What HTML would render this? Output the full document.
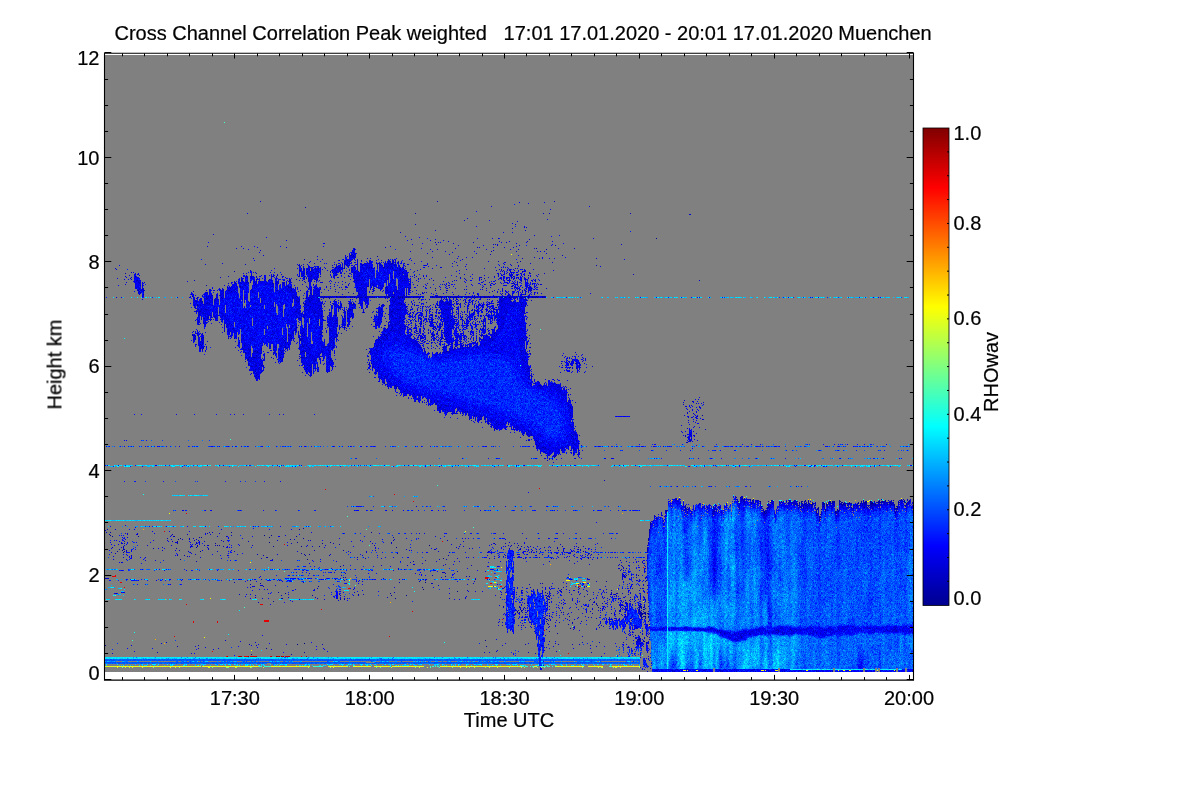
<!DOCTYPE html>
<html lang="en"><head><meta charset="utf-8"><title>Cross Channel Correlation Peak weighted</title>
<style>html,body{margin:0;padding:0;background:#fff;overflow:hidden}svg{display:block}text{font-family:"Liberation Sans", sans-serif;font-size:20px;fill:#000;stroke:#000;stroke-width:0.22px}</style></head><body>
<svg width="1200" height="800" viewBox="0 0 1200 800">
<rect width="1200" height="800" fill="#fff"/>
<defs><linearGradient id="jet" x1="0" y1="1" x2="0" y2="0"><stop offset="0" stop-color="#00008f"/><stop offset="0.125" stop-color="#0000ff"/><stop offset="0.375" stop-color="#00ffff"/><stop offset="0.5" stop-color="#80ff80"/><stop offset="0.625" stop-color="#ffff00"/><stop offset="0.875" stop-color="#ff0000"/><stop offset="1" stop-color="#800000"/></linearGradient></defs>
<rect x="105" y="55" width="808" height="617" fill="#808080"/>
<defs><g fill="none" stroke-width="1" shape-rendering="crispEdges"><path id="s0" d="M.5 0m0 0v1m0 8v1m0 1v1m0 13v1m0 4v1m0 6v1m0 3v2m0 2v1m1-44v1m0 2v1m0 2v1m0 1v1m0 4v2m0 7v2m0 5v1m0 2v1m1-32v1m0 8v1m0 1v1m0 6v1m0 2v2m0 6v1m0 8v1m0 5v1m1-47v2m0 8v1m0 3v1m0 3v1m0 2v1m0 3v1m0 3v1m0 2v1m0 2v1m0 9v1m1-47v1m0 5v1m0 5v1m0 9v1m0 1v1m0 3v1m0 1v2m0 2v1m0 5v1m0 1v1m0 4v1m1-42v1m0 4v1m0 1v1m0 3v1m0 4v1m0 2v1m0 4v1m0 5v1m0 5v1m0 4v1m1-37v1m0 1v1m0 2v1m0 15v1m0 2v1m0 4v1m0 1v1m0 1v1m1-45v1m0 16v2m0 5v1m0 2v1m0 13v1m0 1v1m0 1v1m1-44v2m0 3v1m0 3v1m0 2v1m0 1v1m0 4v2m0 2v1m0 1v1m0 5v1m0 3v1m0 2v1m0 2v1m1-44v1m0 7v1m0 7v1m0 4v1m0 1v2m0 7v1m0 2v1m0 1v1m0 7v3m1-46v1m0 1v1m0 3v1m0 2v1m0 6v2m0 8v1m0 1v3m0 1v2m0 1v2m0 4v1m0 2v1m1-46v1m0 9v3m0 5v1m0 4v2m0 2v1m0 1v1m0 6v1m0 1v2m0 4v1m0 1v1m1-47v1m0 8v1m0 13v1m0 9v1m0 2v1m0 1v1m0 5v1m1-43v1m0 6v1m0 2v1m0 2v2m0 1v1m0 5v1m0 11v2m0 1v2m0 5v1m1-42v1m0 5v1m0 2v1m0 2v1m0 6v1m0 8v4m0 3v1m0 3v1m1-37v2m0 13v1m0 5v1m0 3v1m0 1v2m0 6v3m1-44v1m0 1v3m0 4v1m0 1v1m0 6v1m0 2v1m0 1v1m0 1v2m0 2v1m0 1v2m0 2v1m0 1v1m0 3v1m0 1v1m1-46v1m0 3v1m0 1v1m0 1v4m0 9v1m0 6v1m0 2v1m0 5v2m1-37v3m0 7v1m0 4v1m0 7v1m0 1v1m0 1v2m0 2v1m0 3v1m1-38v2m0 8v1m0 1v1m0 1v1m0 4v1m0 4v1m0 1v3m0 6v1m0 7v1m1-45v1m0 5v1m0 4v1m0 7v2m0 7v1m0 2v1m0 1v3m0 3v3m0 3v1m1-38v1m0 14v1m0 5v1m0 2v1m0 12v1m1-43v2m0 3v2m0 2v1m0 4v1m0 3v1m0 1v1m0 8v1m0 1v3m0 1v1m0 1v1m1-38v3m0 1v1m0 4v1m0 1v2m0 1v2m0 6v2m0 7v1m0 5v1m1-28v1m0 3v1m0 6v1m0 1v1m0 6v2m0 7v2m1-27v3m0 1v1m0 3v2m0 1v1m0 1v1m0 1v1m0 6v2m0 3v1m0 2v1m1-47v1m0 4v1m0 3v1m0 2v2m0 2v1m0 6v1m0 9v2m0 1v3m0 1v1m0 2v1m0 2v1m1-43v1m0 3v1m0 4v1m0 1v1m0 1v1m0 1v1m0 1v1m0 4v2m0 10v2m0 1v1m0 2v1m1-46v2m0 4v1m0 1v3m0 3v1m0 2v1m0 12v2m0 9v1m0 3v1m0 1v1m1-47v1m0 2v1m0 3v1m0 4v1m0 1v2m0 2v1m0 4v2m0 3v1m0 2v1m0 11v1m1-44v1m0 5v1m0 1v1m0 3v1m0 6v1m0 3v2m0 2v1m0 2v4m0 3v1m0 2v1m0 1v1m1-44v1m0 8v1m0 17v1m0 1v1m0 1v2m0 2v1m0 2v2m0 2v1m0 4v1m1-47v1m0 4v1m0 9v1m0 9v1m0 2v1m0 6v2m0 8v1m1-43v1m0 5v1m0 1v2m0 4v3m0 7v1m0 2v1m0 9v1m1-42v1m0 24v1m0 8v1m0 2v1m0 2v1m1-34v1m0 1v1m0 1v2m0 6v1m0 1v1m0 4v2m0 4v1m0 1v1m0 5v1m0 1v1m0 4v1m1-43v1m0 14v2m0 6v1m0 6v1m0 1v1m0 1v1m0 2v1m1-41v2m0 2v2m0 4v5m0 2v1m0 1v1m0 2v1m0 1v2m0 2v1m0 5v1m0 10v1m1-47v1m0 5v2m0 4v6m0 12v1m0 5v1m0 8v1m1-47v1m0 7v2m0 1v2m0 24v1m0 4v1m0 3v2m1-44v3m0 1v7m0 3v1m0 1v2m0 7v1m0 4v2m0 6v2m0 2v1m1-46v2m0 4v2m0 4v1m0 8v3m0 3v1m0 1v1m0 5v2m0 8v1m1-45v3m0 2v1m0 2v1m0 6v1m0 10v1m0 8v1m0 9v1m1-43v1m0 3v2m0 7v1m0 3v1m0 6v1m0 3v3m0 3v1m0 3v1m0 2v1m1-42v1m0 1v1m0 4v2m0 1v1m0 16v3m0 2v1m0 2v1m0 1v2m1-37v1m0 23v1m0 2v1m0 3v1m1-35v1m0 1v1m0 1v1m0 2v1m0 2v1m0 6v1m0 3v1m0 10v1m0 6v1m0 1v2m1-47v1m0 1v1m0 5v1m0 3v1m0 10v1m0 1v1m0 8v1m0 5v2m0 1v1"/><path id="s1" d="M.5 0m0 6v3m0 4v1m0 9v2m0 10v1m0 8v1m0 1v1m1-47v2m0 1v1m0 3v1m0 9v2m0 4v1m0 5v1m0 3v1m0 1v4m0 3v2m0 1v1m1-41v1m0 3v1m0 1v1m0 1v1m0 1v1m0 1v2m0 9v3m0 4v1m0 3v1m0 3v1m1-41v1m0 5v2m0 3v1m0 1v1m0 1v1m0 9v1m0 6v1m0 1v1m0 3v3m1-41v1m0 5v1m0 8v1m0 1v2m0 4v2m0 1v1m0 13v3m1-46v2m0 1v2m0 10v1m0 13v1m0 3v1m0 1v1m0 7v3m1-39v1m0 6v1m0 4v1m0 1v3m0 6v1m0 2v1m0 2v1m0 4v1m0 1v1m0 1v2m1-46v2m0 4v1m0 1v2m0 2v3m0 4v1m0 2v1m0 2v1m0 2v2m0 3v1m0 3v2m1-35v1m0 11v1m0 13v1m0 3v1m0 10v1m1-46v1m0 1v1m0 3v1m0 1v1m0 2v1m0 7v1m0 6v1m0 3v1m0 7v1m0 3v1m1-44v1m0 9v1m0 10v2m0 3v1m0 6v1m0 10v1m0 2v1m1-32v1m0 17v1m1-35v1m0 1v1m0 4v1m0 4v3m0 4v1m0 9v1m0 3v1m0 6v1m0 3v1m0 2v1m1-46v1m0 2v3m0 4v1m0 8v1m0 7v1m0 3v1m0 9v1m0 1v1m1-41v1m0 11v1m0 3v2m0 6v1m0 2v1m0 7v1m0 1v1m1-41v1m0 1v1m0 3v1m0 3v1m0 1v2m0 7v1m0 9v1m0 4v1m0 1v1m1-41v1m0 1v1m0 1v1m0 3v2m0 3v1m0 3v1m0 13v1m0 4v1m0 4v2m1-41v1m0 5v1m0 6v2m0 3v1m0 5v1m0 3v2m0 5v1m0 2v1m0 2v1m1-36v2m0 2v1m0 3v1m0 4v1m0 7v1m0 3v1m0 12v1m1-47v1m0 5v1m0 1v1m0 15v1m0 5v2m0 15v1m1-41v1m0 5v1m0 4v1m0 10v1m0 14v1m0 2v1m1-43v2m0 3v1m0 1v1m0 2v1m0 2v1m0 1v3m0 17v1m0 2v2m0 1v1m1-47v1m0 4v2m0 3v2m0 6v1m0 1v1m0 4v2m0 2v1m0 3v1m0 8v2m0 1v1m1-46v1m0 9v1m0 5v1m0 4v1m0 5v5m0 3v1m0 5v3m0 3v1m1-45v1m0 2v1m0 1v1m0 3v1m0 1v3m0 1v1m0 2v1m0 10v1m0 3v5m1-37v1m0 3v2m0 17v1m0 9v1m0 4v1m1-40v2m0 2v1m0 7v1m0 5v1m0 3v1m0 2v3m0 1v1m0 3v1m0 8v1m1-45v1m0 2v1m0 5v1m0 12v1m0 5v1m0 4v3m0 4v1m0 4v1m1-44v1m0 3v1m0 5v1m0 1v2m0 1v1m0 2v1m0 1v1m0 2v1m0 8v1m0 1v2m1-37v2m0 6v1m0 7v1m0 12v1m0 4v1m0 8v2m1-47v1m0 5v1m0 8v1m0 29v1m1-44v2m0 8v1m0 3v1m0 1v1m0 7v1m0 3v1m0 2v2m0 6v1m0 3v1m1-44v2m0 4v1m0 8v1m0 1v1m0 7v2m0 14v1m0 3v1m1-47v1m0 9v1m0 3v1m0 1v1m0 3v2m0 11v2m0 9v1m1-44v1m0 7v1m0 6v1m0 2v1m0 7v1m0 6v2m0 4v2m0 4v1m1-44v1m0 11v3m0 5v2m0 9v1m0 2v1m0 4v1m1-44v1m0 3v1m0 3v2m0 1v1m0 1v1m0 5v1m0 11v2m0 1v1m0 5v1m0 2v1m1-34v1m0 6v2m0 6v1m0 2v1m0 13v1m1-39v1m0 1v1m0 2v1m0 1v1m0 7v1m0 1v1m0 1v1m0 2v1m0 1v1m0 10v1m0 2v3m1-43v1m0 10v1m0 5v1m0 4v1m0 8v3m0 7v1m1-37v1m0 7v1m0 6v1m0 2v1m0 2v1m0 1v1m0 1v1m0 7v1m0 3v2m1-37v1m0 2v1m0 1v1m0 6v1m0 4v1m0 6v2m0 4v1m0 2v2m1-39v2m0 5v2m0 8v4m0 1v1m0 2v1m0 1v1m0 11v1m1-44v1m0 1v1m0 2v1m0 1v1m0 10v1m0 3v1m0 2v2m0 4v1m0 4v2m0 6v1m1-46v1m0 1v1m0 3v1m0 7v1m0 2v2m0 11v1m0 14v1m1-36v1m0 3v1m0 2v1m0 2v2m0 3v3m0 1v1m0 10v2m0 3v1m1-44v1m0 9v1m0 4v1m0 6v1m0 5v1m0 2v1m0 1v1m0 4v1m1-35v1m0 2v2m0 4v1m0 4v1m0 8v1m0 1v1m0 1v1m0 2v1m0 1v1m0 6v1m0 1v1"/><path id="s2" d="M.5 0m0 12v1m0 6v1m0 8v1m1-9v2m0 10v1m1-32v2m0 7v1m0 27v1m1-22v1m0 3v1m0 10v1m1-31v1m0 30v1m1-29v1m0 14v1m0 10v1m1-32v1m0 28v1m1-24v1m0 4v1m0 16v1m2-25v1m0 8v1m0 3v1m0 22v1m1-29v1m0 3v1m0 6v1m0 3v1m0 11v1m1 4v1m1-3v1m2-24v1m0 19v1m1-22v1m0 12v1m0 7v1m2-17v2m0 3v1m0 13v1m1-41v1m0 16v1m0 27v1m1-41v1m0 11v1m0 15v1m0 4v1m1-16v1m1-12v1m0 12v1m0 3v1m0 2v1m1-13v1m0 1v1m0 16v1m1-36v1m0 38v1m1-16v1m0 10v1m1-37v1m0 39v1m1-46v1m0 26v1m0 5v1m1-27v1m0 4v1m0 2v1m0 3v1m1-9v1m0 20v1m1-28v1m0 8v1m0 2v1m0 4v1m1-21v1m0 1v1m0 3v1m0 7v1m0 1v1m1-2v1m0 5v1m0 1v1m1-14v1m0 9v1m0 18v1m1-37v2m0 25v1m1-32v1m0 1v1m0 28v1m0 6v1m0 3v1m1-15v1m0 14v1m1-33v1m0 4v1m0 7v1m0 1v1m1 5v1m0 11v2m1-45v2m0 8v1m0 21v1m0 5v1m1-19v1m0 6v1m0 2v1m1 4v2m1-1v1m2 2v1m1-34v1m0 20v1m0 16v1m1-39v1m0 3v1m0 10v2m0 7v1m1-20v1m0 24v1m1-12v1m0 9v1m0 1v1"/><path id="s3" d="M0 .5m11 0h1m27 1h1m7 0h1m-48 1h1m4 0h1m3 0h1m10 0h1m22 0h1m-38 1h1m7 0h1m6 0h1m14 0h1m-35 1h1m8 0h1m29 0h1m-30 1h1m24 0h1m9 0h1m-47 1h1m10 0h1m18 1h1m1 0h1m-29 1h2m1 0h1m-1 1h1m23 0h1m11 0h1m-34 1h1m24 0h1m4 0h1m2 0h1m-32 1h1m10 0h1m7 0h1m-26 1h1m35 0h1m-21 1h1m-24 1h1m3 0h2m3 0h1m12 0h1m8 0h1m4 0h1m-4 2h1m9 0h1m2 0h2m-30 1h1m-2 1h1m28 1h1m-23 1h1m1 0h1m11 0h2m2 0h1m4 1h1m-41 1h1m4 0h1m-11 1h2m10 0h1m-5 1h1m2 0h1m7 0h1m3 0h1m1 0h1m5 0h1m-25 1h1m6 0h1m22 0h1m-34 1h1m13 0h1m15 0h1m-31 2h1m7 0h1m6 0h1m6 0h1m10 0h1m-16 1h1m5 0h1m12 1h1m-33 1h1m13 0h1m17 0h1m-37 1h1m10 0h1m1 0h1m26 0h1m-39 1h1m9 0h1m12 0h1m7 0h1m1 0h1m3 1h1m-2 1h1m-23 1h1m16 0h1m-35 1h1m9 0h1m-12 1h1m19 0h1m18 0h1m-23 1h2m15 0h1m-35 1h1m1 0h1m18 0h1m12 0h1m1 0h1m-23 1h1m9 0h1m12 0h1m-41 1h1m-3 1h1m26 0h2m4 0h1m8 0h1m-40 1h1m26 0h1m3 0h1m-32 1h1m31 0h1m-23 1h1m-13 1h1m12 0h1m21 0h1m1 0h1"/></g><pattern id="p0" width="48" height="48" patternUnits="userSpaceOnUse"><rect width="48" height="48" fill="#000080"/><use href="#s0" stroke="#00009a"/><use href="#s1" stroke="#000080"/><use href="#s2" stroke="#0000ba"/><use href="#s3" stroke="#000080"/></pattern><pattern id="p1" width="48" height="48" patternUnits="userSpaceOnUse"><rect width="48" height="48" fill="#000094"/><use href="#s0" stroke="#0000ae"/><use href="#s1" stroke="#000080"/><use href="#s2" stroke="#0000ce"/><use href="#s3" stroke="#000080"/></pattern><pattern id="p2" width="48" height="48" patternUnits="userSpaceOnUse"><rect width="48" height="48" fill="#0000a8"/><use href="#s0" stroke="#0000c3"/><use href="#s1" stroke="#00008e"/><use href="#s2" stroke="#0000e3"/><use href="#s3" stroke="#000080"/></pattern><pattern id="p3" width="48" height="48" patternUnits="userSpaceOnUse"><rect width="48" height="48" fill="#0000bd"/><use href="#s0" stroke="#0000d7"/><use href="#s1" stroke="#0000a2"/><use href="#s2" stroke="#0000f7"/><use href="#s3" stroke="#000082"/></pattern><pattern id="p4" width="48" height="48" patternUnits="userSpaceOnUse"><rect width="48" height="48" fill="#0000d1"/><use href="#s0" stroke="#0000ec"/><use href="#s1" stroke="#0000b7"/><use href="#s2" stroke="#000cff"/><use href="#s3" stroke="#000097"/></pattern><pattern id="p5" width="48" height="48" patternUnits="userSpaceOnUse"><rect width="48" height="48" fill="#0000e6"/><use href="#s0" stroke="#0001ff"/><use href="#s1" stroke="#0000cb"/><use href="#s2" stroke="#0021ff"/><use href="#s3" stroke="#0000ab"/></pattern><pattern id="p6" width="48" height="48" patternUnits="userSpaceOnUse"><rect width="48" height="48" fill="#0000fa"/><use href="#s0" stroke="#0015ff"/><use href="#s1" stroke="#0000df"/><use href="#s2" stroke="#0035ff"/><use href="#s3" stroke="#0000c0"/></pattern><pattern id="p7" width="48" height="48" patternUnits="userSpaceOnUse"><rect width="48" height="48" fill="#000fff"/><use href="#s0" stroke="#002aff"/><use href="#s1" stroke="#0000f4"/><use href="#s2" stroke="#004aff"/><use href="#s3" stroke="#0000d4"/></pattern><pattern id="p8" width="48" height="48" patternUnits="userSpaceOnUse"><rect width="48" height="48" fill="#0024ff"/><use href="#s0" stroke="#003eff"/><use href="#s1" stroke="#0009ff"/><use href="#s2" stroke="#005eff"/><use href="#s3" stroke="#0000e8"/></pattern><pattern id="p9" width="48" height="48" patternUnits="userSpaceOnUse"><rect width="48" height="48" fill="#0038ff"/><use href="#s0" stroke="#0053ff"/><use href="#s1" stroke="#001eff"/><use href="#s2" stroke="#0072ff"/><use href="#s3" stroke="#0000fd"/></pattern><pattern id="p10" width="48" height="48" patternUnits="userSpaceOnUse"><rect width="48" height="48" fill="#004dff"/><use href="#s0" stroke="#0067ff"/><use href="#s1" stroke="#0032ff"/><use href="#s2" stroke="#0087ff"/><use href="#s3" stroke="#0012ff"/></pattern><pattern id="p11" width="48" height="48" patternUnits="userSpaceOnUse"><rect width="48" height="48" fill="#0061ff"/><use href="#s0" stroke="#007bff"/><use href="#s1" stroke="#0046ff"/><use href="#s2" stroke="#009bff"/><use href="#s3" stroke="#0027ff"/></pattern><pattern id="p12" width="48" height="48" patternUnits="userSpaceOnUse"><rect width="48" height="48" fill="#0075ff"/><use href="#s0" stroke="#0090ff"/><use href="#s1" stroke="#005bff"/><use href="#s2" stroke="#00b0ff"/><use href="#s3" stroke="#003bff"/></pattern><pattern id="p13" width="48" height="48" patternUnits="userSpaceOnUse"><rect width="48" height="48" fill="#008aff"/><use href="#s0" stroke="#00a4ff"/><use href="#s1" stroke="#006fff"/><use href="#s2" stroke="#00c4ff"/><use href="#s3" stroke="#004fff"/></pattern><pattern id="p14" width="48" height="48" patternUnits="userSpaceOnUse"><rect width="48" height="48" fill="#009eff"/><use href="#s0" stroke="#00b9ff"/><use href="#s1" stroke="#0084ff"/><use href="#s2" stroke="#00d8ff"/><use href="#s3" stroke="#0064ff"/></pattern><pattern id="p15" width="48" height="48" patternUnits="userSpaceOnUse"><rect width="48" height="48" fill="#00b3ff"/><use href="#s0" stroke="#00cdff"/><use href="#s1" stroke="#0098ff"/><use href="#s2" stroke="#00edff"/><use href="#s3" stroke="#0078ff"/></pattern><pattern id="p16" width="48" height="48" patternUnits="userSpaceOnUse"><rect width="48" height="48" fill="#00c7ff"/><use href="#s0" stroke="#00e1ff"/><use href="#s1" stroke="#00acff"/><use href="#s2" stroke="#02fffd"/><use href="#s3" stroke="#008dff"/></pattern><pattern id="p17" width="48" height="48" patternUnits="userSpaceOnUse"><rect width="48" height="48" fill="#00dbff"/><use href="#s0" stroke="#00f6ff"/><use href="#s1" stroke="#00c1ff"/><use href="#s2" stroke="#17ffe8"/><use href="#s3" stroke="#00a1ff"/></pattern><pattern id="p18" width="48" height="48" patternUnits="userSpaceOnUse"><rect width="48" height="48" fill="#00f0ff"/><use href="#s0" stroke="#0bfff4"/><use href="#s1" stroke="#00d5ff"/><use href="#s2" stroke="#2bffd4"/><use href="#s3" stroke="#00b5ff"/></pattern><pattern id="p20" width="48" height="48" patternUnits="userSpaceOnUse"><rect width="48" height="48" fill="#1affe5"/><use href="#s0" stroke="#34ffcb"/><use href="#s1" stroke="#00feff"/><use href="#s2" stroke="#54ffab"/><use href="#s3" stroke="#00deff"/></pattern></defs>
<g transform="translate(105 55)" fill="none" stroke-width="1" shape-rendering="crispEdges">
<path stroke="url(#p0)" d="M.5 0m317 532v1m1 1v1"/>
<path stroke="url(#p1)" d="M.5 0m73 484v1m2-2v1m84-4v1m5 1v1m12 57v1m20-50v1m4 8v1m91-9v1m151 75v1m96-11v1m1-1v1m1 0v1m0 1v1m3-3v1m0 1v2"/>
<path stroke="url(#p2)" d="M.5 0m4 479v1m1 0v1m5 17v1m2-3v1m5-2v1m52-15v1m3 4v1m35-10v1m3 10v1m2 1v1m2-1v1m47 11v1m0 90v1m1-92v1m2-16v1m9 49v1m3 5v1m16-57v1m0 101v1m7-91v1m0 88v1m0 8v1m3-94v1m15-17v1m21 6v1m0 26v1m2-1v1m52-25v1m22 27v1m6 0v1m4-38v1m16 30v1m12 14v1m12-16v1m17 69v1m22-87v1m11 46v1m27-13v1m0 5v1m0 1v1m0 17v1m1-26v1m1 2v1m0 20v1m0 3v1m1-23v1m23 19v1m12-27v1m13 8v1m44 1v2m0 1v1m0 1v3m1-2v2m1-6v1m0 1v1m0 4v1m1-5v1m0 3v1m1-5v2m0 3v1m1-38v1m1-36v1m0 1v4m0 34v1m0 27v1m1-76v3m0 72v1m1-85v5m1-12v3m37-16v1m52-7v1m25 7v4m4-14v1m31 0v2m2-3v2m1-2v1m0 1v1m1 0v2m1-5v4m1-5v2m0 1v1m1-2v3m1-1v3m2-4v1m2 0v1m4-3v2m1 5v2m1-3v2m1-3v4m1 5v2m1-4v1m1-6v1m1-8v1m3 6v1m7-9v2m1-2v2m1-2v2m1 8v2m1-2v3m1-5v2m1-1v1m1-11v3m1-2v1m1 0v1m1-1v1m1 0v1m1-2v1m7 0v1m11-1v1m1-4v3m1-1v2m1-3v3m1-3v3m4-3v3m1-3v3m1-2v2m1-1v2m1-4v1m4-1v1m1-2v3m1-1v1m1-4v1m12 0v1m1 3v3m1 1v2m1-4v1m0 1v1m1-3v3m1-8v2m6-3v1m1 1v1"/>
<path stroke="url(#p3)" d="M0 .5m491 210h1m36 9h1m-317 23h1m3 0h2m1 0h5m1 0h2m5 0h3m1 0h7m1 0h2m3 0h1m1 0h1m1 0h1m1 0h1m4 0h2m2 0h1m1 0h4m1 0h1m1 0h1m6 0h2m2 0h1m1 0h6m1 0h6m2 0h1m1 0h1m2 0h1m5 0h2m4 0h1m6 0h2m2 0h1m3 0h1m1 0h2m1 0h2m1 0h1m1 0h1m1 0h1m1 0h1m2 0h2m1 0h1m5 0h2m2 0h2m3 0h1m1 0h1m1 0h1m1 0h3m1 0h1m1 0h2m2 0h1m1 0h1m1 0h1m3 0h1m1 0h1m1 0h2m2 0h1m1 0h4m4 0h3m1 0h1m1 0h1m2 0h2m1 0h2m2 0h1m2 0h4m5 0h1m1 0h1m195 199h2m-3 1h3m-3 1h3m1 0h1m-8 1h1m2 0h1m2 0h2m5 0h1m2 0h1m147 0h1m1 0h1m3 0h1m-165 1h2m7 0h2m3 0h2m27 0h1m1 0h3m3 0h2m12 0h1m76 0h1m2 0h1m2 0h1m7 0h4m4 0h1m-170 1h1m4 0h1m15 0h2m25 0h1m2 0h2m5 0h2m10 0h1m1 0h1m18 0h2m30 0h1m19 0h5m3 0h3m8 0h1m1 0h3m-154 1h1m8 0h1m9 0h1m17 0h2m1 0h1m16 0h1m3 0h1m10 0h1m4 0h3m18 0h1m8 0h1m2 0h1m12 0h1m1 0h3m2 0h4m1 0h2m2 0h4m5 0h1m4 0h1m-167 1h1m12 0h1m16 0h1m18 0h1m9 0h1m3 0h1m6 0h1m3 0h3m7 0h3m1 0h1m1 0h1m1 0h5m4 0h3m2 0h7m4 0h1m1 0h2m1 0h1m2 0h1m10 0h2m2 0h2m3 0h1m2 0h2m2 0h1m1 0h1m5 0h1m7 0h1m-168 1h1m27 0h3m29 0h1m1 0h2m2 0h1m3 0h1m2 0h1m2 0h1m6 0h3m1 0h2m4 0h3m4 0h7m1 0h5m1 0h2m1 0h2m4 0h1m1 0h3m3 0h3m2 0h2m2 0h2m5 0h2m10 0h1m7 0h1m-168 1h1m27 0h1m1 0h1m28 0h1m3 0h1m1 0h3m2 0h1m1 0h1m3 0h1m8 0h1m1 0h2m3 0h1m11 0h2m2 0h1m3 0h1m1 0h1m2 0h2m1 0h1m2 0h1m1 0h1m2 0h3m1 0h3m6 0h1m24 0h2m-222 1h1m53 0h1m21 0h1m7 0h1m30 0h1m2 0h2m1 0h1m4 0h1m41 0h1m14 0h1m4 0h1m-189 1h1m1 0h1m25 0h1m47 0h1m7 0h1m30 0h1m2 0h1m3 0h1m3 0h1m41 0h1m40 0h1m-210 1h1m27 0h1m52 0h1m40 0h1m86 0h1m-210 1h1m26 0h2m49 0h1m132 0h2m-233 1h2m45 0h2m49 0h1m1 0h2m58 0h1m-161 1h1m21 0h1m24 0h2m49 0h1m1 0h2m49 0h1m1 0h1m2 0h1m3 0h1m11 0h2m56 0h1m-231 1h1m46 0h2m49 0h1m1 0h2m49 0h1m21 0h1m56 0h1m-184 1h2m49 0h1m1 0h2m50 0h1m17 0h1m-71 1h1m69 0h1m-72 1h1m71 0h1m-173 1h1m99 0h1m55 0h1m-1 1h1m-2 1h1m-157 2h1m-13 1h1m11 0h1m-14 4h1m-1 1h1m-420 6h1m139 0h1m-162 2h1m438 0h1m-379 1h1m-160 1h1m25 0h1m34 0h1m8 3h1m13 0h1m-3 1h1m3 0h1m22 0h1m100 0h1m70 0h1m53 0h1m-272 2h2m18 0h1m194 0h1m-1 1h1m-53 1h1m-193 1h1m67 0h1m109 0h1m-7 1h1m242 0h1m20 0h1m-463 1h1m1 0h1m72 0h1m127 0h1m192 0h1m60 0h1m-456 1h1m433 0h1m-439 1h1m3 0h2m453 0h1m1 0h1m-267 1h1m-191 1h1m75 0h1m446 0h1m-525 1h1m133 2h1m51 0h1m20 0h1m254 0h1m-402 1h1m78 0h1m65 0h1m175 0h1m81 0h1m-401 1h1m285 1h1m-109 1h1m77 0h1m2 1h1m-22 1h1m195 2h1m-79 2h1m-73 1h1m149 0h1m0 1h1m0 1h1m-157 1h1m-11 3h1m-117 1h1m2 0h1m0 1h1m99 0h1m-105 2h1m296 0h1m-173 1h1m179 0h1m-206 1h1m203 0h2m-2 1h1m-311 1h1m63 0h1m-150 1h1m355 1h1m38 0h1m-412 1h1m68 0h1m95 0h1m31 1h2m109 0h1m18 6h1m49 1h1m-218 2h1m216 0h1m-222 1h1m156 0h1m63 0h1m4 0h2m-255 1h1m246 0h2m1 0h3m-225 1h1m14 0h1m141 0h1m-8 1h1m6 0h1m0 1h1m74 0h1m-343 1h1m112 0h1m153 1h1m40 0h1m-52 1h1m85 0h1m-353 1h1m265 0h1m83 0h1m-366 1h1m334 0h2m27 0h1m2 0h1m-92 1h1m61 0h1m-5 1h1m3 0h1m-76 1h1m5 0h1m18 0h1m-28 1h1m120 0h2m-122 1h1m3 0h1m73 0h1m40 0h2m2 0h1m-124 1h1m2 0h1m97 0h1m17 0h1m-125 1h1m4 0h1m2 0h1m96 0h1m1 0h1m16 0h1m4 0h1m-130 1h2m1 0h1m2 0h2m97 0h1m18 0h1m-123 1h1m3 0h1m118 0h1m-1 1h1m-1 1h1m-1 1h1m-1 1h2m-2 1h2m-1 1h2m-98 1h1m84 0h1m14 0h1m-100 1h2m26 0h1m-25 1h1m18 0h1m78 1h1m-147 1h1m69 1h1m-71 2h1m46 1h1m-2 1h1m24 0h1m-4 1h1m3 0h1m-2 1h1m5 1h1m-35 5h1m3 6h1m-295 1h1m-7 2h1m72 0h1m249 0h1m-468 1h1m467 3h1m-30 2h1m11 1h1m-73 1h1m50 1h1"/>
<path stroke="url(#p4)" d="M0 .5m155 146h1m293 0h1m-308 12h1m382 0h1m58 1h2m-256 16h1m-36 2h1m-188 2h1m442 4h1m-36 6h1m-67 1h1m-349 1h1m78 1h1m287 1h1m-327 1h1m11 1h1m335 8h1m-296 7h1m179 12h1m-183 3h1m-113 1h1m283 3h1m12 0h1m-37 1h1m97 3h1m-173 2h1m-59 6h108m6 0h116m-230 1h1m3 0h1m2 0h1m5 0h1m2 0h5m3 0h1m7 0h1m2 0h3m1 0h1m1 0h1m1 0h1m1 0h4m2 0h2m1 0h1m4 0h1m3 0h6m2 0h2m8 0h1m6 0h2m1 0h1m1 0h2m1 0h5m2 0h2m1 0h1m9 0h2m1 0h3m1 0h1m2 0h1m2 0h1m3 0h1m1 0h1m1 0h2m2 0h1m1 0h4m3 0h2m2 0h3m1 0h1m1 0h1m1 0h1m3 0h1m1 0h1m2 0h2m1 0h1m1 0h1m1 0h3m3 0h1m3 0h1m1 0h1m4 0h4m5 0h1m1 0h2m5 0h2m1 0h2m4 0h5m1 0h1m191 200h1m-61 1h1m-5 1h1m5 0h1m62 0h2m2 0h1m2 0h2m160 0h1m-241 1h1m6 0h1m59 0h1m2 0h3m7 0h1m4 0h2m14 0h2m136 0h2m-174 1h1m2 0h1m3 0h1m5 0h1m1 0h2m2 0h3m12 0h3m5 0h1m1 0h1m1 0h1m9 0h3m105 0h1m6 0h2m-167 1h2m7 0h2m3 0h2m12 0h3m5 0h3m4 0h1m3 0h1m1 0h5m88 0h1m2 0h2m10 0h3m4 0h3m2 0h1m-242 1h1m71 0h2m9 0h1m3 0h3m11 0h2m10 0h2m2 0h4m1 0h4m32 0h1m31 0h1m19 0h1m2 0h2m3 0h1m1 0h1m1 0h1m6 0h1m1 0h2m-166 1h1m12 0h1m8 0h1m9 0h1m13 0h1m3 0h1m2 0h1m4 0h2m10 0h1m1 0h1m2 0h1m14 0h3m24 0h1m4 0h2m1 0h1m10 0h1m3 0h1m2 0h4m5 0h4m5 0h1m-215 1h1m28 0h1m23 0h1m29 0h1m1 0h1m16 0h1m11 0h1m1 0h1m6 0h1m3 0h1m1 0h1m7 0h2m8 0h3m4 0h4m2 0h1m2 0h1m1 0h1m3 0h2m2 0h1m1 0h1m2 0h1m1 0h2m3 0h1m3 0h3m1 0h2m6 0h2m4 0h1m5 0h1m-217 1h1m1 0h1m28 0h1m48 0h1m5 0h1m1 0h1m16 0h1m11 0h1m2 0h1m2 0h1m3 0h1m2 0h1m9 0h3m1 0h2m3 0h1m7 0h7m2 0h1m1 0h1m5 0h2m4 0h1m1 0h3m3 0h3m2 0h2m28 0h2m-225 1h1m1 0h1m4 0h1m24 0h1m2 0h1m21 0h1m27 0h1m36 0h1m1 0h1m17 0h1m2 0h1m19 0h1m3 0h1m4 0h2m6 0h1m2 0h1m1 0h1m3 0h1m32 0h1m-225 1h1m3 0h1m1 0h2m24 0h1m24 0h1m21 0h2m4 0h1m1 0h1m33 0h1m7 0h1m40 0h2m19 0h1m-190 1h1m1 0h1m27 0h1m2 0h1m51 0h1m37 0h1m44 0h1m41 0h1m-228 1h1m17 0h1m4 0h1m23 0h1m46 0h2m133 0h1m-231 1h1m18 0h1m28 0h1m181 0h2m-232 1h1m20 0h1m26 0h1m103 0h1m2 0h1m3 0h1m11 0h1m-173 1h1m48 0h1m101 0h1m1 0h1m2 0h1m3 0h1m11 0h2m56 0h1m-184 1h2m49 0h1m2 0h1m50 0h1m-156 1h1m49 0h1m52 0h1m69 0h1m-182 1h1m181 0h1m-183 1h1m109 0h1m-101 2h1m154 0h1m-167 1h1m165 0h1m-169 3h1m11 0h1m-1 1h1m-539 1h1m524 2h1m-348 1h1m346 0h1m-541 4h1m98 0h1m101 0h1m-185 1h1m9 0h1m69 0h1m-81 1h1m8 0h2m34 0h1m14 0h1m-17 1h1m477 0h1m-433 1h1m8 0h1m51 0h2m16 0h1m352 0h1m-523 1h1m71 0h1m1 0h1m-9 1h1m100 1h1m99 0h1m-118 1h1m-79 1h1m23 0h1m24 0h1m121 0h1m-196 1h1m22 0h2m130 0h1m317 0h1m-472 1h1m18 0h2m93 0h1m80 0h1m132 0h1m8 0h1m2 0h1m130 0h1m-454 1h1m364 0h1m-437 1h1m72 0h1m9 0h2m165 0h1m136 0h1m6 0h1m-396 1h1m67 0h2m4 0h1m25 0h1m49 0h1m38 0h1m217 0h1m45 0h1m-49 1h1m4 0h1m23 0h1m-405 1h1m355 0h1m53 0h2m-159 1h1m28 0h1m83 0h1m8 0h1m2 0h1m31 0h1m13 0h1m-452 1h1m35 0h1m16 0h1m22 0h1m315 0h1m9 0h1m3 0h1m15 0h1m1 0h1m7 0h1m4 0h1m16 0h1m-455 1h1m239 0h1m71 0h1m92 0h1m31 0h1m19 0h1m-218 1h1m197 0h1m82 0h1m-457 1h1m109 0h1m286 0h1m-466 1h1m71 0h1m308 0h1m12 0h2m55 0h1m13 0h1m2 0h1m6 0h1m-151 1h1m124 0h1m16 0h1m-478 1h1m75 0h1m313 0h1m70 0h1m10 0h1m-47 1h1m48 0h1m1 0h1m2 0h1m-333 1h1m195 0h1m130 0h1m-409 1h1m91 0h1m84 0h1m-203 1h1m464 0h1m23 0h1m-449 1h1m262 0h1m-339 1h1m366 0h1m153 0h1m0 1h2m-232 1h1m205 0h1m-239 1h1m25 0h1m210 0h1m25 0h1m-305 1h1m49 0h1m254 0h1m-28 2h2m3 0h1m-3 1h1m1 1h1m15 0h1m-198 2h3m-30 1h1m206 1h2m12 0h1m-15 1h3m11 0h1m5 0h1m-21 1h4m-4 1h1m1 0h2m10 0h1m-162 1h1m-155 1h1m40 0h1m63 0h1m48 0h1m-229 1h1m31 0h1m140 0h1m4 0h1m-181 1h1m228 0h1m121 0h1m-337 2h1m212 0h1m66 0h1m-291 1h1m216 0h1m61 0h1m48 0h1m64 0h1m-369 1h1m162 0h1m204 0h1m-326 1h1m267 0h1m-154 1h1m129 0h1m-247 1h1m32 0h1m207 0h1m59 0h1m23 0h2m-349 1h1m57 0h1m264 0h1m-257 1h1m196 0h2m12 0h2m11 0h1m-27 1h2m-17 1h1m3 0h1m-265 1h1m255 0h1m7 0h1m-262 1h1m212 0h1m47 0h1m37 0h1m40 0h1m-317 1h1m24 0h1m212 0h1m65 0h1m-68 1h1m60 0h1m14 0h1m-371 1h1m32 0h1m26 0h1m71 0h1m112 0h1m103 0h1m18 0h1m-362 1h1m54 0h1m22 0h1m108 0h1m-126 1h1m15 0h1m113 0h1m190 0h1m-308 1h1m250 0h1m31 0h1m7 0h1m-338 1h1m258 0h1m42 0h1m26 0h1m-71 1h1m74 0h1m-103 1h1m77 0h1m22 0h2m-106 1h1m99 0h2m18 0h1m-22 1h4m15 0h2m3 0h1m-111 1h1m14 0h1m52 0h2m16 0h1m3 0h1m14 0h1m4 0h1m-25 1h1m1 0h1m15 0h1m5 0h1m-120 1h1m74 0h1m22 0h1m21 0h1m-22 1h1m13 0h1m-132 1h1m17 0h1m72 0h1m20 0h1m5 0h1m12 0h1m-49 1h1m28 0h2m4 0h1m13 0h1m8 0h1m-132 1h1m1 0h1m2 0h1m116 0h1m-48 1h1m45 0h2m-26 1h1m24 0h1m-97 1h1m70 0h1m-46 1h1m45 0h1m-73 1h1m47 0h1m-52 1h1m8 0h1m46 0h1m14 0h1m2 0h2m25 0h1m-92 1h1m81 0h1m7 0h1m1 0h1m-12 1h1m-32 1h1m-1 1h1m29 0h1m-31 1h1m-33 1h1m30 0h1m25 0h1m18 0h1m1 0h2m1 0h1m-52 1h1m2 0h1m-28 1h1m28 0h1m-30 1h1m24 0h1m295 0h2m-57 1h4m50 0h3m-351 1h1m49 0h1m296 0h3m-140 1h4m15 0h5m51 0h1m63 0h2m-363 1h1m14 0h1m171 0h1m55 0h4m-59 1h1m56 0h1m-134 3h1m-65 1h1m64 0h1m-4 1h1m4 0h1m-14 1h1m1 0h3m3 0h1m-8 1h4m1 0h1m6 0h1m-425 1h1m259 0h1m151 0h4m2 0h1m-8 1h5m2 0h2m3 0h1m-50 1h1m36 0h3m7 0h2m-143 1h1m22 0h1m-271 1h1m27 0h1m238 0h1m22 0h1m9 0h1m-428 1h1m119 0h1m4 0h1m-80 1h1m418 0h1m-53 1h1m1 0h1m-224 1h1m0 1h1m-168 3h1m370 0h1m-338 1h1m59 1h1m39 0h1"/>
<path stroke="url(#p5)" d="M.5 0m1 477v1m4 7v1m1 7v1m0 3v1m1-6v1m1 11v1m2-292v1m0 260v1m1-261v1m1 8v1m1 6v1m0 258v1m1-280v1m0 275v1m2 0v2m1-1v1m0 18v1m1-6v1m1-279v1m0 261v1m0 1v1m1-271v1m0 2v1m0 7v1m0 248v1m0 5v1m1-263v1m0 4v1m0 261v1m0 7v1m1-284v1m0 272v1m0 9v1m0 95v1m1-370v1m1-5v1m0 253v1m1-252v1m1-7v1m0 4v1m0 1v1m2-8v1m0 8v1m1-8v9m0 8v1m0 237v1m0 121v1m1-379v16m0 238v1m1-252v13m1-15v1m0 2v14m1-18v2m0 2v17m1-19v1m0 2v17m1-15v14m1-5v4m1-11v16m0 1v1m1-17v1m0 1v1m0 2v10m1-16v1m0 7v1m1-7v1m5 257v1m8 5v1m3 94v1m3-96v1m5-18v1m1 4v1m1 2v1m0 5v1m1-5v1m3 8v1m1-3v1m12 2v1m1-255v1m0 240v2m0 12v1m1-259v1m0 1v2m0 5v1m0 238v1m0 1v1m0 1v2m0 4v1m1-261v3m0 3v1m0 8v1m0 32v1m0 204v1m1-253v4m0 35v1m0 1v2m0 208v1m1-254v1m0 2v12m0 25v1m0 2v9m1-63v1m0 16v11m0 3v1m0 22v8m0 311v1m1-359v1m0 4v9m0 2v1m0 8v1m0 10v3m0 1v5m0 4v3m0 299v1m1-349v1m0 1v6m0 2v1m0 1v4m0 5v1m0 9v1m0 3v1m0 10v1m1-48v15m0 5v8m0 5v6m1-39v1m0 3v24m0 7v14m0 299v1m1-347v24m0 1v1m0 6v1m0 1v2m0 2v15m0 191v2m1-247v18m0 7v1m0 9v1m0 2v1m0 4v11m0 205v1m1-299v1m0 38v22m0 14v15m1-54v2m0 4v16m0 16v19m1-58v1m0 1v2m0 6v20m0 11v14m1-56v36m0 17v1m0 7v1m0 186v1m0 3v1m1-282v1m0 27v35m0 5v1m0 11v1m0 5v2m0 181v2m0 112v1m1-363v1m0 4v1m0 1v29m0 1v2m0 22v4m1-58v14m0 3v12m0 1v1m0 18v1m0 205v1m1-306v1m0 52v9m0 6v10m0 1v1m0 226v2m1-261v15m0 6v6m0 3v1m1-31v14m0 8v10m0 26v1m1-58v1m0 2v10m0 8v7m0 1v1m0 3v1m1-37v2m0 6v8m0 8v1m0 5v1m1-28v1m0 1v1m0 18v6m0 2v1m0 329v1m1-360v1m0 8v4m0 8v7m1-20v5m0 8v10m1-27v8m0 9v10m1-31v1m0 2v9m0 9v10m0 230v1m1-263v1m0 9v3m0 13v1m0 332v1m1-361v3m0 4v1m0 15v5m0 6v1m0 210v1m1-257v1m0 11v12m0 11v6m0 1v1m1-30v10m0 12v10m0 2v1m1-62v1m0 24v11m0 14v10m0 4v1m0 4v1m1-44v10m0 15v6m1-35v1m0 29v17m1-41v6m0 19v8m1-34v6m0 21v11m0 219v1m1-262v9m0 23v17m0 201v1m0 9v2m1-272v1m0 6v1m0 1v1m0 1v7m0 26v19m0 212v1m0 1v1m0 1v1m1-270v8m0 27v14m0 1v1m1-50v6m0 30v9m0 3v2m0 1v1m0 213v1m1-271v2m0 2v6m0 32v14m0 197v1m1-254v1m0 1v8m0 34v10m1-52v7m0 36v6m1-62v1m0 9v10m0 38v10m1-57v8m0 40v9m0 2v1m0 5v1m1-100v1m0 32v1m0 1v7m0 42v7m1-53v3m0 56v1m1-67v5m0 50v1m0 2v10m0 3v1m0 295v1m1-369v10m0 52v8m0 197v1m0 48v1m1-313v6m0 61v1m0 2v1m0 288v1m1-396v1m0 30v10m0 51v5m0 5v2m0 1v1m0 3v1m1-78v9m0 52v11m1-102v1m0 24v1m0 1v2m0 1v1m0 2v5m0 54v13m1-78v2m0 5v4m0 55v12m1-89v1m0 11v10m0 57v17m0 1v1m0 234v1m1-324v1m0 1v10m0 59v15m0 8v1m1-92v9m0 60v16m0 226v1m1-316v1m0 9v3m0 61v20m1-19v19m0 3v2m1-101v3m0 3v7m0 65v23m0 3v1m0 212v1m0 10v1m1-328v10m0 76v14m0 2v1m1-98v4m0 73v18m0 165v1m0 8v1m0 40v1m1-329v1m0 13v1m0 3v8m0 66v24m1-128v1m0 13v1m0 16v7m0 67v26m1-105v1m0 8v3m0 67v28m0 216v1m1-323v1m0 2v2m0 1v5m0 66v31m1-134v1m0 30v2m0 4v1m0 65v31m0 266v1m1-369v1m0 1v4m0 65v29m1-127v1m0 23v1m0 1v7m0 64v31m1-104v1m0 4v4m0 64v25m0 211v1m1-311v1m0 5v4m0 63v6m0 5v14m0 206v1m0 5v1m1-308v1m0 2v4m0 73v1m0 1v7m0 3v2m0 213v1m1-331v1m0 25v4m0 66v1m0 2v2m0 3v2m0 4v6m1-96v10m0 68v8m0 6v1m1-93v10m1-48v1m0 43v4m1-3v3m0 61v1m0 5v1m1-73v5m0 67v1m0 245v1m1-324v1m0 3v6m0 61v3m1-77v1m0 6v6m0 61v3m0 1v1m1-81v1m0 3v11m0 65v1m0 6v1m1-82v1m0 3v5m1-11v3m0 6v2m0 61v5m0 1v3m0 3v1m1-91v1m0 3v1m0 2v1m0 1v1m0 68v8m1-76v7m0 61v10m0 6v1m1-87v9m0 60v6m0 2v5m1-84v2m0 2v1m0 2v4m0 74v1m0 194v1m1-276v5m0 64v15m1-84v1m0 5v1m0 58v18m0 1v1m1-118v1m0 25v1m0 6v1m0 4v2m0 57v20m1-89v1m0 67v20m1-86v2m0 1v1m0 2v5m0 54v21m0 219v1m1-306v1m0 2v2m0 1v5m0 53v18m1-79v2m0 1v6m0 51v9m0 2v1m0 2v1m0 248v1m1-326v1m0 8v3m0 49v12m0 1v1m1-112v1m0 37v1m0 2v8m0 48v12m1-71v1m0 1v1m0 4v5m0 52v9m0 191v1m0 43v1m1-306v1m0 2v7m0 43v14m1-70v15m0 40v17m1-71v15m0 38v13m0 194v1m0 60v1m1-323v1m0 3v1m0 1v12m0 35v10m1-53v11m0 31v9m1-51v11m0 30v12m1-56v1m0 3v17m0 22v3m0 7v1m0 2v1m1-55v23m0 17v8m1-56v1m0 12v22m0 12v7m0 10v1m1-80v1m0 3v1m0 5v2m0 11v3m0 6v22m0 9v1m0 14v1m0 17v1m0 190v1m1-287v1m0 10v1m0 14v1m0 5v23m0 1v1m0 3v1m0 5v7m0 10v1m1-85v13m0 19v25m0 1v1m0 12v15m0 4v1m0 1v1m0 1v1m0 6v1m0 163v1m0 4v1m0 64v1m1-334v6m0 6v1m0 11v1m0 14v4m0 1v11m0 5v8m0 2v1m0 1v3m0 3v11m0 2v1m1-90v9m0 36v9m0 3v38m0 2v1m1-95v6m0 1v1m0 1v1m0 3v1m0 27v5m0 10v39m0 6v1m1-109v1m0 1v14m0 15v1m0 2v1m0 3v2m0 2v1m0 4v1m0 2v4m0 11v36m0 2v1m0 170v1m1-280v1m0 8v12m0 1v1m0 11v1m0 7v1m0 1v15m0 13v39m1-94v1m0 5v1m0 15v1m0 1v17m0 16v19m0 5v15m0 3v1m1-108v7m0 2v2m0 7v1m0 4v25m0 20v38m0 172v1m1-283v1m0 3v9m0 10v1m0 2v25m0 25v34m0 171v1m1-281v17m0 6v2m0 1v1m0 5v17m0 32v26m0 2v1m0 165v1m1-279v1m0 3v24m0 5v19m0 37v22m0 2v1m0 187v1m1-303v1m0 5v1m0 3v42m0 40v24m0 163v1m1-274v15m0 4v28m0 40v22m1-109v13m0 15v19m0 41v9m1-97v1m0 1v10m0 5v2m0 1v1m0 1v27m0 39v19m0 216v1m1-328v1m0 2v1m0 1v12m0 1v1m0 4v31m0 38v14m0 2v1m0 217v2m1-325v14m0 5v34m0 35v17m1-105v1m0 1v15m0 1v12m0 2v24m0 31v11m0 4v1m0 277v1m1-391v1m0 2v1m0 6v15m0 6v9m0 2v28m0 27v5m0 4v10m1-106v12m0 3v1m0 6v8m0 2v32m0 22v6m0 9v5m1-104v5m0 7v1m0 6v9m0 2v21m0 7v11m0 13v10m1-99v1m0 5v8m0 1v1m0 5v1m0 4v3m0 11v40m0 7v6m0 2v1m0 1v6m1-82v1m0 9v1m0 6v1m0 2v51m0 3v1m1-98v1m0 9v1m0 12v1m0 18v3m0 4v1m0 1v20m0 2v1m0 2v2m0 4v16m0 3v1m1-118v1m0 2v1m0 51v1m0 5v1m0 11v1m0 2v2m0 21v19m0 3v1m0 214v1m1-337v1m0 19v1m0 3v1m0 21v1m0 13v1m0 2v1m0 3v1m0 9v1m0 18v20m0 4v1m0 231v1m1-328v1m0 32v1m0 18v1m0 7v1m0 17v10m1-93v1m0 22v2m0 42v3m0 13v26m1-102v1m0 45v7m0 1v2m0 1v1m0 16v29m0 278v1m1-362v1m0 24v1m0 1v10m0 16v29m1-91v1m0 16v1m0 10v2m0 1v60m1-101v2m0 1v2m0 4v1m0 2v1m0 2v1m0 1v1m0 12v2m0 1v1m0 7v54m1-96v1m0 5v2m0 3v1m0 23v45m0 8v9m0 3v1m0 201v1m1-308v1m0 1v1m0 1v4m0 30v1m0 1v4m0 8v34m0 9v10m1-103v1m0 1v9m0 23v1m0 1v2m0 10v34m0 13v3m0 1v1m0 176v1m1-282v1m0 1v1m0 3v11m0 5v1m0 1v1m0 13v48m0 2v4m0 1v1m1-89v9m0 6v1m0 6v1m0 1v1m0 7v1m0 1v37m0 7v1m0 13v1m0 6v1m0 180v1m0 22v1m0 24v1m1-332v12m0 25v41m0 4v2m0 244v7m1-333v7m0 1v1m0 2v1m0 7v1m0 18v4m0 9v10m0 7v3m0 2v1m0 241v1m0 10v3m0 1v3m1-339v1m0 2v1m0 1v8m0 4v1m0 4v1m0 9v1m0 7v1m0 1v2m0 1v7m0 20v2m0 6v1m1-81v1m0 2v1m0 1v7m0 15v1m0 18v3m0 16v5m0 208v1m0 54v2m1-331v10m0 27v9m0 17v1m0 267v1m0 1v1m1-336v1m0 4v3m0 2v2m0 1v2m0 10v1m0 15v5m0 7v1m0 8v1m0 1v1m0 6v1m1-75v1m0 3v9m0 9v1m0 2v1m0 4v1m0 4v1m0 12v1m0 1v1m0 6v12m1-69v1m0 8v1m0 41v1m0 1v1m0 5v8m0 1v1m0 237v1m1-306v9m0 4v1m0 3v1m0 29v23m0 268v2m1-345v10m0 17v1m0 3v2m0 1v1m0 21v15m0 1v1m1-71v9m0 2v1m0 2v1m0 14v2m0 19v1m0 1v1m0 18v1m0 1v1m1-75v1m0 2v8m0 20v1m0 22v12m0 2v3m1-68v9m0 7v2m0 7v2m0 6v1m0 8v1m0 1v1m0 4v19m1-74v13m0 3v2m0 2v1m0 2v1m0 6v1m0 17v24m0 3v1m1-77v1m0 2v7m0 1v1m0 9v1m0 5v1m0 19v19m0 3v1m1-70v9m0 1v2m0 1v1m0 1v6m0 1v1m0 1v1m0 25v15m1-67v10m0 5v1m0 1v6m0 26v1m0 1v1m0 2v15m0 7v1m0 267v1m1-347v11m0 7v13m0 2v1m0 11v1m0 8v7m0 4v5m0 228v1m0 48v1m1-348v12m0 2v1m0 2v18m0 4v1m0 15v6m0 278v2m0 3v1m1-344v1m0 3v5m0 2v1m0 1v1m0 1v1m0 2v21m0 13v1m0 2v5m1-56v1m0 10v1m0 5v22m0 6v1m1-40v33m0 3v1m0 261v1m1-287v25m0 7v1m0 290v2m1-324v24m0 2v6m0 3v1m0 272v1m1-318v33m0 2v8m1-46v2m0 1v33m0 2v11m1-45v32m0 2v11m0 3v1m0 242v1m0 25v1m0 2v1m1-321v8m0 8v16m0 2v3m0 8v4m1-50v8m0 10v15m0 2v4m0 10v1m1-50v8m0 12v13m0 2v7m0 3v1m1-48v1m0 1v7m0 13v13m0 2v6m0 1v3m0 41v1m1-92v1m0 3v8m0 14v3m0 11v10m0 47v2m0 5v1m0 6v1m1-107v7m0 14v3m0 11v7m0 48v1m0 2v1m0 2v2m0 3v1m0 2v2m1-109v10m0 21v2m0 55v1m0 2v2m0 9v7m0 3v1m1-115v1m0 1v10m0 14v6m0 10v1m0 47v7m0 5v1m0 4v2m0 2v1m1-109v8m0 15v4m0 29v1m0 6v1m0 23v16m1-103v2m0 1v5m0 15v2m0 3v1m0 1v1m0 1v1m0 18v1m0 35v23m0 179v1m1-283v1m0 15v8m0 19v1m0 7v1m0 1v1m0 4v1m0 9v1m0 10v21m0 198v1m1-300v2m0 15v3m0 1v1m0 26v7m0 4v1m0 16v26m0 3v2m0 3v1m1-94v3m0 29v13m0 11v35m0 2v1m0 165v1m0 3v2m0 1v1m1-291v1m0 1v2m0 20v4m0 20v1m0 2v2m0 1v15m0 10v16m0 6v13m1-118v1m0 6v6m0 15v1m0 2v1m0 20v1m0 3v1m0 3v10m0 13v13m0 13v7m1-113v1m0 3v1m0 20v5m0 18v21m0 8v14m0 17v11m0 3v1m0 166v1m1-287v7m0 15v5m0 15v1m0 1v22m0 3v1m0 5v11m0 20v14m1-119v6m0 16v6m0 16v18m0 9v1m0 1v11m0 23v9m1-119v1m0 1v1m0 1v5m0 16v5m0 15v18m0 4v1m0 4v1m0 1v12m0 25v9m0 178v1m1-294v4m0 16v4m0 2v1m0 12v13m0 14v14m0 27v11m0 1v1m1-123v1m0 4v2m0 16v2m0 3v1m0 13v3m0 4v1m0 16v15m0 31v10m0 194v1m1-316v6m0 36v1m0 10v1m0 8v1m0 1v15m0 33v9m1-137v1m0 13v8m0 18v7m0 4v1m0 14v1m0 4v1m0 6v1m0 2v13m0 35v3m0 5v2m1-123v6m0 18v9m0 12v1m0 12v1m0 7v11m0 37v5m0 2v1m1-124v8m0 18v7m0 4v1m0 2v1m0 26v11m0 39v9m1-128v10m0 19v8m0 18v1m0 7v15m0 42v10m1-129v9m0 20v7m0 4v1m0 4v15m0 1v2m0 1v12m0 43v8m1-141v1m0 12v1m0 1v8m0 21v6m0 2v37m0 45v8m1-125v7m0 20v6m0 2v36m0 47v7m1-129v11m0 21v5m0 2v35m0 49v4m1-126v10m0 24v2m0 2v35m0 49v4m0 151v1m1-279v1m0 2v1m0 1v7m0 22v3m0 2v34m0 51v6m0 198v1m1-339v1m0 9v13m0 21v3m0 2v34m0 52v8m1-134v1m0 5v9m0 20v3m0 2v34m0 52v5m0 3v1m0 2v1m1-134v2m0 3v7m0 19v3m0 2v35m0 52v2m0 5v1m1-132v14m0 18v3m0 2v35m0 52v4m0 179v1m1-304v12m0 15v4m0 2v36m0 52v4m0 3v1m1-131v1m0 3v12m0 11v6m0 2v37m0 52v6m0 2v1m1-135v3m0 4v28m0 2v38m0 51v8m1-135v1m0 6v29m0 2v39m0 51v5m1-130v11m0 1v21m0 2v39m0 51v9m1-134v1m0 1v1m0 3v27m0 2v2m0 3v17m0 1v2m0 1v14m0 51v7m1-160v1m0 29v1m0 1v1m0 1v18m0 14v1m0 1v11m0 3v1m0 6v5m0 4v5m0 50v7m1-126v26m0 10v2m0 1v5m0 6v1m0 1v1m0 1v1m0 1v1m0 5v1m0 2v5m0 50v6m0 142v1m1-299v1m0 23v1m0 7v16m0 18v1m0 1v1m0 1v1m0 1v3m0 6v1m0 4v14m0 50v4m1-130v1m0 7v1m0 5v17m0 9v1m0 6v1m0 2v1m0 1v1m0 2v1m0 2v1m0 1v2m0 1v1m0 1v12m0 49v4m0 3v2m1-140v1m0 19v1m0 1v1m0 1v10m0 1v1m0 18v5m0 1v1m0 4v1m0 3v2m0 2v1m0 1v8m0 49v5m0 154v1m1-300v1m0 6v1m0 10v1m0 6v1m0 1v11m0 1v1m0 1v1m0 16v2m0 1v2m0 1v3m0 2v2m0 1v1m0 4v2m0 2v10m0 49v5m0 166v1m1-324v1m0 20v1m0 40v2m0 3v2m0 1v1m0 6v1m0 3v1m0 1v2m0 1v1m0 1v1m0 1v3m0 1v3m0 2v5m0 49v3m0 3v1m1-155v1m0 31v1m0 5v1m0 8v1m0 11v2m0 3v2m0 2v1m0 1v4m0 1v1m0 14v1m0 4v5m0 48v5m1-125v1m0 11v1m0 15v1m0 11v2m0 3v1m0 2v1m0 7v1m0 7v1m0 2v5m0 48v7m0 162v1m1-299v1m0 7v1m0 2v2m0 1v1m0 9v1m0 14v1m0 1v2m0 5v1m0 4v1m0 2v1m0 7v2m0 2v2m0 1v1m0 2v8m0 48v9m0 162v1m1-352v1m0 10v1m0 62v1m0 26v5m0 1v2m0 1v6m0 1v1m0 1v1m0 5v1m0 1v6m0 47v9m1-126v1m0 3v1m0 9v1m0 2v1m0 11v1m0 7v2m0 6v1m0 3v1m0 1v5m0 1v1m0 1v1m0 3v8m0 46v7m1-130v1m0 14v1m0 19v1m0 2v3m0 1v2m0 17v1m0 1v1m0 3v3m0 1v6m0 47v2m0 2v2m1-122v2m0 1v1m0 12v1m0 4v1m0 5v1m0 1v1m0 4v1m0 2v7m0 4v1m0 6v1m0 1v3m0 1v1m0 1v1m0 1v5m0 46v8m1-165v1m0 36v1m0 23v1m0 3v1m0 9v1m0 1v2m0 1v2m0 4v1m0 4v5m0 1v2m0 6v1m0 1v5m0 45v9m0 171v1m1-306v1m0 8v1m0 15v1m0 11v1m0 1v1m0 1v1m0 1v4m0 1v3m0 1v6m0 1v6m0 1v6m0 2v1m0 1v4m0 46v6m1-153v1m0 12v1m0 37v2m0 2v2m0 7v5m0 1v7m0 1v1m0 8v4m0 2v1m0 1v1m0 3v3m0 45v1m1-153v1m0 48v2m0 5v1m0 3v1m0 2v6m0 1v3m0 17v2m0 1v3m0 1v2m0 1v1m0 1v1m0 3v2m0 44v4m0 2v2m0 160v1m1-299v1m0 1v1m0 7v2m0 9v1m0 6v1m0 5v1m0 3v2m0 1v1m0 9v2m0 2v2m0 1v1m0 1v4m0 1v2m0 1v3m0 1v2m0 1v1m0 1v1m0 1v3m0 1v1m0 47v2m0 181v1m1-315v1m0 1v1m0 10v1m0 13v1m0 25v3m0 7v2m0 2v1m0 2v3m0 1v1m0 1v2m0 5v4m0 44v1m0 3v1m0 1v1m1-138v1m0 18v1m0 2v2m0 10v1m0 6v1m0 3v1m0 5v1m0 1v2m0 2v1m0 1v1m0 10v5m0 1v1m0 9v1m0 44v2m1-133v1m0 9v2m0 8v1m0 2v1m0 3v1m0 9v1m0 4v1m0 1v1m0 1v6m0 1v4m0 21v1m0 52v3m0 3v1m0 1v1m1-167v1m0 14v1m0 9v2m0 18v1m0 22v1m0 3v1m0 10v1m0 18v1m0 2v1m0 3v1m0 49v5m1-136v1m0 40v1m0 10v2m0 9v2m0 1v2m0 9v1m0 4v1m0 3v3m0 42v9m1-127v1m0 19v1m0 6v1m0 2v5m0 1v3m0 1v4m0 2v1m0 15v1m0 11v1m0 43v2m0 4v2m1-165v1m0 8v1m0 37v1m0 17v1m0 2v2m0 1v1m0 2v2m0 1v1m0 1v1m0 1v6m0 3v3m0 65v8m1-128v1m0 14v1m0 20v2m0 1v10m0 6v2m0 1v2m0 1v2m0 1v2m0 1v2m0 1v1m0 49v7m0 143v1m1-298v1m0 5v1m0 10v1m0 38v1m0 1v1m0 2v1m0 1v13m0 1v1m0 3v5m0 1v1m0 3v1m0 9v3m0 43v7m1-125v1m0 3v1m0 9v1m0 9v1m0 14v1m0 2v1m0 1v6m0 1v10m0 6v1m0 6v1m0 44v5m1-82v1m0 3v2m0 1v1m0 4v2m0 1v4m0 1v1m0 11v1m0 44v4m0 7v1m0 138v1m1-311v1m0 2v1m0 45v1m0 1v1m0 4v1m0 9v3m0 4v1m0 2v2m0 1v1m0 3v1m0 3v3m0 1v1m0 7v1m0 4v1m0 4v1m0 4v2m0 45v5m0 131v1m1-293v1m0 20v1m0 27v1m0 1v1m0 7v2m0 2v1m0 1v5m0 1v2m0 6v2m0 3v2m0 3v2m0 1v2m0 1v1m0 5v1m0 6v3m0 45v5m0 143v1m1-348v1m0 47v1m0 45v1m0 5v5m0 3v1m0 8v1m0 2v2m0 2v3m0 3v4m0 1v1m0 3v1m0 1v1m0 3v1m0 5v3m0 46v10m1-169v1m0 62v1m0 1v1m0 4v2m0 2v2m0 1v1m0 6v2m0 1v2m0 4v1m0 1v1m0 1v2m0 13v1m0 46v10m1-125v1m0 14v7m0 2v1m0 1v2m0 3v2m0 4v8m0 7v1m0 2v1m0 1v2m0 3v1m0 4v2m0 46v12m0 146v1m1-318v1m0 24v1m0 16v1m0 2v1m0 1v1m0 10v10m0 2v1m0 2v2m0 2v2m0 1v7m0 8v1m0 1v7m0 6v3m0 47v11m1-146v1m0 30v24m0 2v1m0 1v1m0 3v10m0 1v1m0 12v1m0 47v8m1-126v1m0 15v18m0 1v1m0 1v5m0 4v1m0 1v1m0 1v5m0 2v1m0 2v1m0 2v1m0 1v1m0 2v3m0 48v9m1-172v1m0 40v1m0 11v1m0 5v1m0 1v21m0 6v1m0 3v2m0 4v1m0 5v1m0 1v8m0 49v9m0 153v1m1-282v1m0 13v1m0 3v35m0 2v1m0 1v1m0 1v11m0 50v10m0 3v1m1-167v1m0 25v1m0 7v1m0 1v1m0 11v1m0 1v39m0 1v1m0 4v8m0 50v12m0 148v1m1-282v2m0 1v1m0 1v1m0 1v1m0 1v1m0 5v45m0 2v9m0 51v10m1-127v1m0 1v1m0 8v45m0 1v1m0 5v2m0 52v8m1-172v1m0 40v1m0 18v45m0 5v2m0 52v7m1-158v1m0 28v1m0 1v1m0 1v1m0 10v47m0 3v4m0 53v7m0 181v1m1-295v44m0 1v1m0 1v6m0 54v6m0 5v1m1-143v1m0 8v1m0 15v10m0 3v1m0 1v37m0 54v6m0 1v1m0 130v1m1-293v1m0 10v1m0 2v1m0 14v1m0 2v1m0 7v1m0 11v1m0 2v22m0 6v1m0 2v13m0 55v9m0 159v2m1-333v1m0 42v1m0 7v1m0 3v2m0 1v1m0 2v2m0 2v1m0 3v1m0 3v1m0 1v12m0 3v1m0 3v5m0 7v2m0 55v8m1-153v1m0 18v1m0 3v1m0 18v1m0 2v1m0 8v3m0 1v6m0 2v1m0 2v6m0 4v1m0 3v1m0 2v3m0 56v8m0 159v1m1-326v1m0 39v1m0 11v1m0 16v1m0 1v1m0 1v1m0 1v1m0 1v1m0 2v10m0 1v8m0 1v2m0 57v2m0 4v1m1-152v1m0 8v1m0 4v1m0 3v1m0 17v2m0 1v4m0 2v1m0 1v1m0 1v2m0 1v1m0 2v1m0 1v3m0 1v24m0 2v1m0 57v1m0 3v3m0 133v1m1-290v1m0 6v1m0 33v1m0 1v1m0 1v2m0 2v3m0 3v1m0 5v1m0 2v4m0 1v1m0 3v1m0 1v13m0 1v3m0 57v5m0 1v1m0 4v1m0 162v1m1-337v1m0 10v1m0 38v1m0 4v1m0 2v1m0 2v13m0 1v5m0 1v3m0 4v5m0 2v1m0 3v1m0 3v2m0 57v4m0 137v1m1-279v1m0 2v1m0 30v1m0 20v1m0 3v2m0 4v5m0 1v1m0 2v1m0 3v2m0 57v5m0 134v1m1-287v1m0 16v2m0 20v1m0 3v5m0 5v1m0 1v3m0 1v1m0 9v1m0 1v1m0 1v17m0 57v7m1-103v1m0 5v3m0 5v1m0 7v7m0 1v1m0 1v6m0 59v4m1-153v1m0 52v1m0 1v1m0 1v2m0 1v9m0 1v2m0 2v1m0 1v1m0 7v1m0 1v4m0 59v6m0 1v1m1-116v1m0 19v1m0 4v2m0 1v2m0 1v7m0 1v1m0 2v1m0 1v2m0 1v2m0 59v7m1-195v1m0 53v1m0 3v1m0 2v1m0 7v1m0 9v1m0 3v1m0 2v1m0 4v2m0 8v3m0 1v1m0 1v1m0 1v1m0 5v6m0 6v2m0 59v5m1-147v1m0 12v1m0 2v1m0 11v1m0 4v4m0 1v1m0 9v1m0 3v1m0 4v1m0 1v1m0 1v1m0 1v1m0 5v2m0 1v1m0 2v1m0 2v5m0 60v7m1-159v1m0 6v1m0 4v1m0 10v1m0 5v1m0 2v1m0 2v1m0 5v1m0 3v1m0 11v1m0 1v1m0 2v10m0 7v2m0 1v2m0 1v1m0 2v1m0 1v2m0 60v6m0 142v1m0 38v1m1-379v1m0 86v8m0 2v1m0 1v10m0 1v1m0 15v5m0 60v4m0 177v1m1-291v1m0 1v5m0 1v1m0 7v2m0 2v4m0 1v1m0 5v1m0 6v1m0 2v1m0 2v1m0 2v2m0 61v6m0 175v1m1-299v1m0 5v4m0 1v1m0 6v9m0 1v1m0 21v6m0 61v10m0 128v1m1-273v1m0 3v1m0 18v2m0 1v1m0 11v7m0 2v3m0 5v4m0 3v2m0 3v6m0 61v9m1-139v1m0 17v1m0 2v1m0 8v1m0 2v5m0 1v1m0 5v4m0 1v3m0 1v1m0 1v2m0 3v1m0 1v6m0 62v8m0 1v1m1-164v1m0 16v1m0 3v1m0 6v1m0 9v1m0 4v5m0 4v2m0 2v7m0 2v2m0 2v4m0 1v3m0 1v1m0 6v2m0 3v2m0 62v5m0 132v1m1-307v1m0 49v2m0 6v1m0 11v4m0 5v1m0 2v1m0 6v5m0 1v4m0 1v3m0 1v3m0 63v7m0 2v1m1-171v1m0 43v1m0 2v1m0 5v4m0 1v6m0 1v4m0 4v1m0 2v1m0 14v2m0 1v3m0 64v5m0 5v1m1-122v1m0 1v1m0 6v1m0 5v1m0 1v1m0 1v1m0 1v6m0 13v7m0 64v9m0 170v1m1-381v1m0 14v1m0 26v1m0 46v1m0 4v4m0 1v2m0 7v1m0 4v3m0 1v2m0 1v1m0 1v1m0 1v6m0 2v5m0 65v4m1-179v1m0 8v1m0 45v2m0 11v2m0 1v5m0 1v1m0 2v1m0 2v1m0 2v1m0 4v1m0 12v6m0 65v9m0 148v1m1-288v1m0 9v3m0 5v2m0 1v13m0 7v1m0 21v2m0 65v10m1-176v1m0 29v4m0 2v1m0 15v1m0 3v3m0 2v1m0 2v1m0 9v2m0 7v3m0 1v1m0 2v5m0 3v2m0 67v7m0 126v1m0 95v1m1-367v1m0 6v1m0 4v1m0 8v2m0 4v2m0 1v1m0 2v1m0 4v2m0 1v1m0 5v1m0 3v2m0 5v1m0 2v2m0 1v6m0 67v6m1-141v1m0 2v1m0 20v1m0 1v2m0 2v4m0 2v2m0 3v2m0 4v1m0 2v2m0 1v5m0 2v8m0 67v6m0 2v1m1-141v1m0 2v1m0 1v1m0 1v1m0 14v6m0 1v2m0 8v1m0 1v1m0 4v5m0 1v2m0 3v7m0 69v2m0 10v1m0 163v1m1-347v1m0 35v1m0 4v1m0 15v6m0 7v1m0 3v15m0 1v11m0 69v1m1-148v1m0 6v1m0 2v1m0 25v1m0 11v6m0 3v2m0 2v5m0 1v11m0 69v5m0 137v1m1-278v1m0 3v1m0 24v1m0 5v1m0 2v15m0 2v10m0 71v7m1-174v1m0 38v1m0 1v1m0 11v1m0 1v2m0 2v4m0 1v3m0 18v11m0 71v2m0 3v1m1-123v1m0 1v1m0 1v5m0 1v2m0 2v1m0 1v2m0 12v1m0 5v9m0 72v8m0 128v1m0 2v1m1-295v1m0 15v1m0 24v1m0 1v1m0 1v1m0 4v2m0 1v6m0 3v1m0 4v1m0 1v2m0 1v2m0 1v8m0 73v8m0 126v2m1-333v1m0 61v1m0 9v1m0 6v1m0 2v3m0 1v3m0 1v2m0 2v4m0 1v1m0 10v1m0 1v3m0 1v7m0 74v5m0 1v1m0 127v1m0 6v1m0 93v1m1-399v1m0 29v2m0 1v1m0 15v1m0 2v2m0 1v1m0 1v2m0 2v9m0 10v2m0 2v4m0 76v5m0 1v1m0 1v1m1-221v1m0 44v1m0 29v1m0 1v1m0 1v1m0 15v3m0 1v2m0 1v1m0 1v9m0 2v1m0 1v1m0 5v1m0 4v8m0 76v10m1-190v1m0 44v1m0 7v1m0 8v2m0 1v1m0 1v4m0 2v1m0 3v6m0 1v1m0 6v12m0 77v8m1-182v1m0 2v1m0 2v1m0 30v1m0 2v1m0 10v1m0 7v1m0 1v8m0 1v2m0 13v11m0 79v9m0 115v1m1-268v2m0 3v1m0 2v1m0 5v1m0 17v2m0 1v10m0 6v12m0 80v12m0 112v1m0 14v1m1-315v1m0 22v1m0 12v1m0 2v1m0 23v1m0 1v1m0 2v1m0 2v4m0 7v2m0 4v7m0 81v9m0 115v1m0 50v1m1-326v1m0 36v1m0 1v9m0 1v2m0 1v1m0 7v8m0 82v10m0 221v1m1-408v2m0 27v1m0 17v2m0 7v1m0 1v1m0 1v2m0 3v16m0 4v8m0 83v10m0 220v1m1-413v1m0 22v1m0 2v1m0 8v4m0 2v1m0 9v1m0 11v2m0 1v1m0 1v4m0 3v22m0 86v8m0 193v1m0 2v1m1-388v1m0 2v1m0 23v1m0 3v1m0 8v1m0 19v36m0 87v10m0 188v1m0 1v1m1-351v1m0 1v1m0 3v2m0 3v1m0 8v1m0 1v1m0 4v35m0 88v9m0 131v1m0 29v1m1-350v1m0 24v1m0 1v2m0 3v2m0 1v3m0 3v1m0 10v1m0 3v33m0 90v9m0 162v1m1-322v1m0 3v1m0 12v4m0 1v1m0 1v1m0 2v31m0 92v8m0 159v1m0 56v1m1-414v1m0 30v1m0 2v2m0 2v1m0 3v1m0 1v5m0 2v1m0 1v1m0 12v29m0 95v6m0 178v2m0 6v1m0 3v1m1-372v1m0 14v1m0 1v1m0 6v4m0 1v3m0 1v3m0 2v1m0 12v26m0 98v7m0 184v1m1-352v1m0 4v1m0 14v1m0 2v1m0 4v2m0 1v2m0 3v23m0 101v8m0 109v1m0 6v1m1-305v1m0 28v1m0 1v1m0 3v3m0 2v1m0 2v1m0 5v2m0 5v17m0 107v2m0 2v2m0 1v1m1-163v1m0 1v2m0 1v1m0 4v2m0 1v1m0 1v2m0 8v1m0 2v1m0 2v13m0 115v1m1-159v1m0 8v1m0 2v1m0 2v1m0 7v1m0 1v3m0 2v11m0 113v3m0 120v1m0 66v1m0 1v1m1-374v1m0 27v2m0 2v3m0 1v6m0 11v2m0 2v10m0 114v1m0 3v1m0 115v1m1-294v1m0 14v1m0 4v4m0 1v3m0 3v1m0 14v1m0 2v9m0 116v4m0 5v1m0 113v1m1-282v1m0 3v1m0 2v7m0 4v1m0 2v1m0 1v1m0 9v2m0 1v6m0 116v7m1-207v1m0 4v1m0 3v1m0 39v1m0 1v2m0 1v1m0 3v1m0 1v1m0 1v2m0 1v1m0 2v5m0 3v1m0 2v5m0 116v3m0 3v1m1-183v1m0 21v1m0 2v2m0 2v1m0 1v2m0 2v2m0 1v1m0 5v3m0 4v1m0 2v6m0 116v7m1-226v1m0 65v1m0 1v1m0 3v3m0 2v1m0 1v2m0 1v3m0 2v2m0 5v9m0 117v4m0 1v2m0 1v1m0 182v1m0 1v1m1-394v1m0 1v1m0 41v1m0 11v1m0 1v1m0 1v4m0 1v2m0 7v1m0 1v8m0 116v6m0 183v2m1-372v1m0 2v1m0 4v1m0 7v1m0 12v1m0 1v2m0 1v2m0 5v1m0 2v2m0 3v1m0 9v7m0 115v7m0 161v1m0 1v1m1-374v1m0 40v1m0 5v1m0 3v1m0 1v2m0 1v1m0 3v5m0 1v3m0 1v1m0 6v2m0 2v11m0 112v6m0 126v1m1-309v1m0 5v1m0 9v2m0 3v2m0 2v1m0 2v2m0 7v1m0 1v1m0 2v5m0 6v22m0 101v5m0 126v1m0 56v1m1-412v1m0 42v1m0 33v1m0 2v1m0 4v4m0 7v52m0 75v7m0 122v1m0 58v2m1-354v1m0 7v1m0 3v1m0 2v5m0 1v1m0 2v2m0 2v1m0 2v1m0 1v2m0 2v58m0 70v5m0 6v1m0 110v2m0 52v1m1-334v1m0 3v3m0 1v5m0 1v1m0 1v1m0 7v3m0 2v62m0 66v7m0 113v1m0 43v3m0 32v1m0 1v1m1-370v1m0 10v1m0 1v2m0 3v1m0 10v1m0 2v3m0 1v1m0 3v67m0 62v8m0 167v1m0 13v1m1-346v1m0 2v1m0 19v1m0 3v71m0 58v9m0 189v1m1-400v2m0 41v3m0 1v3m0 1v3m0 9v2m0 8v15m0 2v57m0 55v6m0 108v2m1-314v1m0 39v2m0 6v9m0 1v1m0 1v5m0 3v9m0 6v1m0 1v2m0 5v19m0 8v26m0 54v3m0 119v1m0 60v1m0 1v1m1-388v1m0 14v1m0 2v1m0 33v1m0 2v8m0 1v1m0 7v2m0 1v3m0 7v1m0 3v1m0 1v2m0 3v1m0 7v1m0 1v1m0 2v13m0 3v26m0 51v6m0 5v1m0 108v1m0 62v1m1-372v1m0 37v9m0 12v1m0 4v1m0 6v1m0 4v1m0 11v2m0 6v1m0 3v4m0 6v1m0 1v26m0 51v6m0 110v1m0 4v1m0 2v1m1-352v1m0 71v1m0 1v2m0 4v1m0 1v1m0 1v6m0 2v1m0 2v1m0 41v2m0 12v1m0 1v2m0 1v1m0 5v15m0 51v6m0 2v2m0 178v2m1-382v1m0 32v2m0 10v7m0 3v2m0 29v1m0 9v1m0 2v1m0 8v1m0 2v2m0 1v1m0 2v1m0 9v15m0 51v5m0 2v2m0 180v2m1-360v1m0 9v1m0 1v2m0 5v3m0 1v6m0 1v1m0 30v1m0 18v1m0 3v1m0 5v2m0 10v3m0 2v1m0 4v1m0 3v3m0 50v4m0 183v1m0 2v1m1-343v1m0 6v4m0 1v1m0 1v1m0 5v1m0 68v1m0 1v1m0 1v10m0 50v3m0 3v1m1-160v2m0 1v2m0 3v1m0 87v1m0 4v2m0 51v2m1-167v1m0 9v1m0 3v1m0 5v1m0 84v1m0 8v1m0 51v4m0 7v1m0 142v2m1-356v1m0 12v1m0 8v1m0 22v1m0 2v5m0 1v1m0 2v3m0 84v3m0 1v1m0 52v5m1-162v3m0 1v1m0 2v1m0 1v1m0 3v1m0 89v3m0 52v8m0 103v1m0 6v1m1-308v1m0 26v1m0 8v2m0 1v1m0 1v1m0 92v3m0 53v11m0 100v1m0 1v1m0 3v1m1-305v1m0 24v1m0 6v1m0 3v1m0 1v1m0 2v2m0 87v5m0 53v12m0 95v1m1-273v1m0 4v1m0 4v1m0 96v5m0 54v9m1-191v1m0 21v1m0 101v4m0 55v9m0 103v1m1-303v1m0 32v1m0 99v3m0 55v12m1-170v1m0 8v1m0 91v2m0 56v9m0 3v1m1-199v2m0 127v1m0 57v8m0 102v1m1-342v1m0 171v2m0 58v8m1-251v1m0 48v1m0 21v1m0 109v4m0 58v8m0 5v1m1-80v1m0 2v1m0 2v3m0 58v8m0 4v1m0 91v1m0 65v1m1-368v1m0 3v1m0 129v5m0 59v7m0 1v1m0 159v1m1-397v1m0 166v2m0 59v12m0 1v1m0 154v1m1-236v8m0 59v9m0 99v2m1-344v1m0 44v1m0 121v9m0 59v8m0 2v2m0 101v1m0 29v1m0 23v2m1-408v1m0 172v7m0 59v7m0 138v1m1-358v1m0 8v1m0 135v8m0 59v6m0 99v1m0 4v1m0 39v1m0 17v1m1-376v1m0 2v1m0 17v1m0 116v1m0 2v7m0 59v5m0 3v4m0 154v1m0 2v1m1-348v1m0 108v1m0 3v7m0 58v4m0 3v2m0 5v1m0 183v1m1-389v1m0 121v1m0 1v8m0 58v10m1-75v8m0 57v9m0 165v1m0 20v1m1-260v7m0 57v8m0 3v1m0 160v1m1-242v1m0 4v8m0 55v7m0 137v1m0 41v1m1-386v1m0 131v1m0 3v9m0 54v8m0 137v1m1-358v1m0 130v1m0 13v1m0 3v10m0 53v7m1-82v1m0 10v12m0 52v2m0 5v1m1-94v1m0 1v1m0 3v1m0 19v10m0 50v4m0 7v1m0 133v1m0 19v1m1-358v1m0 99v1m0 5v1m0 3v1m0 1v1m0 19v1m0 2v8m0 48v7m0 99v2m1-311v1m0 109v1m0 32v1m0 1v12m0 46v7m0 129v1m0 19v1m0 9v1m0 1v1m1-258v1m0 3v1m0 8v1m0 16v15m0 44v7m0 101v1m0 45v1m0 2v1m1-347v1m0 98v1m0 5v1m0 2v1m0 1v1m0 18v1m0 3v14m0 41v3m0 1v2m0 152v1m1-246v10m0 1v2m0 16v1m0 1v17m0 39v4m0 3v2m1-97v2m0 1v1m0 1v4m0 1v2m0 1v2m0 8v1m0 11v1m0 9v6m0 36v5m0 165v1m0 4v1m1-259v1m0 1v3m0 1v1m0 2v2m0 17v1m0 4v2m0 1v1m0 2v12m0 32v6m0 103v1m0 59v1m1-257v2m0 2v2m0 4v2m0 1v2m0 26v19m0 26v3m0 107v1m0 2v1m1-194v2m0 2v1m0 20v1m0 5v1m0 5v27m0 14v5m0 4v1m0 1v1m0 99v2m1-196v1m0 2v5m0 6v1m0 31v16m0 2v29m0 1v2m0 97v1m1-196v1m0 2v7m0 1v2m0 2v1m0 28v1m0 5v12m0 1v30m0 102v1m1-193v5m0 55v1m0 2v34m0 94v1m1-195v1m0 2v2m0 67v1m0 2v24m0 91v1m0 1v1m0 2v1m1-200v1m0 3v6m0 1v1m0 38v1m0 23v1m0 3v23m0 5v1m0 127v1m1-233v1m0 4v10m0 63v21m0 90v1m0 8v1m1-194v14m0 61v15m0 5v1m0 96v1m0 66v1m1-263v1m0 3v4m0 1v3m0 2v1m0 69v17m0 94v1m0 35v1m0 1v1m0 1v2m0 24v1m1-256v8m0 1v1m0 63v1m0 5v1m0 1v1m0 6v1m0 1v3m0 2v1m0 130v1m0 55v1m1-281v2m0 1v1m0 225v1m1-239v1m0 3v1m0 85v1m0 1v1m1-94v1m0 2v1m0 1v1m0 1v1m0 88v1m0 104v1m0 29v1m0 56v1m1-285v1m0 1v1m0 223v1m0 4v1m0 14v1m1-242v1m0 8v1m0 184v1m0 28v2m1-230v3m0 10v1m0 176v1m0 2v1m0 52v1m0 11v1m1-253v1m0 2v1m0 244v1m1-22v1m1 12v1m0 12v1m1-412v1m0 346v1m1-261v1m0 354v1m1 3v1m1-287v1m0 192v1m0 48v2m1-372v1m0 359v1m1-47v1m1-2v1m1 76v1m1-71v1m3-293v1m0 343v1m0 1v1m1 43v1m1-61v2m0 10v2m1-12v1m0 8v2m1-17v1m0 8v1m0 4v1m0 12v1m0 26v1m1-61v1m0 16v1m0 3v1m1-19v1m0 2v1m0 10v1m0 14v1m1-21v1m0 1v1m0 1v1m0 1v1m0 1v1m1 12v1m1-3v3m0 8v1m1-10v1m0 8v1m1-32v1m0 11v1m0 3v1m0 5v1m1-24v2m2-2v1m0 15v2m1-4v2m0 2v1m1-19v1m0 21v1m2-23v1m0 22v1m1-16v2m0 7v1m1-44v1m0 27v1m0 1v1m0 1v3m1 9v1m0 5v1m1-48v1m0 4v2m0 13v1m0 50v1m1-73v1m0 69v1m0 1v2m1-387v1m0 312v1m0 39v1m1-43v1m0 1v1m0 1v1m0 31v4m0 2v1m0 1v2m0 2v4m0 3v2m1-66v1m0 6v1m0 4v1m0 1v1m0 28v2m0 2v3m0 33v1m1-42v1m1-14v3m1-3v1m1-360v1m0 360v2m0 3v1m0 1v1m0 1v1m0 21v2m2-26v1m0 34v1m1 1v1m0 3v1m0 2v1m2-9v1m0 1v2m1-78v2m0 4v2m0 68v1m0 5v2m1-65v1m0 27v1m0 28v1m0 5v2m1-84v1m0 3v1m0 1v1m0 37v1m0 5v2m0 23v2m0 5v2m1-78v1m0 11v2m0 9v1m0 45v2m0 4v2m1-56v1m0 14v2m0 37v2m1-2v2m1-83v1m0 66v1m0 13v2m1-84v1m0 19v1m0 9v2m0 4v2m0 1v2m0 21v1m0 20v2m1-77v5m0 18v2m0 4v3m0 2v1m0 1v1m0 64v1m1-102v1m0 2v1m0 28v2m1-42v1m0 64v1m0 8v1m0 8v8m1-97v2m0 33v1m0 53v1m0 6v3m0 18v1m1-128v1m0 57v1m0 3v1m0 27v1m0 7v2m0 12v1m0 1v1m1-122v1m0 88v1m1-98v1m0 127v1m1-134v2m1-5v2m1-2v2m1-8v1m0 2v2m1-4v1m0 1v1m1-2v3m1-3v3m1 109v1m1-2v2m1-2v2m1-118v2m0 114v2m1-2v2m1-105v1m1-4v1m1-8v2m1-4v2m4-13v2m1 1v1m0 122v2m1-129v1m0 126v2m1-131v2m0 127v2m1-131v1m0 128v2m1-132v3m0 127v2m1-131v3m0 126v2m1-129v3m1-4v2m1-4v3m2-76v1m0 5v1m0 73v4m1-77v1m0 76v1m1-108v1m0 1v1m0 30v1m1-36v1m0 14v1m0 94v1m1-105v1m0 24v1m0 3v2m0 75v1m1-107v1m0 1v1m0 33v1m0 61v1m0 5v1m1-102v1m0 2v2m0 2v1m0 11v1m0 5v1m0 2v1m0 2v1m0 1v1m0 70v1m1-98v2m0 2v1m0 1v1m0 11v1m0 1v4m0 1v1m0 62v1m0 4v1m1-105v2m0 4v1m0 12v1m0 3v14m0 67v2m1-104v1m0 22v7m0 2v3m0 69v1m1-107v1m0 11v1m0 11v12m0 70v4m1-114v1m0 4v1m0 2v2m0 6v1m0 23v1m0 6v1m1-48v2m0 10v1m0 2v1m0 2v1m0 1v1m0 5v1m0 3v1m0 3v1m0 193v1m1-216v1m0 11v1m0 8v2m0 2v1m0 188v2m1-231v1m0 15v1m0 1v1m0 4v1m0 205v2m1-227v1m0 3v1m0 3v2m0 3v3m0 1v1m0 12v1m0 11v1m0 182v2m1-229v1m0 7v1m0 5v2m0 1v1m0 4v1m0 16v1m0 187v2m1-231v1m0 3v1m0 6v1m0 12v1m0 204v2m1-350v1m0 116v1m0 8v2m0 19v1m0 75v1m0 124v2m1-223v2m0 9v1m0 84v1m0 124v2m1-227v1m0 225v1m1-225v1m0 9v1m0 3v1m0 84v1m0 124v1m1-228v1m0 1v1m0 14v1m0 209v1m1-125v2m0 122v2m1-202v1m0 199v2m1-126v1m0 123v2m1-125v3m0 120v2m1-126v3m0 121v2m1-127v3m0 122v1m1-2v2m1-2v2m1-114v1m0 111v2m1-1v1m1-116v1m0 48v9m0 57v1m1-126v6m0 1v3m0 116v1m1-126v2m0 1v4m0 118v2m1-120v2m0 116v2m1-126v2m0 122v3m1-3v3m1-3v4m1-124v3m0 117v1m0 1v3m1-4v1m0 1v2m1-4v4m1-3v3m1-3v2m1-2v2m1-2v1m8-137v3m1 0v1m1 2v2m0 130v5m1-133v1m0 126v6m1-130v1m0 123v6m1-137v2m0 129v6m1-138v2m0 130v2m0 1v2m1-137v2m0 130v1m1-130v2m0 127v1m1-130v1m0 126v3m1-133v2m0 128v3m1-136v2m0 131v4m1-136v1m0 131v4m1-135v1m0 130v4m1-133v1m0 128v4m1-133v1m0 128v4m1-129v1m0 124v4m1-132v1m0 127v3m1-131v1m0 126v4m1-130v2m0 124v4m1-133v2m0 127v3m1-131v1m0 126v1m0 1v2m1-130v2m0 124v1m0 1v1m1-128v1m0 124v1m0 1v1m1-3v1m0 1v2m1-128v1m0 123v4m1-121v1m0 116v4m1-121v2m0 115v1m0 2v1m1-118v2m0 112v1m1-112v2m1-4v2m1-3v2m0 115v1m1-124v3m0 119v2m1-126v2m0 122v2m1-123v1m0 121v2m1-127v1m0 124v1m1-130v2m0 126v2m1-129v1m0 126v2m1-129v2m0 124v3m1-123v2m0 117v4m1-4v1m0 1v2m1-124v1m0 119v1m0 1v2m1-127v2m0 121v1m0 2v1m1-127v2m0 121v1m0 2v1m1-130v2m1-2v2m0 125v1m0 1v1m1-129v1m0 125v3m1-131v3m0 125v4m1-132v2m0 126v4m1-129v1m0 125v2m1-128v2m1-3v2m1 1v1m1-3v1m0 122v2m1-126v2m0 122v2m1-126v1m0 123v2m1-125v1m0 122v6m1-131v1m0 124v5m1-129v2m0 122v5m1-129v1m0 123v5m1-129v1m0 124v3m1-127v1m0 123v3m1-127v2m1 0v1m1-1v1m0 121v1m1-121v1m0 118v3m1-125v2m0 120v3m1-3v3m1-122v1m0 119v2m1-123v2m0 119v2m1-124v2m0 120v2m1-123v2m0 119v2m1-121v1m1-5v1m1 0v2m1-4v2m0 125v2m1-125v1m0 121v3m1-127v1m0 123v3m1-3v3m1-128v1m0 124v3m1-127v2m0 122v3m1-120v2m0 115v3m1-119v1m0 115v3m1-120v1m0 114v1m0 2v2m1-113v1m0 107v2m0 2v1m1-115v1m0 109v2m1-117v1m0 114v2m0 3v1m1-128v1m0 121v2m0 3v2m1-129v1m0 121v2m0 3v2m1-128v1m0 120v2m0 3v1m1-121v1m0 115v1m1-124v2m0 121v1m1-123v2m0 119v2m1-125v1m0 122v3m1-127v1m0 123v3m1-127v2m0 122v3m1-125v2m0 120v1m0 1v1m1-126v2m0 121v3m1-126v1m0 123v2m1-126v1m0 124v1m1-116v2m1-1v1m1-4v1m1-1v2m0 111v2m1-122v1m0 119v2m1-122v1m0 119v1m0 1v1m1-123v1m0 119v1m0 1v1m1-123v1m0 119v1m0 1v2m1-124v2m0 118v1m0 1v1m1-123v2m0 118v3m1-123v1m0 119v2m1-122v2m1-1v1m1-2v1m1-1v1m1-1v1m1 0v2m1 0v1m1-2v2m1-5v2m1-2v1m1 1v1m1-1v1m1-3v2m1 0v2m1-4v1m1-2v1m1 1v2m1-3v1m1 1v1m1-2v1m1-1v1m0 120v1m1-121v1m0 119v1m1-121v2m0 118v1m1-2v2m1-122v1m0 120v1m1-122v2m1-2v2m1 0v1m0 119v1m1-124v2m0 121v1m1-123v1m1-1v1m1-4v2m1 0v1m1-1v2m1 0v1m0 119v1m1-124v1m0 122v1m1-124v2m0 120v2m1-124v2m0 120v2m1-124v1m0 121v2m1-125v1m1 1v2m0 122v1m1-125v2m0 122v1m1-127v1m0 125v2m1-128v2m0 124v2m1-127v2m0 122v3m1-127v1m0 122v4m1-126v1m0 121v4m1-127v1m0 121v2m0 1v2m1-122v1m0 116v1m0 2v2m1-118v2m0 115v1m1-120v1m0 116v1m0 1v1m1-120v1m0 114v5m1-126v2m0 119v5m1-126v1m0 121v4m1-128v1m0 125v1m1-128v2m0 125v1m1-127v2m0 124v2m1-128v2m0 124v2m1-127v1m0 124v2m1-124v1m0 121v2m1-124v1m0 122v1m1-129v2m0 126v1m1-129v2m0 126v2m1-130v2m0 126v2m1-132v2m0 128v1m1-4v4m1-129v1m0 1v1m0 122v4"/>
<path stroke="#0000e6" d="M0 .5m11 242h1m60 0h1m632 0h1m-635 117h1m57 0h1m8 0h1m39 0h1m332 2h1m6 0h2m135 28h1m125 0h1m-781 2h1m72 0h1m39 0h1m8 0h1m12 0h1m5 0h1m53 0h1m31 0h1m16 0h1m10 0h1m4 0h1m48 0h1m14 0h1m62 0h1m101 0h1m2 0h1m43 0h1m10 0h1m9 0h1m72 0h1m90 0h1m10 0h1m28 0h1m-337 12h1m3 0h1m68 0h2m5 0h2m76 0h1m8 0h1m184 0h1m-777 7h1m47 0h1m67 0h1m53 0h1m3 0h1m19 0h1m68 0h1m33 0h1m3 0h1m21 0h1m93 0h1m89 0h1m181 0h1m17 0h1m27 0h1m36 0h1m31 0h1m-460 1h1m224 20h1m118 0h1m-381 20h1m76 0h1m21 0h1m-334 4h1m171 0h1m2 0h1m28 0h1m5 0h1m87 0h1m71 0h1m-300 16h1m89 7h1m80 0h1m97 0h1m15 0h1m-77 5h1m85 0h1m6 0h1m-107 14h1m83 0h1m17 0h1m15 0h1m37 0h1m-198 5h1m89 0h1m22 0h1m8 0h1m5 0h1m13 0h1m78 0h1m13 0h1m-374 3h1m1 0h1m14 9h1m24 0h1m14 0h1m4 0h1m7 0h1m2 0h1m54 0h1m5 0h1m28 0h1m-312 1h1m41 0h1m138 0h1m2 0h1m127 0h1m-141 8h2m15 0h1m16 0h1m-203 1h1m55 0h1m58 0h1m13 0h1m13 0h1m55 0h1m17 0h1m28 0h1m31 0h1m-249 1h1m124 0h1m7 0h1"/>
<path stroke="url(#p6)" d="M0 .5m200 152h1m65 62h4m2 0h1m1 0h12m-25 1h9m1 0h2m1 0h15m-30 1h11m1 0h2m1 0h14m1 0h1m-32 1h12m1 0h17m1 0h2m-33 1h12m1 0h17m1 0h3m-34 1h12m1 0h13m1 0h3m1 0h4m-35 1h12m1 0h13m1 0h3m1 0h5m-36 1h12m1 0h13m1 0h3m1 0h5m-36 1h12m1 0h13m1 0h3m1 0h6m-37 1h26m1 0h3m1 0h2m1 0h3m-37 1h6m1 0h19m1 0h6m2 0h3m-37 1h5m1 0h17m1 0h1m1 0h6m2 0h3m-36 1h4m1 0h17m1 0h1m1 0h6m2 0h3m-36 1h4m1 0h17m1 0h1m1 0h6m2 0h3m-34 1h2m1 0h14m2 0h1m1 0h8m2 0h3m-148 1h4m123 0h4m2 0h1m1 0h8m2 0h3m-155 1h3m3 0h22m1 0h3m108 0h1m1 0h8m2 0h3m-158 1h6m3 0h22m1 0h3m1 0h2m105 0h11m1 0h3m-160 1h8m3 0h22m1 0h3m1 0h2m1 0h2m104 0h9m1 0h3m-161 1h9m3 0h22m1 0h3m1 0h6m104 0h8m1 0h3m-164 1h1m2 0h9m2 0h23m1 0h3m1 0h8m103 0h7m1 0h3m-166 1h3m2 0h3m1 0h5m1 0h24m1 0h13m104 0h8m-167 1h5m2 0h3m1 0h5m1 0h24m1 0h14m104 0h7m-169 1h7m2 0h3m1 0h5m1 0h8m1 0h30m105 0h5m-169 1h9m1 0h3m1 0h4m2 0h8m1 0h31m-62 1h11m1 0h3m1 0h4m2 0h8m1 0h32m233 0h1m-298 1h12m1 0h3m1 0h4m2 0h8m1 0h32m-65 1h13m1 0h3m1 0h4m2 0h8m1 0h33m-67 1h14m1 0h3m1 0h4m2 0h8m1 0h33m-68 1h19m1 0h4m2 0h10m1 0h31m-70 1h21m1 0h4m2 0h10m1 0h32m-72 1h20m1 0h1m1 0h1m1 0h2m2 0h10m1 0h32m-73 1h23m1 0h1m1 0h3m1 0h10m1 0h32m-77 1h3m1 0h23m1 0h1m1 0h14m1 0h13m1 0h18m-83 1h3m1 0h5m1 0h23m3 0h28m1 0h17m-84 1h5m1 0h5m1 0h23m3 0h28m1 0h1m1 0h7m1 0h7m-84 1h17m1 0h17m3 0h4m1 0h13m1 0h9m1 0h1m1 0h6m2 0h7m-85 1h18m1 0h17m1 0h1m1 0h4m1 0h13m1 0h9m1 0h1m2 0h5m2 0h7m1 0h2m-88 1h11m1 0h6m1 0h17m1 0h1m1 0h18m1 0h11m2 0h5m2 0h10m215 0h5m-308 1h11m1 0h6m1 0h38m1 0h11m2 0h5m2 0h10m214 0h7m-308 1h10m1 0h6m1 0h50m2 0h5m1 0h11m213 0h9m-307 1h8m1 0h6m1 0h50m2 0h5m1 0h12m212 0h9m-297 1h5m1 0h50m2 0h5m1 0h12m211 0h10m-295 1h3m1 0h50m2 0h5m1 0h12m211 0h10m-294 1h54m1 0h5m1 0h12m14 0h1m196 0h11m-294 1h53m1 0h5m1 0h13m11 0h5m194 0h11m-293 1h58m1 0h13m10 0h6m193 0h12m-292 1h57m1 0h13m9 0h8m192 0h12m-291 1h70m8 0h10m191 0h12m-290 1h24m1 0h44m7 0h5m1 0h5m191 0h12m-290 1h24m1 0h43m8 0h5m1 0h6m190 0h12m-289 1h23m1 0h44m7 0h5m1 0h6m190 0h12m-288 1h22m1 0h44m7 0h5m1 0h6m189 0h13m-288 1h4m1 0h17m1 0h44m4 0h1m2 0h5m1 0h7m188 0h13m-287 1h3m1 0h17m1 0h44m4 0h1m2 0h3m1 0h1m1 0h7m188 0h13m-286 1h2m1 0h17m1 0h33m1 0h10m4 0h1m2 0h3m1 0h9m187 0h15m-287 1h2m1 0h17m1 0h33m1 0h2m1 0h7m5 0h1m1 0h3m1 0h9m187 0h15m-286 1h1m1 0h32m1 0h18m1 0h2m1 0h6m6 0h1m1 0h3m1 0h10m186 0h15m-285 1h33m1 0h18m2 0h1m1 0h5m9 0h3m1 0h10m185 0h16m-285 1h33m1 0h14m1 0h4m1 0h6m9 0h4m1 0h10m185 0h16m-284 1h5m1 0h23m1 0h17m1 0h4m1 0h5m11 0h3m1 0h10m184 0h17m-283 1h4m1 0h23m1 0h17m1 0h4m1 0h4m12 0h3m1 0h11m183 0h17m-283 1h4m1 0h23m1 0h17m1 0h4m1 0h3m14 0h2m1 0h11m182 0h18m-281 1h2m1 0h23m1 0h17m1 0h4m1 0h2m15 0h2m1 0h3m1 0h7m75 0h3m104 0h18m-281 1h2m1 0h23m1 0h17m1 0h4m1 0h1m17 0h1m1 0h3m1 0h7m73 0h7m101 0h19m-278 1h23m1 0h17m1 0h4m19 0h1m1 0h3m1 0h7m72 0h9m99 0h20m-278 1h46m19 0h1m1 0h3m1 0h7m71 0h11m97 0h21m-278 1h46m21 0h3m1 0h7m70 0h13m96 0h21m-278 1h45m21 0h4m1 0h8m68 0h16m93 0h22m-277 1h43m22 0h4m1 0h8m68 0h17m91 0h23m-276 1h41m23 0h4m1 0h8m67 0h19m88 0h25m-275 1h39m25 0h3m1 0h8m66 0h22m85 0h26m-274 1h37m26 0h3m2 0h8m64 0h24m83 0h27m-274 1h36m27 0h3m2 0h8m63 0h27m79 0h29m-273 1h17m1 0h4m1 0h11m28 0h3m2 0h8m62 0h29m77 0h30m-272 1h16m1 0h1m1 0h2m1 0h2m2 0h4m31 0h13m62 0h13m5 0h13m73 0h32m-271 1h15m3 0h2m1 0h2m2 0h3m32 0h13m61 0h10m14 0h9m70 0h34m-270 1h2m1 0h10m47 0h12m60 0h9m18 0h8m66 0h37m-269 1h1m1 0h10m47 0h12m59 0h9m21 0h8m61 0h40m-266 1h8m48 0h11m59 0h8m25 0h7m55 0h45m-266 1h6m50 0h11m59 0h7m28 0h7m40 0h58m-265 1h2m53 0h10m59 0h7m31 0h6m32 0h66m-210 1h9m59 0h6m33 0h6m29 0h68m-210 1h8m59 0h7m35 0h7m23 0h71m-209 1h5m61 0h6m38 0h5m1 0h1m19 0h30m16 0h27m-208 1h3m62 0h6m40 0h5m15 0h26m31 0h20m-144 1h7m42 0h3m4 0h29m44 0h15m-144 1h7m46 0h1m2 0h23m53 0h13m-145 1h7m48 0h19m60 0h11m-145 1h7m54 0h6m69 0h9m-145 1h7m130 0h8m-145 1h7m131 0h8m-145 1h7m131 0h7m-145 1h7m131 0h7m-145 1h7m132 0h6m-145 1h8m131 0h6m-144 1h7m132 0h3m1 0h2m-145 1h8m131 0h6m-144 1h8m131 0h5m-143 1h7m131 0h5m-143 1h8m130 0h6m-143 1h8m130 0h5m-142 1h7m130 0h5m-141 1h7m129 0h5m-141 1h8m129 0h5m-141 1h8m128 0h5m-140 1h8m127 0h6m-140 1h9m126 0h5m-139 1h9m125 0h5m-138 1h10m124 0h5m-137 1h9m123 0h6m-137 1h10m122 0h6m-137 1h11m121 0h6m-136 1h11m120 0h6m-136 1h11m120 0h6m-135 1h11m119 0h5m-133 1h11m119 0h3m1 0h4m-137 1h13m118 0h9m-138 1h13m118 0h12m-141 1h13m118 0h14m-143 1h14m118 0h15m-144 1h14m118 0h14m-144 1h16m117 0h13m-143 1h16m117 0h11m-141 1h17m115 0h10m-139 1h17m114 0h9m-137 1h18m112 0h8m-134 1h17m110 0h7m-131 1h17m108 0h7m-129 1h18m105 0h7m-128 1h20m102 0h6m-126 1h22m99 0h6m-124 1h23m96 0h5m-122 1h24m94 0h5m-121 1h25m91 0h5m-119 1h27m88 0h5m-116 1h26m86 0h4m-111 1h24m83 0h5m-106 1h21m81 0h4m-102 1h20m78 0h5m-100 1h21m75 0h4m-97 1h21m72 0h4m-95 1h22m70 0h3m-92 1h22m67 0h4m-90 1h22m64 0h4m-87 1h21m62 0h4m-84 1h21m59 0h4m-81 1h21m57 0h3m-79 1h22m54 0h4m-77 1h22m51 0h4m-75 1h23m48 0h4m-72 1h22m46 0h4m-67 1h20m43 0h4m-60 1h15m41 0h4m-56 1h12m40 0h4m-53 1h11m38 0h4m-50 1h10m37 0h3m-48 1h9m36 0h3m-46 1h8m35 0h4m-46 1h8m34 0h4m-44 1h7m33 0h4m-43 1h7m32 0h4m-42 1h8m30 0h4m-40 1h7m29 0h4m-39 1h7m28 0h4m-38 1h7m27 0h4m-37 1h7m26 0h4m-36 1h7m24 0h5m-35 1h7m23 0h5m-34 1h7m21 0h6m-33 1h8m18 0h7m-32 1h8m15 0h9m-31 1h10m9 0h11m-29 1h29m-28 1h27m-26 1h24m-22 1h20m-19 1h16m-13 1h8m47 33h1m-77 12h1m205 6h1m-67 1h1m11 0h1m53 0h2m-62 1h1m71 0h1m-79 1h2m3 0h3m3 0h2m2 0h1m52 0h1m9 0h2m-76 1h2m1 0h2m1 0h3m2 0h1m63 0h2m-77 1h1m5 0h1m4 0h1m42 0h1m14 0h2m2 0h1m2 0h1m1 0h1m4 0h1m154 0h1m-241 1h1m6 0h1m5 0h1m14 0h3m18 0h1m6 0h1m10 0h1m2 0h3m2 0h1m4 0h1m1 0h2m1 0h2m26 0h1m127 0h1m-235 1h1m5 0h1m9 0h1m4 0h3m9 0h1m9 0h1m3 0h1m1 0h1m13 0h1m1 0h1m1 0h1m7 0h1m4 0h2m12 0h2m6 0h5m6 0h1m1 0h1m1 0h1m90 0h1m2 0h1m11 0h2m5 0h1m1 0h1m-239 1h1m11 0h1m14 0h3m1 0h2m2 0h1m4 0h1m7 0h2m3 0h2m17 0h1m10 0h1m4 0h2m10 0h3m7 0h1m2 0h1m1 0h1m1 0h4m1 0h4m32 0h1m31 0h1m15 0h1m3 0h1m2 0h1m4 0h1m1 0h1m1 0h1m6 0h4m8 0h1m-230 1h1m14 0h3m1 0h3m1 0h1m2 0h1m1 0h1m7 0h2m3 0h2m12 0h1m4 0h2m9 0h1m5 0h1m23 0h2m2 0h1m2 0h1m5 0h1m10 0h1m1 0h1m3 0h1m13 0h3m2 0h1m21 0h1m4 0h2m1 0h1m17 0h4m5 0h1m1 0h1m6 0h1m2 0h1m-202 1h2m1 0h1m3 0h4m6 0h2m8 0h1m14 0h1m26 0h1m6 0h1m9 0h1m10 0h2m1 0h2m5 0h1m3 0h3m7 0h2m8 0h3m4 0h4m2 0h1m2 0h1m1 0h1m3 0h2m2 0h1m1 0h1m2 0h1m1 0h2m3 0h1m3 0h3m1 0h2m6 0h2m10 0h1m-218 1h1m10 0h1m14 0h1m2 0h1m8 0h1m8 0h1m39 0h1m1 0h1m7 0h1m19 0h1m3 0h1m2 0h1m3 0h1m2 0h1m2 0h1m6 0h3m1 0h1m4 0h1m7 0h9m2 0h1m6 0h1m4 0h1m1 0h4m1 0h2m1 0h1m2 0h2m3 0h1m24 0h2m-219 1h1m5 0h1m23 0h1m3 0h2m15 0h1m28 0h1m7 0h1m26 0h2m1 0h1m4 0h1m15 0h1m19 0h1m3 0h1m5 0h1m1 0h1m4 0h1m2 0h3m3 0h1m32 0h1m-225 1h1m3 0h1m1 0h2m2 0h1m14 0h1m10 0h1m3 0h1m45 0h2m6 0h1m23 0h1m2 0h1m7 0h1m41 0h1m14 0h1m4 0h1m20 0h1m-211 1h1m1 0h1m29 0h1m6 0h1m43 0h1m1 0h1m4 0h1m1 0h1m30 0h1m44 0h1m41 0h1m-205 1h1m25 0h1m4 0h1m39 0h1m5 0h1m6 0h1m121 0h2m-240 1h1m2 0h1m23 0h1m4 0h1m24 0h3m3 0h1m39 0h2m4 0h1m7 0h1m120 0h2m-237 1h1m4 0h1m20 0h1m3 0h1m22 0h2m1 0h1m44 0h1m12 0h1m42 0h1m2 0h1m3 0h1m11 0h1m-172 1h1m24 0h1m21 0h2m60 0h1m40 0h3m6 0h1m11 0h2m56 0h1m-236 1h1m4 0h1m46 0h2m49 0h1m2 0h1m50 0h1m-156 1h1m102 0h1m69 0h2m-175 1h1m173 0h1m-183 1h4m106 0h1m-111 1h4m162 0h1m-225 1h1m55 1h2m10 0h1m-13 1h1m11 0h1m-14 2h1m-1 1h1m11 0h1m-1 1h1m-443 1h1m47 0h1m380 1h1m-499 1h1m36 0h1m460 0h1m-497 2h1m130 2h1m78 1h1m79 0h1m-321 1h1m103 0h1m-106 1h2m42 0h1m60 0h1m13 0h1m175 0h1m230 0h1m-528 1h1m-7 1h1m5 0h2m29 0h1m13 0h1m59 0h1m132 0h1m-193 1h1m20 0h1m161 0h1m111 0h1m-354 1h1m272 0h1m-257 1h1m74 0h1m394 0h1m-487 1h1m126 0h1m221 0h1m30 0h1m-378 1h1m172 0h1m360 0h1m-186 1h1m39 0h1m-342 1h1m66 0h1m21 0h1m158 0h1m113 0h1m19 0h1m3 0h1m1 0h1m-11 1h1m-32 1h1m29 0h1m30 0h1m24 0h1m-465 1h1m99 0h1m179 0h1m78 0h1m21 0h1m58 0h1m-441 1h1m98 0h1m117 0h1m164 0h1m9 0h2m15 0h1m50 0h1m-464 1h2m101 0h1m144 0h1m88 0h1m25 0h1m21 0h1m9 0h1m16 0h1m-365 1h1m314 0h1m31 0h1m32 0h2m156 0h1m-589 1h1m50 0h1m34 0h1m311 0h1m1 0h1m35 0h1m151 0h1m-584 1h1m45 0h1m42 0h1m6 0h1m149 0h1m202 0h1m133 0h1m-584 1h1m362 0h1m4 0h1m19 0h1m47 0h1m13 0h1m65 0h1m66 0h1m-584 1h1m8 0h1m4 0h1m82 0h1m164 0h1m92 0h1m32 0h1m5 0h1m9 0h1m111 0h1m66 0h2m-586 1h2m89 0h1m301 0h1m1 0h1m27 0h1m26 0h2m65 0h1m66 0h2m-590 1h1m2 0h1m190 0h1m260 0h1m53 0h1m77 0h3m-571 1h1m166 0h1m20 0h1m235 0h1m143 0h3m-403 1h1m6 0h1m15 0h1m99 0h1m17 0h1m71 0h1m50 0h1m135 0h3m-597 1h1m593 0h3m-575 1h1m432 0h1m138 0h1m1 0h1m-127 1h1m123 0h1m1 0h1m-366 1h1m362 0h1m1 0h1m-229 1h2m8 0h3m213 0h1m1 0h1m-3 1h1m1 0h1m-385 1h1m381 0h1m1 0h1m-226 1h4m3 0h1m215 0h1m1 0h1m-323 1h1m319 0h1m1 0h1m-286 1h1m54 0h1m227 0h1m1 0h1m-410 1h1m113 0h1m207 0h1m84 0h3m-407 1h1m58 0h1m7 0h1m254 0h1m81 0h3m-295 1h1m31 0h1m114 0h1m59 0h1m2 0h3m79 0h3m-440 1h1m144 0h1m10 0h1m198 0h1m81 0h3m-456 1h1m453 0h2m-457 1h1m191 0h1m1 0h1m113 0h2m62 0h1m1 0h1m80 0h1m-610 1h4m183 0h1m294 0h1m41 0h1m1 0h1m82 0h1m-228 1h1m1 0h1m79 0h4m14 0h3m39 0h3m82 0h1m-371 1h1m11 0h1m219 0h1m59 0h1m3 0h1m73 0h1m-459 1h1m32 0h1m1 0h1m64 0h1m1 0h1m264 0h1m14 0h2m2 0h1m-299 2h3m11 0h1m207 0h1m13 0h1m1 0h2m3 0h2m-92 1h1m141 1h1m-387 1h2m8 0h1m241 0h1m60 0h1m-63 1h1m12 0h1m4 0h1m7 0h1m11 0h1m2 0h1m84 0h1m-128 1h1m13 0h1m27 0h1m81 0h2m1 0h1m1 0h1m-374 1h1m4 0h1m2 0h1m269 0h1m7 0h1m4 0h1m15 0h1m32 0h2m-309 1h2m228 0h1m8 0h1m5 0h1m4 0h1m26 0h1m33 0h1m-269 1h3m1 0h1m17 0h1m173 0h4m2 0h1m4 0h1m60 0h1m-483 1h4m163 0h1m54 0h1m161 0h1m16 0h1m19 0h1m59 0h1m44 0h1m-534 1h4m150 0h1m71 0h1m180 0h2m8 0h1m25 0h1m81 0h2m-395 1h1m3 0h1m260 0h2m47 0h1m10 0h1m7 0h1m60 0h1m-120 1h1m6 0h1m16 0h1m7 0h1m86 0h1m-307 1h1m9 0h1m174 0h1m7 0h1m112 0h1m-307 1h1m130 0h1m80 0h1m87 0h1m5 0h1m-294 1h1m117 0h1m81 0h1m24 0h1m39 0h5m1 0h2m14 0h1m5 0h1m-182 1h1m64 0h1m22 0h1m15 0h1m8 0h1m36 0h1m8 0h1m15 0h1m3 0h1m1 0h1m-120 1h1m25 0h1m13 0h1m10 0h1m62 0h1m-59 1h1m1 0h1m54 0h1m4 0h2m-122 1h1m57 0h1m40 0h1m19 0h1m-78 1h1m13 0h1m53 0h2m7 0h2m-370 1h1m292 0h1m12 0h1m9 0h1m23 0h1m16 0h1m10 0h1m-140 1h1m84 0h3m1 0h1m38 0h1m-47 1h1m6 0h1m22 0h1m14 0h2m1 0h1m-54 1h1m34 0h1m15 0h1m-14 1h1m15 0h1m-84 1h1m1 0h1m28 0h1m25 0h1m-78 1h2m31 0h1m25 0h1m15 0h1m-76 1h1m16 0h1m11 0h1m29 0h1m-35 1h2m17 0h1m-25 1h1m1 0h1m6 0h1m25 0h1m-56 1h1m96 0h1m-69 1h1m2 0h1m40 0h1m21 0h1m-104 1h1m5 0h3m96 0h2m-107 1h1m1 0h2m1 0h4m31 0h1m39 0h2m4 0h1m18 0h2m-108 1h1m9 0h1m36 0h1m37 0h2m14 0h1m3 0h1m-100 1h2m76 0h1m3 0h1m5 0h1m3 0h1m2 0h1m2 0h2m20 0h1m-124 1h2m2 0h1m80 0h1m2 0h1m2 0h1m1 0h6m24 0h2m-65 1h1m23 0h3m37 0h1m-126 1h1m3 0h2m79 0h1m39 0h1m-124 1h1m13 0h1m43 0h1m24 0h1m-88 2h1m36 0h1m77 0h1m11 0h1m1 0h1m-118 1h1m24 0h1m53 0h1m20 0h1m4 0h1m9 0h3m191 0h14m16 0h3m14 0h4m3 0h5m5 0h4m-382 1h1m5 0h1m88 0h1m9 0h1m1 0h1m2 0h1m9 0h5m35 0h4m92 0h10m18 0h4m18 0h1m5 0h1m8 0h10m8 0h5m1 0h3m6 0h3m3 0h8m6 0h8m3 0h3m-300 1h1m3 0h1m4 0h3m10 0h1m1 0h1m2 0h1m4 0h3m9 0h2m4 0h2m3 0h3m6 0h3m3 0h11m7 0h9m3 0h1m45 0h5m10 0h14m7 0h5m3 0h20m5 0h6m3 0h1m8 0h20m5 0h9m5 0h6m9 0h11m-390 1h1m91 0h1m8 0h2m6 0h1m3 0h1m15 0h8m5 0h2m3 0h3m6 0h3m3 0h10m22 0h1m37 0h3m8 0h4m4 0h2m5 0h9m9 0h2m8 0h11m7 0h2m6 0h2m3 0h2m5 0h28m2 0h15m10 0h11m-269 1h1m42 0h2m8 0h9m5 0h6m7 0h1m21 0h3m3 0h3m9 0h11m11 0h7m6 0h3m7 0h12m15 0h8m1 0h3m2 0h15m5 0h18m20 0h5m-404 1h1m5 0h1m115 0h1m2 0h1m9 0h1m70 0h3m8 0h2m16 0h2m18 0h5m2 0h2m14 0h6m6 0h14m7 0h10m7 0h10m3 0h11m8 0h21m12 0h2m-395 1h1m5 0h1m116 0h1m1 0h2m6 0h1m5 0h1m69 0h2m10 0h3m6 0h7m13 0h2m4 0h3m19 0h6m4 0h15m9 0h21m3 0h14m11 0h7m16 0h7m4 0h6m2 0h3m-400 1h1m115 0h1m12 0h1m3 0h2m1 0h1m68 0h2m7 0h11m17 0h14m1 0h2m2 0h8m2 0h7m1 0h2m5 0h4m5 0h2m10 0h8m3 0h3m13 0h5m-224 1h1m1 0h1m11 0h1m76 0h2m4 0h12m5 0h4m6 0h5m52 0h12m4 0h3m-566 1h1m366 0h2m7 0h1m82 0h16m4 0h11m66 0h4m2 0h2m-101 1h12m5 0h2m1 0h2m74 0h3m-198 1h1m100 0h10m5 0h5m-18 1h8m4 0h5m-250 1h1m129 0h1m104 0h10m-6 1h4m-428 2h1m-43 1h1m317 0h1m27 0h1m-33 1h1m55 0h4m-6 1h2m1 0h3m4 0h1m-26 1h1m5 0h1m7 0h2m5 0h1m3 0h1m-417 1h1m391 0h1m3 0h2m6 0h1m11 0h1m-450 1h1m350 0h1m97 0h2m-453 1h1m74 0h1m44 0h1m330 0h1m0 1h1m-366 2h1m227 0h1m92 1h1m45 0h1m-138 1h1m121 1h1m4 2h1m2 1h2m1 0h1m-4 1h2m3 0h1m-6 1h1m5 0h1m-7 1h1m7 1h1m209 0h1m-211 1h1m208 0h2m-3 1h3m-321 1h1m1 0h1m107 0h1m207 0h3m-214 1h1m210 0h3m-322 1h1m104 0h1m1 0h1m211 0h3m-322 1h2m100 0h1m7 0h1m208 0h3m-322 1h2m100 0h1m9 0h61m2 0h63m2 0h10m112 0h3m2 0h6m-261 1h31m3 0h1m1 0h8m2 0h15m2 0h46m3 0h1m1 0h9m5 0h26m2 0h25m2 0h3m1 0h4m2 0h4m2 0h12m2 0h10m5 0h14m1 0h1m2 0h7m2 0h6m-261 1h61m2 0h63m2 0h53m2 0h28m2 0h10m2 0h1m2 0h16m2 0h7m2 0h6"/>
<path stroke="#0000fa" d="M0 .5m16 242h1m518 0h1m40 0h1m17 0h1m9 0h1m12 0h1m65 0h1m23 0h1m5 0h1m54 0h1m4 0h1m1 0h1m-747 117h1m59 0h1m84 0h1m34 0h1m303 2h4m3 0h1m1 0h1m1 0h1m-506 24h1m1 0h1m527 4h2m178 0h1m12 0h1m16 0h1m-756 2h1m14 0h1m6 0h1m13 0h1m11 0h1m1 0h1m6 0h1m44 0h2m19 0h1m2 0h1m69 0h1m42 0h1m11 0h1m13 0h1m46 0h1m50 0h1m10 0h1m1 0h2m112 0h1m2 0h1m13 0h1m22 0h1m1 0h1m12 0h1m12 0h1m34 0h1m22 0h1m6 0h1m7 0h1m15 0h1m17 0h2m19 0h1m29 0h1m13 0h1m13 0h1m-203 4h1m38 0h1m24 0h1m122 0h1m68 0h1m-446 8h1m33 0h1m39 0h1m37 0h1m38 0h1m97 0h1m44 0h1m83 0h1m58 0h1m-782 7h1m37 0h1m62 0h1m134 0h1m29 0h1m56 0h1m74 0h1m35 0h1m21 0h1m44 0h1m3 0h1m11 0h1m77 0h1m12 0h1m12 0h1m43 0h1m10 0h1m16 0h1m-373 1h1m28 0h1m25 0h1m62 0h1m131 0h1m105 0h1m14 0h1m12 0h1m2 0h1m-664 15h1m100 0h1m15 0h1m379 5h1m50 0h1m89 0h1m-449 20h1m2 0h1m1 0h1m146 0h1m41 0h1m-365 4h1m21 0h1m5 0h1m28 0h1m22 0h1m92 0h1m1 0h1m7 0h1m36 0h1m27 0h1m6 0h1m51 0h1m63 0h1m20 0h1m17 0h1m4 0h1m23 0h1m1 0h1m5 0h1m2 0h1m5 0h1m-491 16h1m16 0h1m20 0h1m17 0h1m12 0h1m39 0h1m21 0h1m98 7h1m31 0h1m7 0h1m26 0h1m48 0h1m60 0h2m5 0h1m52 0h1m-152 5h1m34 0h1m1 0h1m23 0h1m49 0h1m3 0h1m30 0h1m-262 14h1m75 0h1m25 0h1m37 0h1m8 0h1m31 0h1m34 0h1m41 0h1m3 0h1m32 0h1m-283 5h1m104 0h1m51 0h1m43 0h1m1 0h1m10 0h1m4 0h1m50 0h1m6 0h1m-406 3h1m35 0h1m-130 9h1m182 0h1m35 0h1m57 0h1m-299 1h1m64 0h1m30 0h1m154 0h1m60 0h1m1 0h1m-140 2h1m37 0h1m-47 3h2m6 0h1m-12 3h1m2 0h1m1 0h1m2 0h1m4 0h1m8 0h1m1 0h1m17 0h1m12 0h1m-179 1h1m6 0h2m19 0h1m5 0h1m41 0h2m14 0h1m23 0h1m96 0h1m5 0h1m20 0h1m22 0h1m29 0h1m3 0h1m8 0h1m-331 1h1m42 0h1m39 0h1m46 0h1m19 0h1m1 1h1m-154 3h1m30 0h1m1 0h1m9 0h1"/>
<path stroke="url(#p7)" d="M.5 0m0 475v1m2-2v1m2 20v1m3 98v1m0 3v1m2-114v1m5-6v1m3 1v1m1-3v1m4 19v1m2 0v2m2-9v1m1-1v1m3-1v1m8 9v1m1-2v1m8 89v1m8-87v1m6 79v1m9-88v1m53-16v2m1 2v1m2 0v1m0 1v1m3 3v1m3 2v1m3-20v1m2 17v1m10 36v1m1-63v1m17 64v1m1-2v1m19-13v1m1-52v1m27 38v1m1-2v1m12 24v1m2-9v1m0 11v1m3-7v1m4 0v1m7 8v1m1-47v1m1 43v1m1-30v1m6 7v1m4-24v1m2-14v1m1 24v1m6 9v2m9 13v1m4-53v1m0 1v1m1-189v8m1-10v13m1-14v16m1-17v18m1-19v21m1-21v22m1-23v9m0 2v14m1-26v8m0 8v11m1-27v7m0 11v10m1-29v7m0 14v9m0 160v1m1-191v6m0 16v9m1-31v6m0 18v7m1-31v5m0 20v7m1-33v6m0 21v7m1-34v6m0 22v6m1-34v6m0 23v6m1-35v6m0 23v7m1-36v6m0 24v6m0 181v2m1-218v5m0 25v6m1-36v5m0 25v6m1-36v5m0 26v6m1-37v5m0 27v5m1-37v5m0 27v6m1-37v5m0 27v6m1-38v5m0 27v6m1-37v4m0 28v6m1-38v5m0 27v6m1-37v4m0 28v6m0 158v1m1-197v5m0 27v6m0 154v1m1-192v4m0 28v5m1-37v5m0 27v6m1-37v4m0 28v5m1-37v5m0 27v6m1-37v4m0 28v5m0 150v2m1-188v4m0 27v6m1-37v4m0 28v5m1-36v4m0 27v5m1-36v4m0 28v5m1-36v4m0 27v5m1-36v4m0 27v5m1-35v4m0 27v5m1-36v4m0 27v5m1-35v3m0 27v5m0 184v1m1-220v4m0 27v4m1-35v4m0 27v5m1-34v2m0 27v5m1-35v4m0 27v4m1-34v3m0 27v5m1-35v3m0 27v5m1-35v4m0 26v5m1-35v4m0 27v4m1-35v4m0 27v5m1-36v4m0 27v5m1-36v4m0 27v5m1-35v3m0 28v5m0 176v1m1-213v3m0 28v5m1-36v4m0 27v5m0 194v1m1-231v4m0 27v5m1-36v4m0 28v5m1-37v4m0 28v5m1-38v5m0 28v5m1-38v5m0 28v6m1-39v4m0 30v5m1-39v4m0 30v5m1-39v4m0 30v6m1-40v4m0 30v6m1-40v4m0 31v5m0 170v1m1-212v5m0 31v5m1-41v5m0 31v6m1-42v5m0 32v5m1-42v5m0 32v5m0 165v1m1-208v4m0 33v5m1-43v5m0 33v6m1-44v5m0 34v5m1-44v5m0 34v5m1-44v5m0 34v5m1-44v5m0 34v6m1-45v4m0 36v5m1-46v5m0 36v5m1-46v5m0 36v5m1-46v5m0 36v6m1-47v5m0 37v5m1-47v5m0 37v5m1-47v5m0 37v6m1-48v4m0 39v5m1-48v4m0 39v5m1-49v5m0 39v6m1-50v5m0 40v5m1-50v5m0 40v5m1-50v5m0 40v5m1-50v5m0 40v6m1-51v5m0 41v5m1-51v4m0 42v5m1-51v4m0 42v6m1-53v5m0 43v5m1-53v5m0 43v5m1-53v5m0 43v6m1-54v5m0 44v5m1-54v5m0 44v5m1-54v5m0 44v6m1-55v5m0 44v6m1-55v5m0 45v5m1-55v5m0 45v6m1-56v5m0 45v6m1-56v5m0 46v5m1-56v5m0 46v5m1-56v6m0 45v6m0 135v1m1-193v6m0 46v5m1-57v6m0 46v5m0 139v1m0 1v1m1-199v6m0 46v6m0 136v1m1-194v5m0 46v6m0 141v1m1-199v5m0 47v5m1-57v5m0 47v6m1-58v6m0 46v6m1-58v6m0 47v5m1-58v6m0 47v6m0 142v1m1-202v6m0 47v6m0 141v1m1-200v5m0 48v5m1-58v5m0 48v6m0 133v1m1-193v6m0 47v6m0 185v1m1-245v6m0 48v6m0 134v1m1-195v6m0 48v6m0 184v1m1-244v6m0 48v5m0 199v2m0 6v3m1-269v6m0 48v6m0 145v13m0 6v13m0 2v33m1-272v7m0 47v6m0 137v6m0 8v4m0 4v32m0 5v19m1-274v7m0 47v5m0 134v9m0 2v21m0 2v25m0 18v2m1-272v8m0 46v6m0 133v8m0 70v1m1-271v8m0 45v6m0 133v8m0 70v3m1-273v10m0 44v5m0 133v20m0 57v3m1-271v11m0 42v6m0 133v11m0 5v6m0 1v20m0 2v1m0 2v1m0 3v11m0 11v7m1-272v12m0 41v5m0 135v3m0 5v12m0 2v6m0 10v40m0 22v1m1-293v14m0 38v5m0 169v12m0 8v5m0 2v1m0 4v5m1-261v14m0 36v6m0 182v1m0 53v1m1-291v14m0 35v5m0 178v1m0 3v1m1-235v14m0 33v5m0 180v1m1-230v12m0 33v5m0 178v1m0 1v1m1-228v11m0 31v5m0 179v1m0 1v1m1-226v9m0 30v6m0 179v1m1-223v7m0 31v5m0 177v2m1-220v6m0 30v5m0 174v1m0 2v2m1-219v6m0 30v5m1-40v6m0 29v5m0 198v1m1-238v5m0 30v5m1-39v5m0 29v6m0 164v1m0 6v1m1-211v4m0 30v5m0 164v1m0 9v6m0 3v2m1-224v5m0 29v6m0 171v11m1-221v4m0 30v5m0 171v5m0 6v11m1-232v5m0 29v6m0 170v3m0 13v7m1-232v4m0 30v6m0 167v4m0 18v9m1-238v5m0 30v6m0 166v3m0 22v4m1-235v4m0 30v7m0 163v4m0 27v2m1-237v4m0 31v7m0 162v4m0 30v1m0 1v1m1-240v4m0 31v7m0 163v1m0 34v5m1-245v4m0 32v6m0 201v8m1-251v5m0 32v6m0 160v3m0 39v2m0 7v4m1-257v4m0 32v7m0 159v3m0 42v20m1-267v4m0 33v7m0 159v2m0 49v13m1-267v5m0 33v7m0 158v3m0 48v7m1-260v4m0 34v7m0 207v4m0 8v2m0 7v1m1-274v5m0 34v7m0 156v4m0 38v22m1-266v5m0 35v7m0 157v4m0 23v13m0 2v16m0 8v1m1-270v5m0 35v7m0 160v2m0 16v8m0 12v5m1-250v5m0 36v6m0 163v13m1-223v6m0 36v6m0 158v1m0 9v4m1-219v5m0 37v6m0 160v8m0 1v1m1-218v6m0 36v6m1-47v6m0 36v5m0 105v1m0 40v2m1-195v6m0 36v6m1-47v6m0 35v6m0 146v1m1-194v7m0 35v5m0 141v1m0 4v1m1-193v7m0 34v5m0 146v1m1-192v7m0 33v5m0 99v1m0 46v1m1-191v7m0 32v5m0 199v1m1-243v7m0 31v5m0 116v1m0 48v1m1-208v8m0 28v6m0 114v1m1-156v8m0 27v6m0 115v1m0 39v1m0 9v1m1-206v9m0 24v6m0 161v1m0 5v1m0 13v1m1-219v10m0 21v6m0 113v1m0 40v1m1-191v14m0 14v8m0 154v1m1-189v33m0 167v2m1-200v31m1-29v28m1-23v22m1-13v11m3 156v1m0 15v1m8-11v1m0 1v1m6 7v1m2 0v1m1-2v2m0 10v1m1-15v1m1-59v2m1-2v1m1 96v1m1-97v1m2 42v1m0 1v1m2-51v1m0 2v1m1 49v2m5-52v1m0 45v2m4 19v2m1-4v1m0 1v1m0 7v3m1-3v1m2-2v4m1-4v1m0 1v3m1-25v2m0 18v4m1-26v2m0 20v7m1-29v2m0 20v7m1-6v3m1-26v2m0 20v5m0 2v2m1-9v7m0 18v1m1-26v7m2-7v5m1-5v6m1-6v4m1-37v1m0 31v7m1-45v1m0 37v8m0 20v1m1-29v8m0 3v2m1-45v1m0 44v1m1-76v1m0 57v8m1-40v1m0 1v1m0 21v16m1-59v1m0 4v2m0 38v3m0 11v1m0 31v1m1-89v2m0 1v2m0 10v1m0 20v2m0 1v4m0 14v4m0 1v1m0 16v1m0 8v1m1-86v1m0 14v1m0 17v3m0 2v1m0 18v1m1-49v1m0 3v3m0 19v4m0 15v1m0 22v2m1-69v1m0 2v1m0 19v2m0 1v3m0 15v2m0 1v2m0 20v2m0 1v1m0 1v1m1-94v1m0 46v1m0 19v1m0 31v1m1-66v1m0 13v1m0 14v4m0 20v1m0 3v2m1-60v1m0 1v1m0 5v1m0 1v1m0 2v4m0 13v1m0 25v1m0 1v1m1-70v1m0 10v2m0 13v3m0 12v4m0 18v2m1-66v1m0 12v2m0 4v1m0 10v1m0 11v3m0 19v1m1-64v1m0 30v1m0 9v3m0 18v1m1-29v1m0 5v4m1-8v8m0 18v2m0 7v1m0 11v1m1-49v8m0 19v1m0 1v2m2 12v3m0 1v1m1-46v1m0 38v3m0 2v2m1-44v2m0 35v2m1-33v3m0 33v2m1-108v11m0 7v4m0 48v3m0 33v2m1-120v2m0 79v2m0 2v1m1-94v2m0 87v1m0 20v1m1-118v2m0 93v2m0 1v1m1-103v2m0 97v2m0 1v1m1-106v2m0 100v2m0 1v1m1-106v1m0 101v2m0 1v1m1-109v3m0 103v1m0 1v1m1-109v2m0 104v1m0 1v1m1-109v2m0 104v1m0 1v1m1-109v2m0 106v1m1-115v2m0 109v1m0 2v1m1-114v1m0 109v1m0 2v1m1-113v1m0 108v1m0 2v1m1-114v1m0 109v1m0 2v1m1-111v2m0 105v1m0 2v1m1-102v2m0 96v1m0 2v1m1-106v1m0 101v1m0 2v1m1-113v2m0 107v4m1-4v4m2-129v2m1-1v2m1 0v2m1 1v1m0 118v1m0 2v1m1-127v1m0 122v1m0 2v1m1-128v1m0 123v1m0 2v1m1-129v2m0 123v1m1-125v1m1-1v2m1 1v1m1-3v2m1-3v2m1-2v2m0 123v2m1-120v2m0 116v2m1-118v2m0 114v2m1-122v2m1 3v2m0 112v1m0 2v1m1-116v2m1-4v1m1 2v2m0 112v1m1-119v1m0 117v1m1-119v2m0 113v1m0 2v1m1-116v1m1 1v2m1-7v2m1-8v3m0 121v1m1-120v3m0 116v1m1-126v4m1-5v3m1-2v3m1 0v2m1-2v3m1-3v3m1-2v2m1-2v2m1-3v2m1-1v1m1-2v1m1 0v1m0 121v1m1-120v1m0 114v1m0 3v1m1-123v2m0 116v1m0 3v1m1-123v3m0 115v1m0 3v1m1-122v3m0 114v1m0 3v1m1-123v4m0 114v1m0 3v1m1-114v2m0 30v22m0 59v1m1-114v4m0 7v4m0 11v15m0 17v7m1-66v36m0 28v7m0 40v1m0 3v1m1-117v3m0 7v14m0 4v13m0 20v7m0 48v1m1-118v2m0 41v15m0 56v1m1-114v2m0 115v1m1-122v3m1-4v1m0 117v1m1-122v3m0 118v1m0 5v1m1-121v1m0 113v1m1-118v2m0 122v1m1-123v1m0 115v1m0 5v1m1-129v2m0 126v1m1-128v1m1-4v2m0 123v1m0 5v1m1-133v1m0 125v1m0 6v1m1-129v2m0 119v1m0 6v1m1-133v1m1 132v1m1-8v1m1-1v1m1-137v2m0 134v1m0 7v1m1-140v1m0 130v1m0 7v1m1-141v1m0 131v1m0 8v1m1-140v1m0 129v1m1-128v2m0 124v1m1-123v1m0 121v1m1-121v1m0 119v1m0 8v1m1-135v3m0 122v1m1-127v4m0 122v1m0 7v1m1-134v4m0 129v1m1-131v2m0 119v1m0 8v1m1-132v2m0 119v1m0 6v1m0 2v1m1-135v1m0 123v1m0 9v1m1-138v1m0 135v1m1-136v2m0 125v1m0 5v1m1-133v1m0 125v1m0 5v1m1-133v1m0 125v1m1-126v1m1 2v2m0 119v1m1-124v1m0 122v1m0 5v1m1-131v2m0 128v1m1-128v1m0 126v1m1-131v1m0 122v1m0 6v1m1-130v1m0 121v1m0 6v1m1-130v2m0 120v1m0 5v1m1-128v1m0 120v1m0 5v1m1-128v2m0 125v1m1-127v2m0 117v1m1-113v1m0 111v1m1-112v1m0 110v1m0 6v1m1-117v2m1 1v1m0 1v1m0 104v1m1-110v3m0 106v1m1-111v3m0 24v11m0 72v1m0 5v1m1-120v2m0 19v33m0 58v2m0 5v1m1-123v3m0 23v29m0 60v3m0 4v1m1-122v2m0 97v3m0 11v4m0 4v1m1-125v1m0 116v3m1-123v1m0 120v2m1-123v1m0 120v1m0 4v1m1-127v2m0 119v1m0 4v1m1-120v1m0 112v1m1-111v2m0 108v1m1-115v1m0 113v1m1-118v1m0 116v1m1-118v2m0 115v1m1-122v2m0 119v1m1-122v2m0 119v1m0 6v1m1-128v1m0 118v1m0 7v1m1-129v1m0 119v1m0 7v1m1-129v1m0 119v1m0 7v1m1-127v1m0 117v1m0 7v1m1-127v1m0 117v1m0 7v1m1-128v1m0 118v1m0 7v1m1-125v1m0 115v1m0 7v1m1-127v1m0 117v1m0 7v1m1-128v1m0 126v1m1-128v1m0 126v1m1-127v1m0 118v1m0 6v1m1-129v2m0 119v1m0 6v1m1-128v1m0 119v1m1-121v1m0 125v1m1-127v1m0 125v1m1-127v2m0 124v1m1-126v1m0 124v1m1-124v1m0 116v1m0 5v1m1-125v2m0 116v1m1-116v1m0 114v1m1-119v1m0 117v1m1-118v1m0 116v1m1-116v2m0 119v1m1-123v2m0 120v1m1-124v2m0 121v1m1-123v2m0 120v1m1-121v1m0 113v1m0 5v1m1-125v1m0 117v1m0 6v1m1-125v2m1-4v2m0 116v1m1-115v1m0 113v1m1-117v1m1-2v1m0 117v1m1-1v1m1-117v1m0 115v1m0 7v1m1-119v2m0 108v1m0 7v1m1-118v1m0 108v1m0 7v2m1-120v1m0 109v1m0 8v1m1-114v2m0 102v1m0 8v2m1-116v1m0 104v1m0 8v2m1-122v2m0 109v1m0 9v1m1-128v1m0 126v1m1-128v1m0 117v1m0 8v1m1-127v1m0 116v1m0 7v1m1-9v1m1-119v2m0 116v1m0 6v1m1-125v1m0 116v1m0 6v1m1-128v2m0 123v3m1-128v1m0 118v1m0 5v3m1-128v2m0 117v1m0 5v3m1-126v2m0 114v1m0 7v2m1-127v1m0 117v1m0 6v1m1-126v1m0 117v1m0 6v1m1-126v2m0 116v2m0 4v1m1-115v2m0 106v3m0 3v1m1-114v1m0 106v3m0 3v2m1-118v1m0 108v1m0 2v1m0 3v2m1-118v2m0 107v1m0 6v2m1-125v2m0 121v2m1-3v3m1-125v1m0 121v3m1-125v1m0 121v3m1-125v2m0 121v2m1-125v2m0 121v1m1-124v1m0 120v1m0 1v1m1-124v2m0 118v2m0 1v1m1-123v1m0 113v1m0 4v2m0 2v1m1-125v1m0 114v1m0 8v1m1-126v2m0 114v1m0 8v1m1-125v1m0 114v1m0 8v1m1-124v2m0 112v1m0 8v1m1-121v1m0 110v1m0 7v1m1-122v2m0 111v2m0 6v1m1-125v2m0 115v1m0 6v1m1-125v1m0 116v1m0 6v1m1-123v1m0 115v1m1-117v1m0 115v1m0 4v1m1-124v2m0 116v1m0 4v1m0 30v6m1-158v2m0 114v1m0 3v1m0 28v4m1-155v1m0 117v1m0 3v1m0 27v4m1-155v1m0 118v1m0 3v1m0 26v4m1-152v2m0 115v1m0 3v2m0 27v9m1-160v2m0 116v1m0 2v3m1-122v2m0 117v3m1-123v2m0 118v3m1-123v2m0 118v3m1-122v2m0 113v1m0 3v1m0 1v1m1-121v2m0 112v1m1-116v2m0 120v1m1-124v2m0 113v1m0 7v1m1-124v2m0 121v1m1-124v2m0 114v1m1-115v2m0 113v1m1-119v2m0 116v1m1-118v1m0 116v1m0 4v1m1-123v2m0 115v1m0 4v1m1-126v2m0 118v1m1-119v1m0 117v1m1-119v2m1-1v2m1-4v2m0 116v1m1-119v2m0 116v1m0 5v1m1-125v2m0 116v1m0 5v1m1-125v1m0 117v1m0 5v1m1-127v2m0 118v1m0 5v1m1-124v2m0 121v1m1-124v2m0 114v1m0 6v1m1-127v2m0 124v1m1-126v1m0 124v1m1-124v1m0 116v1m0 5v1m1-126v2m0 117v1m1-119v2m0 116v1m1-120v2m1 4v1m1 3v1m1-3v1m1-1v2m1-8v2m0 115v1m0 5v1m1-125v2m0 116v1m0 5v1m1-126v1m1-1v1m0 124v1m1-125v1m0 117v1m1-120v2m0 116v1m0 7v1m1-126v2m0 115v1m0 7v1m1-124v1m0 114v1m0 7v1m1-123v2m0 112v1m0 7v1m1-128v2m0 118v2m0 5v1m1-128v2m0 118v2m0 5v1m1-128v2m0 118v2m0 5v1m1-129v1m0 120v1m0 6v1m1-128v2m0 118v1m0 6v1m1-127v2m0 116v2m0 6v1"/>
<path stroke="#000fff" d="M0 .5m448 242h1m102 0h1m34 0h1m5 0h1m161 0h1m-719 117h1m74 0h1m13 0h1m38 0h1m345 2h1m1 0h1m4 0h1m3 0h1m1 0h1m-483 24h1m492 4h1m42 0h1m59 0h1m8 0h1m71 0h1m18 0h1m14 0h1m-738 2h1m7 0h1m22 0h1m2 0h1m33 0h1m3 0h1m1 0h1m2 0h1m19 0h1m18 0h1m24 0h2m13 0h1m8 0h1m4 0h1m13 0h1m6 0h1m27 0h1m2 0h1m8 0h1m19 0h1m1 0h1m18 0h1m41 0h1m87 0h1m2 0h1m2 0h2m70 0h1m7 0h1m23 0h1m10 0h1m25 0h1m1 0h1m56 0h1m2 0h1m15 0h2m8 0h1m4 0h1m3 0h1m1 0h1m7 0h1m2 0h1m63 0h1m13 0h1m1 0h1m4 0h1m5 0h1m-151 4h1m13 0h2m83 0h1m64 0h1m-397 8h1m8 0h1m83 0h1m72 0h1m55 0h1m10 0h1m63 0h1m87 0h1m27 0h1m-797 7h1m29 0h1m29 0h1m41 0h1m38 0h1m2 0h1m49 0h1m58 0h1m54 0h1m44 0h1m102 0h1m3 0h1m4 0h1m4 0h1m91 0h1m26 0h1m9 0h1m10 0h1m50 0h1m37 0h2m9 0h1m94 0h1m-781 1h1m11 0h1m39 0h1m96 0h1m15 0h1m31 0h1m65 0h1m31 0h1m90 0h1m122 0h1m95 0h1m3 0h1m74 0h1m22 0h1m32 0h1m3 0h1m15 0h1m-767 15h1m10 0h1m89 0h1m445 5h1m23 0h1m13 0h1m36 0h1m-390 20h1m1 0h3m64 0h1m50 0h1m68 0h1m6 0h1m64 0h1m-434 4h1m24 0h1m27 0h1m36 0h1m22 0h1m16 0h1m55 0h1m13 0h1m22 0h1m3 0h1m5 0h1m13 0h1m10 0h1m1 0h1m39 0h1m27 0h1m20 0h2m37 0h1m25 0h3m16 0h1m6 0h1m8 0h4m-528 16h1m41 0h1m153 0h1m1 0h1m46 7h1m49 0h1m38 0h1m19 0h1m5 0h2m5 0h1m16 0h1m8 0h1m108 0h1m-173 5h1m27 0h1m4 0h1m25 0h1m3 0h2m33 0h1m10 0h1m7 0h1m32 0h1m-209 14h1m14 0h1m24 0h1m71 0h1m5 0h1m1 0h1m19 0h1m6 0h1m4 0h1m7 0h1m5 0h1m5 0h3m21 0h1m6 0h2m13 0h1m13 0h2m7 0h1m5 0h1m16 0h1m-297 5h1m34 0h1m21 0h1m77 0h1m19 0h1m8 0h1m3 0h1m7 0h1m20 0h1m39 0h1m9 0h1m3 0h1m8 0h1m4 0h1m1 0h1m7 0h1m15 0h1m-412 3h1m66 0h1m5 6h1m1 0h1m8 0h1m-159 3h1m2 0h1m6 0h1m42 0h1m62 0h1m6 0h1m5 0h1m10 0h1m2 0h1m4 0h1m14 0h1m35 0h1m33 0h1m11 0h1m8 0h1m9 0h1m-302 1h1m71 0h1m46 0h1m68 0h1m109 0h1m35 0h1m-161 2h1m8 0h1m27 0h1m-30 3h1m11 0h1m4 0h1m-32 3h1m3 0h1m13 0h1m2 0h1m17 0h1m7 0h1m1 0h1m-139 1h1m6 0h1m27 0h1m6 0h1m11 0h1m20 0h2m27 0h1m16 0h1m2 0h1m23 0h1m20 0h1m6 0h1m67 0h1m2 0h1m10 0h1m-348 1h1m21 0h4m1 0h1m10 0h1m12 0h1m4 0h1m101 0h1m1 0h2m16 0h1m14 1h1"/>
<path stroke="url(#p8)" d="M.5 0m4 499v1m12-22v1m0 1v1m11 5v1m1 6v1m2-2v1m2-3v1m38 94v1m54-101v1m99 46v1m1 0v1m2 5v1m5-6v1m1-2v1m1-4v1m1 0v1m0 2v1m1-3v1m0 1v1m15-15v1m23 19v1m11-240v2m1-4v8m1-9v11m1-12v14m1-15v16m1-16v18m1-19v20m1-20v21m1-21v22m1-22v23m1-23v23m1-23v24m1-24v25m1-25v25m0 182v1m1-208v26m1-26v27m1-27v27m1-26v27m1-27v27m1-27v28m1-27v27m1-27v28m1-27v27m1-27v28m0 220v1m1-248v27m1-27v28m1-27v27m1-27v28m1-27v27m0 169v1m1-197v28m1-27v27m1-27v28m1-27v27m1-27v27m1-26v27m1-27v27m1-27v27m1-26v27m1-27v27m0 165v1m1-193v27m1-26v27m1-27v27m1-27v27m1-26v26m1-26v27m1-27v27m1-27v27m1-27v27m1-27v28m1-28v28m1-27v27m1-27v27m1-27v28m1-28v28m1-28v28m1-28v28m1-29v30m1-30v30m1-30v30m1-30v30m1-30v31m0 195v1m1-227v31m1-31v31m1-31v32m1-32v32m1-33v33m1-33v33m1-33v34m1-34v34m1-34v34m1-34v34m1-35v36m1-36v36m1-36v36m1-36v36m1-36v37m1-37v37m1-37v37m1-38v39m1-39v39m1-39v39m1-39v40m1-40v40m1-40v40m1-40v40m1-40v41m1-42v42m1-42v42m1-42v43m1-43v43m1-43v43m1-43v44m1-44v44m1-44v44m1-44v44m1-44v45m1-45v45m1-45v45m1-45v46m1-46v46m1-45v45m1-45v46m1-46v46m1-46v46m1-46v46m0 143v1m1-190v47m1-47v47m0 145v1m1-192v46m1-46v47m0 143v2m0 1v1m1-194v47m0 146v1m1-194v47m1-47v48m1-48v48m0 140v1m1-188v47m1-47v48m1-48v48m1-47v48m0 192v1m1-241v48m1-47v47m1-46v47m0 198v3m0 4v11m1-262v46m0 147v10m0 2v14m0 4v40m1-262v45m0 147v14m0 6v50m1-260v44m0 165v17m0 4v29m1-257v42m0 202v11m1-253v41m0 174v1m0 1v1m1-215v38m1-36v36m0 240v1m1-275v35m0 185v1m1-219v33m1-32v33m0 236v1m1-268v31m1-30v30m1-30v31m1-30v30m1-29v30m1-29v29m1-29v30m1-29v29m0 173v1m1-203v30m0 173v1m1-203v29m1-29v30m0 181v6m1-216v29m0 179v5m0 3v5m1-221v30m0 177v18m1-224v30m0 175v22m1-227v30m0 135v1m0 38v3m0 3v21m1-231v31m0 173v6m0 7v16m1-232v31m0 171v34m1-236v32m0 172v26m0 4v5m1-238v32m0 169v16m0 6v17m1-240v32m0 169v42m1-243v33m0 168v5m0 2v29m0 4v5m1-245v33m0 168v22m0 6v20m0 20v2m1-271v34m0 169v45m1-247v34m0 167v38m1-239v35m0 168v2m0 4v9m0 5v3m1-225v35m0 169v9m1-213v36m1-35v36m1-36v37m1-36v36m1-35v36m1-36v36m1-35v35m0 150v1m1-185v35m1-34v34m1-33v33m1-32v32m1-31v31m0 167v1m1-197v28m1-27v27m0 169v1m1-195v24m1-21v21m1-16v14m2 187v1m7-14v1m16 16v1m11-30v1m1-4v1m15 8v1m6-17v1m0 61v1m3-62v2m0 42v2m1-48v1m0 64v1m5-37v9m0 31v2m1-93v1m0 2v2m0 44v14m0 24v4m0 2v1m1-46v8m0 36v1m1-45v9m0 3v3m0 25v4m1-44v8m0 2v5m1-15v14m1-13v14m1-31v1m0 17v13m1-12v12m0 24v2m1-37v11m0 23v1m1-33v9m0 22v2m0 5v1m1-36v5m0 23v1m1 0v1m0 1v1m0 3v1m1-5v1m0 1v1m3 10v2m1-3v4m1-3v2m1-95v7m1-28v9m0 21v22m0 29v1m1-90v2m1-9v3m1-7v3m1-6v3m1-3v3m1-5v3m0 99v1m1-104v4m0 99v1m1-104v3m0 100v1m1-104v3m0 100v1m1-110v2m0 44v4m1-49v1m0 37v15m1-53v2m0 40v9m1-52v1m1 3v2m1 7v3m1-7v4m1-11v2m1-4v2m2-16v1m0 122v1m0 2v1m1-126v2m0 120v1m0 2v1m1-124v1m0 119v1m0 2v1m1-122v1m1-5v2m1-3v2m1-2v1m0 125v1m1-127v1m0 122v1m1-123v1m0 121v1m1-121v2m1-3v1m0 120v1m0 2v1m1-126v1m0 121v1m0 2v1m1-126v2m0 120v1m0 2v1m1-119v1m0 114v1m0 2v1m1-117v1m0 112v1m0 2v1m1-121v2m0 115v1m0 2v1m1-116v1m0 1v14m1-14v14m1-17v4m1 0v3m1-8v2m1-1v1m1 1v2m0 109v1m0 2v1m1-112v2m0 109v1m1-116v1m0 114v1m1-122v2m1 3v2m1-7v2m1-4v2m1-1v2m0 117v1m1-118v3m0 114v1m1-117v4m1-4v5m1-5v4m1-4v2m1-3v1m1-1v2m1-2v1m0 120v1m1-122v2m0 115v1m1-114v1m1-4v3m1-2v2m1-1v2m0 49v6m1-57v2m0 28v30m1-53v30m0 22v7m0 48v1m1-106v7m0 4v11m0 39v7m0 42v1m1-45v5m1-74v7m0 14v4m0 40v7m1-74v41m0 15v8m1-63v18m0 25v9m0 59v1m1-115v3m0 8v8m0 95v1m0 4v1m1-122v2m0 120v1m1-125v2m1 3v2m0 118v1m1-123v1m0 114v1m1-115v2m1-7v1m0 119v1m1-120v1m0 125v1m1-130v1m0 129v1m1-132v1m1 4v1m1-6v1m0 123v1m0 7v1m1-136v4m0 123v1m1-120v2m0 117v1m0 8v1m1-140v1m0 129v1m0 8v1m1-142v1m0 131v1m1-130v1m0 128v1m0 9v1m1-141v2m0 128v1m1-129v2m0 126v1m0 9v1m2-132v2m1 1v2m1-6v4m0 127v1m1-132v7m1-6v7m0 13v4m0 10v3m0 83v1m1-120v4m0 114v1m1-120v2m1-6v2m1-5v1m0 125v1m1-125v1m0 131v1m1-133v1m1-1v1m0 130v1m1-131v1m0 122v1m1-120v1m0 125v1m1-130v1m0 120v1m1-122v1m0 120v1m1-120v1m0 118v1m1-123v1m2 1v1m1-1v2m1-1v2m1-1v4m0 29v8m0 83v1m1-119v3m0 19v26m0 70v1m1-118v3m0 22v12m1-34v5m0 102v1m0 6v1m1-111v27m0 76v1m0 6v1m1-113v48m0 57v1m0 6v1m1-114v24m0 11v22m0 7v1m0 41v1m1-111v19m0 33v12m0 3v5m0 37v1m1-112v23m0 29v12m0 6v30m0 10v2m1-112v3m0 23v36m0 15v20m0 3v11m1-115v3m0 46v11m0 36v20m0 7v1m1-127v2m0 117v1m1-120v2m1-1v1m0 117v1m1-113v2m1 2v2m0 105v1m0 7v1m1-121v2m0 110v1m0 7v1m1-9v1m0 7v1m1-123v1m0 113v1m0 7v1m1-127v1m0 117v1m0 7v1m1-127v1m0 117v1m1-119v1m1-2v2m1-2v1m1 1v1m1-1v2m1-3v2m1 1v2m1-4v2m1-3v2m0 116v1m1-119v1m0 117v1m1-118v1m1-2v1m1-1v2m1-2v2m0 117v1m1-119v1m0 117v1m1-119v1m0 117v1m1-119v2m0 116v1m1-117v1m1-1v1m1 1v2m0 111v1m0 7v1m1-125v1m0 123v1m1-124v2m0 121v1m1-121v2m0 40v1m0 70v1m1-115v4m0 110v1m1-116v3m0 112v1m1-115v2m0 112v1m1-114v2m1-6v2m1 0v2m0 112v1m0 8v1m1-126v2m0 123v1m1-123v2m0 110v1m0 9v1m1-124v1m0 113v1m0 8v1m1-126v2m0 114v1m0 8v1m1-125v1m0 114v1m0 8v1m1-124v2m1 5v2m0 115v1m1-118v3m0 104v1m0 10v1m1-120v3m0 105v1m0 10v1m1-113v2m0 99v1m1-104v2m0 101v1m1-109v1m0 107v1m1-116v2m0 114v1m1-117v2m0 114v1m1-116v2m1 4v2m1-8v1m1-1v2m1-4v1m0 116v1m1-119v2m0 115v1m1-117v1m0 115v1m1-115v1m1-3v2m0 114v1m0 8v1m1-126v2m0 114v1m1-116v2m0 121v1m1-114v2m0 111v1m1-114v3m0 102v1m1-109v3m1-2v3m0 103v1m0 9v1m1-124v3m0 110v1m0 9v1m1-125v3m0 111v1m0 9v1m1-125v3m0 111v1m0 9v1m1-125v3m0 111v1m0 9v1m1-124v3m0 110v1m1-113v1m0 111v1m0 8v1m1-124v2m0 112v1m0 8v1m1-123v2m0 111v1m0 8v1m1-123v3m1-4v3m0 110v1m1-114v2m0 111v1m0 10v1m1-125v2m0 111v1m1-112v2m0 109v1m1-110v2m0 107v1m0 9v1m1-1v1m1-123v1m0 112v1m1-116v2m0 113v1m1-114v2m0 112v1m0 6v1m1-122v2m0 112v1m1-116v2m0 145v5m1-150v2m0 117v1m0 23v4m1-150v3m0 119v1m0 22v4m1-149v2m0 114v1m0 5v1m0 22v3m1-146v3m0 111v1m0 29v4m1-149v3m0 112v1m0 36v5m1-155v3m0 110v1m1-115v3m0 111v1m1-115v3m0 111v1m1-114v3m1-2v3m0 108v1m0 7v1m1-121v3m0 109v1m1-114v3m1-3v2m0 111v1m1-114v2m0 111v1m0 7v1m1-120v2m0 110v1m0 6v1m1-123v2m0 113v1m1-116v3m0 112v1m1-115v2m0 112v1m1-118v2m0 115v1m0 5v1m1-123v3m0 113v1m0 5v1m1-122v4m0 111v1m0 5v1m1-121v3m0 111v1m0 5v1m1-123v2m0 120v1m1-123v2m1-2v2m1-3v2m1-3v2m0 115v1m1-114v1m0 112v1m1-115v1m0 121v1m1-126v1m0 116v1m1-118v2m0 115v1m1-116v1m0 114v1m1-117v1m0 115v1m1-116v1m1-2v2m1 3v2m0 109v1m1-107v5m0 101v1m1-110v4m0 105v1m1-109v3m1-9v2m1-3v2m1-4v2m0 116v1m0 5v1m1-125v2m0 116v1m1-118v1m0 115v1m0 7v1m1-125v2m0 113v1m0 9v1m1-125v2m0 112v1m0 9v1m1-123v3m0 109v1m0 9v1m1-122v2m0 109v1m1-117v2m0 115v1m1-118v1m0 116v1m1-118v1m0 116v1m1-120v2m0 117v1m1-118v1m0 116v1"/>
<path stroke="#0024ff" d="M0 .5m1 242h1m45 0h1m413 0h1m101 0h1m55 0h1m58 0h1m9 0h1m9 0h1m23 0h1m20 0h1m16 0h1m-725 143h1m510 4h1m63 0h1m90 0h1m30 0h1m1 0h1m29 0h2m-739 2h1m5 0h1m1 0h1m5 0h1m10 0h1m11 0h1m25 0h1m17 0h1m11 0h2m17 0h1m2 0h1m33 0h1m16 0h1m20 0h1m11 0h1m1 0h1m35 0h1m14 0h1m7 0h1m12 0h1m10 0h1m19 0h1m20 0h1m23 0h1m8 0h1m28 0h1m2 0h1m87 0h2m23 0h2m7 0h1m9 0h1m4 0h1m4 0h1m26 0h1m21 0h2m8 0h1m1 0h1m19 0h1m11 0h3m17 0h1m25 0h1m21 0h1m10 0h1m7 0h1m9 0h1m6 0h1m5 0h1m8 0h1m25 0h1m2 0h2m-288 4h1m1 0h1m29 0h1m13 0h1m13 0h1m31 0h1m1 0h1m71 0h1m5 0h1m27 0h1m16 0h1m5 0h1m12 0h1m21 0h1m-524 8h2m142 0h1m33 0h1m122 0h1m4 0h1m109 0h1m67 0h1m8 0h1m25 0h1m2 0h1m-753 7h1m43 0h1m14 0h1m1 0h1m63 0h1m113 0h1m60 0h1m29 0h1m36 0h1m5 0h1m8 0h1m10 0h1m4 0h1m74 0h1m129 0h1m4 0h1m87 0h1m52 0h1m-762 1h1m178 0h1m47 0h1m347 0h1m7 0h1m7 0h1m11 0h1m32 0h1m59 0h1m14 0h1m30 0h1m-722 15h1m105 0h1m504 5h1m4 0h1m18 0h1m-407 20h1m9 0h1m18 0h1m37 0h1m12 0h2m33 0h1m51 0h1m77 0h1m-436 4h1m1 0h1m10 0h1m17 0h1m34 0h1m74 0h1m40 0h1m11 0h1m2 0h1m36 0h1m3 0h1m52 0h1m19 0h1m3 0h1m8 0h1m14 0h1m1 0h1m17 0h2m16 0h1m6 0h1m39 0h1m34 0h1m-488 16h1m10 0h1m16 0h1m81 0h1m88 7h1m53 0h2m16 0h1m28 0h1m47 0h1m82 0h1m26 0h1m5 0h1m7 0h1m-140 5h1m15 0h1m61 0h1m12 0h1m5 0h1m13 0h1m1 0h1m-246 14h1m107 0h1m25 0h1m8 0h1m2 0h1m8 0h1m16 0h1m38 0h2m10 0h1m10 0h1m6 0h1m8 0h1m1 0h1m2 0h1m9 0h1m10 0h1m5 0h1m3 0h1m5 0h1m1 0h1m-287 5h1m22 0h1m104 0h1m20 0h1m9 0h1m23 0h1m6 0h1m6 0h2m30 0h1m23 0h1m28 0h1m2 0h1m4 0h1m-518 3h1m35 0h1m135 0h1m-2 6h1m5 0h1m5 0h1m-183 3h1m11 0h1m27 0h1m15 0h1m12 0h1m20 0h1m30 0h2m4 0h1m14 0h1m23 0h2m2 0h1m3 0h1m8 0h1m2 0h1m11 0h1m35 0h1m7 0h1m52 0h2m-305 1h1m2 0h1m68 0h1m6 0h1m64 0h1m37 0h1m18 0h1m24 0h1m22 0h1m1 0h1m47 0h1m-129 2h1m31 0h1m1 0h1m2 0h1m-36 3h1m8 0h1m5 0h1m5 0h1m8 0h1m-38 3h1m23 0h1m4 0h1m13 0h1m2 0h1m2 0h1m1 0h1m-211 1h1m2 0h1m3 0h1m6 0h1m38 0h1m34 0h1m50 0h1m26 0h1m4 0h1m21 0h1m35 0h1m7 0h1m4 0h1m15 0h1m32 0h1m1 0h1m1 0h1m20 0h1m3 0h1m12 0h1m-351 1h1m7 0h1m16 0h1m25 0h1m55 0h1m11 0h1m47 0h1m8 1h1m16 0h1m5 0h1m-165 3h1m35 0h1m357 73h2m-2 1h2m-2 1h2m-2 1h2m-2 1h2m-2 1h2m-2 1h2m-2 1h1m-1 1h1"/>
<path stroke="url(#p9)" d="M.5 0m3 502v1m25-16v1m0 3v1m1-5v1m2-1v1m98 112v1m102-70v1m2-1v1m1 0v1m176 62v1m102 4v2m4-1v1m2-7v1m4 1v1m11-4v3m2 0v2m8-96v21m1-36v16m0 21v41m1-84v19m0 60v5m1-88v6m0 9v4m1-22v5m1-5v6m1-8v10m1-10v11m1-12v9m0 27v12m1-48v6m0 15v4m0 6v19m0 39v3m1-99v3m0 21v20m0 4v10m0 38v3m1-99v3m0 17v17m0 15v8m0 32v9m1-100v3m0 20v17m0 9v9m0 35v7m1-102v2m0 31v23m1-51v5m0 20v23m1-38v41m0 51v1m1-96v40m0 55v1m1-105v11m0 7v6m0 80v1m1-107v2m2-17v2m1 0v1m1 0v2m1 0v3m0 152v4m1-162v1m0 155v6m1-163v1m0 155v7m1-164v1m0 159v4m1-164v2m0 123v1m1-125v2m0 122v1m1-122v1m0 117v1m0 2v1m1-124v2m1-3v2m1-1v2m1 4v1m1 1v2m1-5v17m1 2v4m1-4v6m0 12v19m1-50v16m0 20v16m1-49v9m0 27v10m1-52v3m1-3v3m1 0v4m1-1v3m0 103v1m0 40v1m1-153v2m0 109v1m1-117v1m1 4v1m1-6v1m0 115v1m1-119v2m0 116v1m1-118v2m1 1v3m1-1v9m0 103v1m1-112v9m1-9v2m0 1v3m1-9v3m1-5v2m1-1v2m1-3v1m1 0v2m1 1v3m1-4v2m1-2v3m0 14v19m0 11v12m0 59v1m1-118v3m0 10v36m0 6v15m0 47v1m1-118v4m0 7v17m0 30v9m0 50v1m1-54v10m0 43v1m1-43v4m0 33v1m1-35v3m1-5v3m0 34v1m1-48v8m0 44v1m1-98v25m0 9v9m1-61v8m0 8v6m0 15v19m1-59v3m0 5v16m0 18v18m1-62v2m0 47v10m0 64v1m0 25v7m1-151v2m0 141v8m1-154v1m1 1v1m1-7v1m0 125v1m1-126v1m0 117v1m1-122v1m0 120v1m1-122v1m0 120v1m1-118v2m0 115v1m0 8v1m1-131v1m1-2v1m1 5v1m1-12v2m1 136v1m1-139v1m1-1v1m0 138v1m1-138v1m0 26v3m0 6v14m1-47v3m0 32v13m0 26v12m0 36v1m0 10v1m1-130v2m0 32v7m0 30v11m0 36v1m0 10v1m1-127v3m0 112v1m1-118v7m0 9v3m0 98v1m1-115v36m0 78v1m0 9v1m1-124v13m0 4v10m0 3v9m0 84v1m1-126v38m0 9v3m0 75v1m1-129v5m0 111v1m0 11v1m1-133v3m0 117v1m1-125v2m0 122v1m1-123v1m0 122v1m1-124v2m0 121v1m1-123v1m0 121v1m1-123v2m0 127v1m1-126v1m0 116v1m1-121v2m0 126v1m1-129v1m0 127v1m1-127v1m0 125v1m1-130v2m0 118v1m1-120v2m0 117v1m1-119v2m0 116v1m0 7v1m1-126v2m0 115v1m1-117v3m0 14v24m0 75v1m1-114v4m0 5v20m0 8v15m0 18v22m0 20v1m1-108v19m0 26v8m0 9v20m0 25v1m1-107v22m0 12v17m0 10v13m0 32v1m1-102v45m0 11v11m1-41v25m0 1v16m1-23v23m1-15v7m0 1v9m0 31v1m1-46v3m0 5v11m0 35v1m1-57v6m0 30v10m0 10v1m1-118v23m0 36v15m0 43v1m1-122v2m0 25v19m0 11v8m0 19v9m0 28v1m1-126v2m0 43v16m0 40v16m0 7v1m1-125v2m0 115v1m1-118v2m1 5v1m0 108v1m0 7v1m1-114v1m1-6v2m1-6v2m1-1v2m1-6v1m1-1v1m1-1v2m0 114v1m1-117v1m0 115v1m1-118v2m0 115v1m1-116v2m1-1v1m1-2v2m0 113v1m1-113v2m0 8v4m0 98v1m1-115v2m0 8v7m0 97v1m0 9v1m1-126v2m0 113v1m0 9v1m1-127v2m0 124v1m1-125v1m0 114v1m1-118v2m1-1v2m0 122v1m1-125v2m1-2v2m1-2v2m1-1v2m1-1v2m1-2v2m0 38v7m0 67v1m0 7v1m1-120v1m0 38v4m0 67v1m1-114v2m0 37v10m0 64v2m1-114v3m0 20v45m0 45v1m1-111v40m0 1v32m0 37v1m0 7v1m1-118v82m0 35v1m1-120v28m0 5v54m0 32v1m1-120v4m0 11v7m0 30v13m0 46v1m0 7v1m1-119v3m0 107v1m0 7v1m1-123v4m0 110v1m0 8v1m1-122v4m0 107v1m1-114v4m0 108v2m0 10v1m1-122v4m0 105v1m0 11v1m1-124v3m0 109v1m1-114v2m0 111v1m1-114v3m0 121v1m1-123v3m0 108v2m0 9v1m1-116v4m0 100v2m0 10v1m1-116v22m0 32v8m0 13v3m0 25v1m1-105v25m0 8v5m0 9v34m0 22v2m0 12v1m1-112v6m0 3v7m0 10v50m0 21v2m0 12v1m1-114v3m0 41v19m0 5v9m0 22v2m0 12v1m1-120v3m0 103v1m0 12v1m1-126v2m0 111v1m0 11v1m1-126v3m0 110v1m1-113v3m0 110v1m0 9v1m1-118v3m0 104v1m0 8v1m1-124v3m0 111v1m1-114v2m0 111v1m1-117v3m0 112v1m0 9v1m1-126v2m0 123v1m1-126v3m0 111v1m0 10v1m1-124v2m0 110v1m0 10v1m1-124v1m0 111v1m1-114v3m0 120v1m1-123v3m0 41v6m0 63v1m1-104v4m0 14v8m0 3v11m0 63v1m1-103v3m0 1v1m0 6v28m0 62v1m0 9v1m1-115v46m0 55v4m0 9v1m1-114v50m0 25v3m0 14v11m0 11v1m1-122v13m0 4v39m0 52v2m0 11v1m1-123v6m0 34v13m0 57v1m0 11v1m1-123v5m0 37v8m0 60v1m1-111v5m0 105v1m1-110v4m0 105v1m0 10v1m1-122v4m0 117v1m1-123v4m1-3v4m0 106v1m0 10v1m1-121v5m0 19v8m0 77v1m0 10v1m1-122v5m0 116v1m1-123v4m0 106v1m1-111v4m0 106v1m0 11v1m1-121v4m0 37v3m0 27v5m0 28v5m0 11v1m1-119v5m0 65v5m0 24v8m0 11v1m1-120v4m0 98v7m1-112v4m0 103v5m0 9v1m1-123v4m0 30v25m0 53v1m0 9v1m1-121v3m0 1v2m0 3v47m0 55v1m1-112v5m0 5v46m0 55v1m0 7v1m0 24v11m1-156v4m0 9v7m0 19v14m0 59v2m0 25v6m1-143v2m0 1v3m0 3v7m0 94v2m0 24v5m1-143v5m0 4v12m0 92v1m0 24v4m1-143v26m0 87v1m0 24v5m1-140v29m0 9v5m0 62v6m0 7v1m0 17v5m1-142v43m0 68v1m0 7v1m0 23v6m1-147v36m0 73v1m0 7v1m1-119v36m0 74v1m0 7v1m1-119v28m0 78v5m0 7v1m1-118v22m0 84v4m0 7v1m1-117v20m0 55v19m0 13v1m1-109v25m0 17v5m0 24v27m0 10v1m0 9v1m1-120v1m0 1v99m0 8v1m0 9v1m1-121v7m0 2v19m0 7v33m0 5v25m0 12v1m0 9v1m1-121v4m0 10v8m0 24v3m0 30v7m0 24v1m0 9v1m1-119v3m0 106v1m1-113v4m0 108v1m0 7v1m1-120v3m0 75v8m0 33v1m1-120v3m1-6v4m1-2v4m0 33v6m0 109v3m1-153v44m0 66v1m0 25v17m1-153v45m0 55v9m0 1v1m0 37v6m1-157v5m0 33v5m0 70v1m1-114v3m0 110v1m1-114v3m0 110v1m1-115v4m0 110v1m0 7v1m1-124v3m0 120v1m1-121v3m0 108v1m0 8v1m1-122v3m0 109v1m1-116v3m0 112v1m0 8v1m1-124v2m0 23v9m0 80v1m0 8v1m1-123v3m0 9v22m0 79v1m0 8v1m1-123v2m0 120v1m1-123v3m0 111v1m0 7v1m1-123v2m0 112v1m0 7v1m1-118v28m0 89v1m1-110v26m0 83v1m1-114v33m0 10v6m0 64v1m1-114v34m0 71v1m0 7v1m1-121v39m0 73v1m0 7v1m1-122v1m0 1v2m0 12v22m0 18v4m0 12v6m0 35v1m1-116v4m0 26v12m0 13v27m1-82v4m0 28v10m0 14v10m0 6v9m1-80v4m0 30v5m0 19v4m0 12v5m1-79v4m0 30v5m0 20v2m0 12v7m0 32v1m1-112v8m0 23v9m0 17v4m0 9v11m0 14v7m0 8v2m0 11v1m1-121v38m0 31v8m0 17v7m0 6v2m0 11v1m1-121v37m0 71v1m0 10v1m1-125v3m0 18v19m0 74v1m0 9v1m1-126v3m0 112v1m1-116v2m0 113v1m1-117v2m0 114v1m1-116v2m0 113v1m1-115v2m0 112v1"/>
<path stroke="#0038ff" d="M0 .5m475 242h1m198 0h1m58 0h1m62 0h1m-759 143h1m18 0h1m46 0h1m599 4h1m-662 2h1m13 0h1m12 0h1m33 0h2m33 0h1m10 0h1m12 0h1m14 0h1m4 0h1m25 0h1m38 0h1m18 0h1m2 0h1m14 0h1m4 0h1m9 0h1m16 0h1m13 0h1m5 0h1m2 0h1m3 0h1m34 0h1m10 0h1m17 0h1m10 0h1m2 0h1m54 0h1m3 0h1m27 0h1m2 0h1m3 0h1m9 0h1m6 0h1m12 0h1m4 0h1m1 0h1m9 0h1m1 0h1m32 0h1m23 0h1m2 0h1m10 0h1m13 0h1m15 0h1m13 0h1m14 0h1m4 0h1m23 0h1m3 0h1m20 0h1m1 0h1m3 0h1m10 0h1m10 0h2m25 0h1m-202 4h1m4 0h1m104 0h1m16 0h1m44 0h1m20 0h1m-404 8h1m52 0h1m141 0h1m61 0h1m-563 7h1m3 0h1m74 0h1m10 0h1m67 0h1m8 0h1m5 0h1m412 0h1m-592 1h1m40 0h1m-85 15h1m49 0h1m1 0h1m47 0h1m9 0h1m410 5h1m16 0h1m26 0h1m4 0h1m13 0h1m68 0h1m-452 20h1m3 0h1m32 0h1m37 0h1m108 0h1m23 0h1m-315 4h1m182 0h1m97 0h1m42 0h1m10 0h1m33 0h1m-344 16h1m62 0h1m29 7h1m28 0h1m14 0h1m73 0h1m12 0h1m83 0h1m34 0h2m-156 5h1m22 0h1m59 0h1m-169 14h1m19 0h2m3 0h1m56 0h1m27 0h1m21 0h1m13 0h1m25 0h1m6 0h1m10 0h1m3 0h1m2 0h1m28 0h1m4 0h1m7 0h1m6 0h1m2 0h1m-253 5h1m53 0h1m106 0h1m15 0h2m2 0h1m26 0h1m35 0h1m-386 3h1m8 0h1m44 0h1m15 6h1m-24 3h1m14 0h1m56 0h1m58 0h1m12 0h1m-291 1h2m24 0h1m213 0h1m55 0h1m6 0h1m-103 2h1m-31 3h1m-3 3h1m-154 1h1m13 0h1m121 0h1m9 0h1m1 0h1m6 0h1m1 0h1m36 0h1m15 0h1m18 0h1m60 0h1m-309 1h1m10 0h1m71 0h1m9 0h1m71 0h1m-5 1h1m50 0h2m-207 3h1"/>
<path stroke="url(#p10)" d="M.5 0m9 532v1m3 55v1m228-50v1m4-2v1m144-8v1m1-17v1m0 2v1m0 5v1m1-10v1m0 2v1m0 5v1m1-10v1m1-1v1m0 17v1m2-5v1m1-1v1m66-7v1m1-1v1m1-1v1m1-1v1m1-1v1m1-1v1m7-2v1m1-1v1m1-1v1m1-1v1m0 6v1m1-1v1m10 56v1m24 8v1m2-2v2m1-2v1m0 2v1m0 1v1m4-3v1m26-94v21m1-24v17m0 1v42m0 5v6m0 4v1m1-93v9m0 4v16m0 45v14m1-92v24m1-23v46m1-44v47m1-46v47m0 30v4m1-84v27m0 12v11m0 13v7m0 2v19m1-94v15m0 4v6m0 19v8m0 15v16m0 3v8m1-104v9m0 1v11m0 34v8m0 12v18m0 3v8m1-104v17m0 40v32m0 9v6m1-103v20m0 35v35m0 7v6m1-106v31m0 23v52m1-98v20m0 23v55m1-52v51m0 5v1m1-61v55m0 5v1m1-99v7m0 6v53m0 7v20m0 5v1m1-110v34m0 30v8m0 17v14m0 1v1m2-120v2m1-1v2m1 0v5m0 149v5m1-156v9m0 140v3m1-157v3m0 149v3m1-155v1m0 150v3m1-156v2m0 153v4m1-158v2m0 155v5m1-161v2m1 0v3m1-4v2m1-3v2m1-1v1m1 4v2m1 1v5m1 7v5m1 1v35m1-33v12m0 19v7m0 51v1m1-93v20m0 16v5m0 51v1m1-97v27m0 10v8m0 51v1m1-109v14m0 20v21m1-55v11m0 28v10m1-45v8m0 26v11m0 99v3m1-145v4m0 136v4m1-150v2m0 145v4m1-157v2m0 113v1m1-111v2m0 108v1m1-116v2m1-3v2m1-1v2m1 2v8m1 0v19m1-18v15m0 87v1m1-106v9m1-15v9m1-12v2m1-1v1m1-2v2m0 112v1m1-114v3m1 1v4m0 110v1m1-117v32m0 78v1m0 5v1m1-116v14m0 19v11m0 12v22m0 31v1m1-109v10m0 57v10m1-76v7m0 56v11m1-4v5m1 0v3m1-1v2m0 35v1m1-40v3m0 36v1m1-45v5m1-15v12m1-51v15m0 19v17m1-73v5m0 16v18m0 18v17m0 36v1m0 33v7m1-154v3m0 6v38m0 10v19m0 37v1m0 28v5m1-142v3m0 39v21m0 45v1m0 8v1m0 19v4m1-145v2m0 119v1m0 23v8m1-150v1m0 109v1m0 7v1m1-126v2m1-1v1m1-3v1m0 151v6m1-159v1m0 128v1m0 22v7m1-154v1m0 149v4m1-159v2m0 118v1m1-122v2m0 119v1m0 9v1m1-125v1m0 113v1m1-126v2m0 123v1m0 10v1m1-12v1m0 36v2m1-165v2m0 124v1m0 11v1m0 21v5m1-164v1m0 21v27m0 76v1m1-125v2m0 16v8m0 3v6m0 14v5m0 18v19m0 33v1m0 11v1m1-132v5m0 8v19m0 13v26m0 12v9m0 26v1m1-115v31m0 7v12m0 4v14m0 11v10m0 25v1m1-112v39m0 19v26m0 27v1m0 11v1m1-122v9m0 3v23m1-3v7m0 70v1m1-74v20m0 11v4m0 38v1m1-77v9m0 3v28m0 35v1m1-112v61m1-67v3m0 15v44m0 54v1m0 12v1m1-135v2m0 35v4m0 12v7m0 73v1m1-133v2m1-1v1m0 128v1m1-130v2m0 34v21m1-56v2m0 117v1m1-117v2m1-4v2m0 115v1m1-119v2m0 116v1m1-117v2m0 114v1m1-119v1m0 126v1m1-127v2m0 32v11m1-44v3m0 13v28m1-43v3m0 9v31m0 80v1m1-122v14m0 24v10m0 23v24m1-91v5m0 43v6m0 7v5m0 22v20m1-54v9m0 20v25m0 9v1m1-65v10m0 13v6m0 25v1m0 9v1m1-66v11m0 11v5m0 29v1m1-51v1m0 16v4m0 29v1m1-34v4m0 29v1m1-32v4m0 36v1m1-36v14m0 11v1m1 10v1m1-1v2m1-122v25m0 38v19m0 38v7m1-131v5m0 14v24m0 16v7m0 25v8m1-99v3m0 35v22m0 54v1m1-115v2m0 47v10m0 55v1m0 7v1m1-116v1m0 41v12m1-51v2m0 89v7m0 5v1m1-108v2m0 105v1m1-112v2m0 109v1m1-111v2m0 108v1m1-116v2m0 48v19m0 46v1m1-116v2m0 49v24m0 40v1m0 9v1m1-125v1m0 123v1m1-126v2m0 123v1m1-126v2m0 123v1m1-124v2m0 111v1m1-114v3m0 110v1m1-114v29m0 94v1m1-121v8m0 4v32m0 76v1m1-123v8m0 7v19m0 7v6m1-48v22m1-23v3m0 111v1m1-114v2m0 111v1m0 9v1m1-125v2m0 113v1m1-115v2m0 112v1m1-115v3m0 111v1m0 7v1m1-123v3m1-3v3m0 34v4m0 73v1m1-114v2m0 28v18m0 65v1m0 36v6m1-155v3m0 25v38m0 46v1m0 7v1m1-121v3m0 26v9m0 7v28m0 26v9m0 3v1m1-110v3m0 24v11m0 4v30m0 16v21m0 10v1m1-122v4m0 15v18m0 10v29m0 10v25m0 10v1m1-120v20m0 45v45m0 9v1m1-47v37m0 30v13m1-70v28m0 29v13m1-126v5m0 54v25m0 33v9m1-150v11m0 7v30m0 13v46m0 41v2m1-150v79m0 20v8m0 9v1m1-120v25m0 27v11m0 43v4m1-108v23m0 29v8m0 38v9m0 11v1m1-121v27m0 28v7m0 23v23m0 13v1m1-119v23m0 34v1m0 11v36m0 13v1m1-122v28m0 29v52m0 11v1m1-123v111m0 11v1m1-122v111m1-109v108m0 12v1m1-113v100m0 13v1m1-95v32m0 8v13m0 3v25m0 13v1m0 5v5m1-103v8m0 5v9m0 34v22m0 15v1m0 3v8m1-118v3m0 7v10m0 50v21m0 15v1m0 7v1m1-120v41m0 19v5m0 9v22m0 15v1m1-118v6m0 3v94m0 14v1m1-125v6m0 14v11m0 6v74m0 13v1m1-124v31m0 5v56m0 14v4m0 12v1m1-122v48m0 3v39m0 12v8m1-104v26m0 3v58m0 3v14m1-111v27m0 13v49m0 12v10m0 9v1m1-121v4m0 36v46m0 23v2m0 9v1m1-123v3m0 38v46m0 24v1m1-113v1m0 1v2m0 36v50m0 22v1m0 11v1m1-124v4m0 33v55m0 18v1m0 12v1m1-123v5m0 27v72m0 4v2m0 12v1m1-124v6m0 20v77m0 7v1m0 11v1m1-122v88m0 22v1m1-110v41m0 6v33m0 29v1m0 9v1m1-109v14m0 8v3m0 11v17m0 36v10m0 9v1m1-107v6m0 28v62m0 11v2m0 1v6m1-78v55m0 14v33m1-97v25m0 3v14m0 23v32m1-141v4m0 39v52m0 14v25m1-142v34m0 13v57m0 13v9m1-127v37m0 8v60m0 12v2m1-119v86m0 17v2m0 12v1m1-118v51m0 10v11m0 32v1m0 12v1m1-119v46m0 60v1m1-108v47m0 60v1m0 10v1m1-118v50m0 14v13m0 28v1m0 40v5m1-149v19m0 8v50m0 20v7m0 12v1m0 30v2m1-150v77m0 21v7m0 12v1m1-120v79m0 19v8m0 13v1m1-120v84m0 3v19m0 13v1m0 29v3m1-150v37m0 3v27m0 5v28m0 17v2m0 23v8m1-147v65m0 5v24m0 20v14m0 9v10m1-149v98m0 17v14m0 13v7m1-152v103m0 15v1m0 4v8m0 14v7m1-153v30m0 25v53m0 36v9m1-149v3m0 47v55m0 9v1m0 24v10m1-150v5m0 46v55m0 20v13m1-141v9m0 7v19m0 14v59m0 8v1m0 9v9m1-131v3m0 7v94m0 8v1m0 10v7m1-133v4m0 12v92m0 7v1m0 11v6m1-113v87m0 8v1m0 10v6m1-106v9m0 5v62m0 24v7m1-94v13m0 21v34m0 24v8m1-105v14m0 27v32m0 33v10m1-117v14m0 27v33m0 31v13m1-126v20m0 28v30m0 13v4m0 14v17m1-131v25m0 24v35m0 12v5m0 13v17m1-132v55m0 19v13m0 10v1m0 20v14m1-128v17m0 5v24m0 27v10m0 11v1m0 24v9m1-53v8m0 11v1m0 29v4m1-148v2m0 19v7m0 33v5m0 25v12m0 11v1m1-118v10m0 8v24m0 3v30m0 7v24m0 11v1m0 10v7m1-134v92m0 12v2m0 9v1m0 11v10m0 12v1m1-152v95m0 12v1m0 21v23m1-152v75m0 8v23m0 1v2m0 21v11m0 5v5m1-151v109m0 7v1m0 15v5m1-139v111m0 7v1m0 14v7m0 11v3m1-152v33m0 6v26m0 9v12m0 4v19m0 19v20m1-106v20m0 15v31m0 8v1m0 10v7m1-91v18m0 17v20m0 9v1m0 8v1m0 10v19m1-146v33m0 5v19m0 32v19m0 8v1m0 33v2m1-154v49m0 47v14m0 8v1m1-119v43m0 66v1m0 8v1m1-119v45m0 64v1m1-112v61m0 14v8m0 28v1m1-109v87m0 19v2m0 10v1m1-120v92m0 8v9m0 10v1m0 8v6m1-137v94m0 11v7m0 10v1m0 4v15m0 11v4m1-157v23m0 9v64m0 7v9m0 10v19m1-139v9m0 22v79m0 10v17m1-138v59m0 7v46m0 9v14m1-134v32m0 37v22m0 17v3m1-112v38m0 12v3m0 58v1m1-81v31m0 6v9m0 33v2m0 9v1m0 4v8m1-97v57m0 13v5m0 9v15m1-96v10m0 6v43m0 6v7m0 9v17m1-97v59m0 5v7m0 9v17m1-99v73m0 9v15m1-133v12m0 22v18m0 4v12m0 6v35m0 8v1m1-120v26m0 12v13m0 27v21m0 12v1m0 7v1m1-120v28m0 10v14m0 10v6m0 9v20m0 14v1m0 7v1m1-119v30m0 5v19m0 4v12m0 5v24m0 9v2m0 9v1m1-120v30m0 5v20m0 2v12m0 7v32m0 12v2m0 3v16m1-136v23m0 9v17m0 4v9m0 11v14m0 7v8m0 14v33m1-116v31m0 8v17m0 7v6m0 14v1m0 8v11m1-104v45m0 4v22m0 12v1m1-123v18m0 19v7m0 57v10m1-112v42m0 69v1m0 10v1m0 20v14m1-158v4m0 5v30m0 73v1m0 10v1m0 19v15m1-159v2m0 122v1m0 21v13m1-158v2m0 110v1m0 10v1m1-123v3m0 108v1m0 10v1"/>
<path stroke="#004dff" d="M0 .5m511 389h1m228 0h1m27 0h1m-766 2h1m5 0h1m46 0h1m27 0h1m18 0h1m4 0h1m46 0h1m19 0h1m25 0h1m60 0h1m99 0h1m31 0h1m26 0h1m67 0h1m1 0h2m83 0h1m2 0h1m9 0h1m21 0h2m17 0h1m3 0h1m4 0h1m6 0h1m17 0h1m110 0h1m3 0h1m15 0h1m-297 4h1m16 0h1m17 0h1m156 0h1m67 0h1m38 0h1m-553 8h1m182 0h1m213 0h1m121 0h1m-696 23h1m474 5h1m19 0h1m5 0h1m31 0h1m81 0h1m-418 10h1m53 10h1m129 0h1m-282 4h1m22 0h1m221 0h1m24 0h1m4 0h1m22 0h1m48 0h1m2 0h1m2 0h1m-288 23h1m45 0h1m88 5h1m76 0h1m33 0h1m-84 14h1m30 0h1m4 0h1m51 0h1m39 0h1m-100 5h1m103 0h1m-505 12h1m6 0h1m6 0h1m154 0h1m18 0h1m1 0h1m11 0h2m3 0h1m64 0h1m-99 1h1m11 0h1m97 0h1m11 0h1m1 0h1m18 0h2m-161 5h1m-105 4h1m47 0h1m102 0h1m12 0h2m1 0h1m14 0h2m11 0h2m61 0h1m-278 1h1m48 0h1m61 0h1m30 1h1m6 0h2m-173 3h1m21 0h1m-64 75h1m3 0h2m1 0h1m19 0h3m7 0h1m2 0h1m1 0h2m2 0h1m1 0h2m3 0h1m2 0h1m1 0h1m2 0h1m4 0h1m2 0h1m3 0h2m1 0h2m3 0h1m1 0h2m2 0h1m1 0h1m7 0h1m5 0h6m3 0h1m4 0h2m4 0h2m6 0h1m1 0h1m4 0h2m1 0h1m7 0h2m1 0h1m6 0h1m4 0h3m9 0h1m1 0h2m7 0h2m5 0h3m2 0h3m2 0h1m4 0h1m3 0h1m2 0h1m3 0h1m1 0h1m13 0h1m2 0h2m3 0h2m3 0h6m1 0h1m1 0h2m1 0h3m7 0h1m3 0h1m2 0h1m5 0h1m2 0h2m6 0h2m1 0h1m5 0h1m7 0h1m7 0h1m2 0h4m1 0h1m2 0h1m8 0h2m16 0h1m1 0h1m10 0h1m1 0h2m4 0h1m1 0h1m1 0h1m7 0h3m3 0h1m8 0h2m1 0h3m1 0h2m1 0h1m2 0h1m9 0h1m5 0h1m3 0h3m2 0h1m4 0h1m3 0h1m1 0h3m3 0h1m5 0h1m4 0h1m6 0h1m1 0h1m3 0h1m8 0h1m3 0h2m1 0h1m1 0h1m1 0h1m2 0h1m2 0h1m6 0h1m5 0h1m7 0h1m-534 1h3m1 0h1m1 0h4m3 0h3m1 0h2m3 0h2m1 0h1m1 0h4m1 0h3m1 0h1m2 0h1m1 0h1m3 0h1m1 0h3m1 0h5m2 0h1m2 0h2m2 0h2m1 0h1m3 0h1m1 0h3m4 0h2m4 0h1m1 0h1m4 0h6m2 0h4m2 0h7m2 0h4m1 0h16m1 0h1m1 0h8m1 0h1m4 0h1m4 0h1m2 0h2m1 0h5m3 0h1m3 0h1m1 0h1m1 0h1m1 0h1m1 0h1m1 0h1m3 0h1m3 0h1m1 0h2m3 0h4m1 0h2m2 0h4m1 0h4m1 0h7m1 0h1m1 0h1m2 0h6m1 0h3m1 0h5m1 0h4m1 0h1m3 0h1m1 0h1m1 0h2m1 0h1m3 0h1m3 0h3m1 0h4m3 0h3m2 0h9m1 0h1m1 0h4m1 0h1m1 0h1m2 0h4m1 0h4m1 0h1m2 0h1m1 0h1m3 0h3m4 0h3m2 0h5m5 0h1m2 0h5m1 0h2m1 0h2m1 0h3m1 0h2m1 0h1m2 0h1m1 0h2m5 0h2m4 0h1m2 0h1m1 0h3m2 0h1m1 0h1m3 0h3m1 0h1m2 0h1m1 0h2m1 0h1m1 0h3m1 0h1m1 0h1m1 0h1m2 0h1m1 0h1m1 0h2m1 0h9m1 0h2m1 0h2m4 0h1m1 0h1m1 0h1m2 0h4m1 0h1m1 0h1m2 0h2m2 0h5m1 0h1m1 0h1m1 0h1m1 0h5m2 0h1m2 0h2m5 0h1m1 0h5m1 0h2m3 0h1m6 0h3m-450 1h1m12 0h1m20 0h1m21 0h1m80 0h1m43 0h1m29 0h1m26 0h1m50 0h1m9 0h1m44 0h2m1 0h1m15 0h1m37 0h1m8 0h1m-496 1h11m1 0h4m1 0h2m1 0h3m4 0h2m1 0h1m1 0h6m1 0h3m1 0h2m2 0h1m2 0h1m1 0h1m2 0h1m4 0h1m2 0h5m3 0h3m1 0h2m1 0h6m1 0h1m1 0h2m1 0h1m2 0h1m1 0h3m3 0h3m2 0h4m1 0h1m2 0h4m2 0h1m1 0h2m2 0h3m7 0h1m1 0h1m2 0h1m2 0h1m1 0h2m1 0h2m2 0h3m1 0h9m1 0h1m2 0h2m1 0h1m1 0h1m1 0h7m1 0h1m3 0h1m1 0h1m2 0h1m1 0h6m2 0h1m1 0h2m2 0h4m2 0h3m1 0h6m2 0h3m1 0h1m2 0h4m2 0h3m4 0h1m1 0h1m1 0h1m1 0h2m1 0h1m1 0h1m10 0h2m2 0h3m1 0h1m1 0h4m1 0h1m7 0h1m3 0h8m10 0h1m3 0h3m1 0h2m2 0h1m1 0h6m1 0h4m1 0h6m1 0h2m1 0h2m1 0h7m1 0h1m1 0h2m2 0h4m1 0h1m5 0h1m2 0h4m3 0h6m3 0h2m2 0h2m2 0h1m4 0h7m1 0h2m3 0h3m2 0h1m1 0h3m3 0h2m1 0h1m1 0h5m1 0h1m1 0h1m1 0h4m1 0h1m3 0h2m1 0h7m1 0h2m1 0h7m1 0h2m1 0h1m2 0h3m4 0h1m2 0h1m1 0h1m1 0h4m1 0h1m1 0h1m1 0h1m2 0h2m1 0h1m1 0h3m4 0h2m1 0h2m-525 1h1m2 0h1m2 0h2m4 0h1m2 0h1m1 0h1m6 0h1m4 0h1m6 0h1m3 0h1m8 0h1m5 0h1m1 0h1m1 0h1m4 0h1m4 0h2m5 0h1m1 0h2m11 0h2m1 0h1m1 0h1m4 0h1m2 0h1m3 0h2m8 0h1m1 0h1m3 0h1m1 0h1m1 0h1m4 0h1m1 0h1m1 0h2m6 0h3m2 0h1m10 0h1m1 0h2m3 0h1m1 0h2m1 0h2m5 0h2m1 0h1m3 0h3m1 0h1m1 0h1m1 0h1m3 0h1m3 0h2m3 0h1m3 0h2m3 0h1m6 0h1m5 0h1m2 0h1m6 0h1m5 0h1m2 0h1m1 0h1m2 0h1m5 0h1m1 0h1m3 0h1m5 0h1m6 0h2m1 0h1m1 0h2m2 0h1m2 0h1m10 0h1m1 0h1m1 0h1m2 0h1m12 0h1m12 0h1m1 0h2m7 0h1m2 0h1m4 0h1m4 0h1m2 0h1m1 0h1m1 0h1m14 0h2m1 0h4m1 0h1m2 0h3m5 0h1m1 0h2m2 0h1m5 0h3m2 0h3m1 0h1m3 0h2m2 0h1m4 0h2m19 0h1m9 0h3m2 0h1m1 0h1m3 0h1m10 0h1m1 0h1m3 0h1m14 0h1m1 0h1m2 0h1m12 0h1"/>
<path stroke="url(#p11)" d="M.5 0m545 518v1m0 58v9m1-73v45m0 18v10m0 3v7m1-92v27m0 28v13m0 4v1m1-50v7m0 26v8m0 3v1m1-42v20m0 7v15m0 4v1m1-46v30m0 4v7m0 4v1m1-46v13m0 7v2m0 23v5m1-51v15m0 31v3m1-48v12m0 33v1m1-1v6m1-6v9m1-9v9m1-9v9m1-8v8m1-8v8m1-41v7m1-50v30m0 8v17m0 14v1m0 5v1m2-123v2m1-1v7m0 33v7m0 108v4m1-154v14m0 17v9m0 106v3m1-142v12m0 6v14m0 105v3m1-151v18m0 128v3m1-151v2m0 146v2m1-151v2m0 147v4m1-151v1m0 147v6m1-154v18m0 33v20m0 81v7m1-156v16m0 35v15m1-68v4m1-5v3m1-3v3m1 3v2m1 4v11m1 1v34m1 2v5m0 51v1m1-52v3m0 53v1m1-57v3m0 53v1m0 34v3m1-94v3m0 53v1m0 33v4m1-137v20m0 21v5m0 48v1m0 39v3m1-140v28m0 10v10m0 89v3m1-139v26m0 11v10m0 86v3m1-138v45m0 88v3m1-144v6m0 136v3m1-151v3m0 150v2m1-150v3m1-8v3m1-4v3m1-2v10m0 12v9m0 86v1m1-108v23m0 84v1m1-89v7m0 81v1m0 30v7m1-129v8m0 83v1m0 28v9m1-138v12m0 84v1m0 36v3m1-142v9m0 47v2m1-67v6m0 58v4m1-69v3m0 113v1m1-117v3m1-1v6m1-1v20m0 48v2m0 34v1m1-79v49m1-2v5m1-5v4m0 27v1m1-34v4m0 29v1m1-33v3m1 0v3m0 33v1m1-36v3m0 26v1m1-31v3m1-6v3m0 31v1m1-38v5m1-5v6m0 20v3m0 8v1m1-37v5m0 18v8m0 33v6m1-144v6m0 67v5m0 24v2m0 5v1m0 24v5m1-134v39m0 21v11m0 33v1m0 24v5m1-139v3m0 5v11m0 28v7m0 56v1m0 28v4m1-141v3m0 5v4m0 130v7m1-155v2m0 113v1m0 35v4m1-155v2m0 113v1m0 8v1m0 24v6m1-157v2m0 115v1m0 9v1m0 19v4m1-152v1m0 58v21m0 38v1m0 27v5m1-146v2m0 46v31m0 34v1m0 30v5m1-153v1m0 57v21m0 75v3m1-158v2m1 4v2m1-12v2m1-6v2m0 137v1m0 16v8m1-161v2m0 20v7m0 10v6m0 78v1m0 24v10m1-158v2m0 13v6m0 27v4m0 68v4m0 13v1m0 12v13m1-161v16m0 36v18m0 19v8m0 11v14m1-114v8m0 79v26m0 13v1m1-78v4m0 35v25m0 13v1m1-86v19m0 26v27m1-74v15m0 1v34m0 12v4m0 8v1m0 11v1m1-83v42m1-25v11m0 4v10m0 27v1m1-36v9m1-24v20m0 29v1m1-114v15m0 44v8m0 45v1m1-119v3m0 18v14m0 4v12m0 7v7m0 54v1m1-119v2m0 23v34m0 60v1m0 9v1m1-130v2m0 23v35m1-59v2m0 20v12m0 21v8m0 55v1m0 8v1m1-127v2m0 20v39m0 31v11m0 12v2m0 9v1m1-124v3m0 85v26m0 9v1m1-126v3m0 90v11m0 6v5m0 10v1m1-127v3m0 32v7m0 84v1m1-125v1m0 30v12m1-46v2m0 26v24m0 64v1m1-115v2m0 12v18m0 11v11m0 60v1m0 9v1m1-123v6m0 1v6m0 28v11m1-51v9m0 31v11m0 18v23m1-45v7m0 12v4m0 24v14m0 2v2m0 8v1m1-64v7m0 56v1m0 31v2m2-69v9m0 5v11m1-28v5m0 23v1m0 9v1m1-39v4m0 34v1m1-39v5m0 33v1m1-37v7m0 19v1m1-12v11m0 11v1m1 0v2m1-1v14m1-9v9m1-135v14m0 47v25m0 32v11m1-131v35m0 22v7m0 26v21m0 8v1m1-121v5m0 22v20m0 10v7m0 32v12m0 3v1m1-106v3m0 22v16m0 12v10m0 21v22m1-102v3m0 24v38m0 10v14m0 7v5m0 10v1m1-116v3m0 38v15m0 28v21m0 10v1m1-120v4m0 43v10m0 35v14m0 2v1m0 10v1m1-119v5m0 34v27m0 23v19m0 10v1m1-124v3m0 14v10m0 8v13m0 19v12m0 16v18m0 10v1m1-124v4m0 33v12m0 24v8m0 20v9m0 2v1m1-113v4m0 42v34m0 32v1m1-113v3m0 59v12m0 38v1m1-113v3m0 109v1m1-111v17m0 104v1m1-121v29m0 10v6m0 64v1m0 10v1m1-95v37m0 46v1m1-66v23m0 42v1m1-78v7m0 6v28m0 36v1m0 11v1m1-103v56m0 34v1m0 11v1m1-123v17m0 23v11m0 7v11m0 41v1m1-111v5m1-6v15m0 97v1m0 9v1m1-122v20m1-19v19m0 8v8m1-35v19m0 5v18m0 69v1m0 7v1m1-120v34m0 4v13m0 42v16m0 1v1m0 8v1m0 24v10m1-154v28m0 18v28m0 13v24m0 8v1m0 21v7m1-146v25m0 38v46m0 32v11m1-152v7m0 2v17m0 44v26m0 9v3m0 10v1m1-117v24m0 45v16m0 32v3m1-121v15m0 57v10m0 36v7m0 6v20m1-33v33m1-34v21m1-21v21m1-21v25m1-25v32m1-69v20m0 18v33m1-128v27m0 11v43m0 14v33m1-128v29m0 8v38m0 21v32m1-126v28m0 7v23m0 37v31m1-127v34m0 1v11m0 50v31m1-125v29m0 64v18m0 2v12m1-32v1m0 4v7m0 16v4m1-32v14m1-13v16m0 13v2m1-30v30m1-30v5m0 5v20m1-29v3m0 8v18m1-29v7m0 1v21m1-29v29m1-141v3m0 109v1m0 3v11m0 3v11m1-148v14m0 11v6m0 88v1m0 21v7m1-122v5m0 56v14m0 17v1m0 25v4m1-104v3m0 39v12m0 19v1m1-90v3m0 58v3m0 24v1m1-95v13m0 49v12m0 20v1m1-118v36m0 46v23m0 12v1m0 5v4m1-130v38m0 46v24m0 12v2m0 1v17m1-140v36m0 50v22m0 13v31m1-151v33m0 55v18m0 14v31m1-149v27m0 72v4m0 15v31m1-149v20m0 77v7m0 13v32m1-66v22m0 11v2m0 4v26m1-72v29m0 11v1m0 2v29m1-88v36m0 20v33m1-31v1m0 6v24m3-7v7m1-23v23m1-31v31m1-64v17m0 15v32m1-99v10m0 11v32m0 14v32m1-105v60m0 12v33m1-105v60m0 12v2m0 1v30m1-101v14m0 13v28m0 13v28m1-67v20m0 20v30m1-71v21m0 20v1m0 13v18m1-73v19m0 22v2m0 14v16m1-68v3m0 33v29m1-28v23m1-11v9m1-10v13m1-26v4m0 8v14m1-27v25m1-25v24m1-25v11m1-11v9m1-9v10m1-10v11m1-11v10m1-10v10m1-74v21m0 43v15m1-83v27m0 41v24m1-93v27m0 42v22m1-93v28m0 47v14m1-89v24m0 52v13m1-17v20m1-19v24m1-24v29m1-29v33m1-33v10m0 7v16m1-58v12m0 12v11m0 10v12m1-56v12m0 10v12m1-23v1m0 10v13m0 11v5m1-29v15m0 5v14m1-34v14m0 7v11m1-84v9m0 12v4m0 26v12m1-66v15m0 40v10m1-66v17m0 39v10m1-70v32m0 28v33m1-103v47m0 23v1m0 6v28m1-111v66m0 10v1m0 9v10m0 11v4m1-109v64m0 10v1m0 7v15m0 6v6m1-95v14m0 8v28m0 10v1m0 5v29m1-66v19m0 13v34m1-62v8m0 20v8m0 6v20m1-63v11m0 18v4m0 15v11m1-57v7m0 38v16m1-18v18m1-97v7m0 69v21m1-123v37m0 22v17m0 12v22m0 5v8m1-118v12m0 3v58m0 10v35m1-94v6m0 9v33m0 12v4m0 8v22m1-62v13m0 29v20m1-57v6m0 33v17m1-55v5m0 33v17m1-19v20m1-35v21m1-42v12m0 9v1m1-24v14m0 9v1m1-21v9m0 12v24m0 6v4m1-32v3m0 16v13m2-32v8m0 11v12m1-71v4m0 35v25m1-104v57m0 21v1m0 10v23m1-115v40m0 9v20m0 12v1m0 9v10m1-140v5m0 30v8m0 24v8m0 18v15m0 12v1m0 9v9m1-142v43m0 28v6m0 23v12m0 11v1m0 11v9m1-143v40m0 25v13m0 19v13m0 12v1m0 13v20m1-154v38m0 15v25m0 14v16m0 12v1m0 13v20"/>
<path stroke="#0061ff" d="M0 .5m46 385h1m36 0h1m573 4h1m10 0h1m31 0h2m-685 2h1m7 0h1m32 0h1m61 0h1m3 0h1m54 0h1m2 0h1m30 0h1m4 0h1m70 0h1m48 0h1m7 0h1m26 0h1m102 0h1m46 0h1m6 0h1m8 0h1m32 0h1m1 0h1m83 0h1m9 0h1m3 0h1m63 0h1m21 0h1m12 0h1m8 0h1m-124 4h1m135 0h1m-523 8h1m62 0h1m110 0h1m140 0h1m20 0h1m29 0h1m14 0h1m40 0h1m33 0h1m17 0h1m16 0h1m-182 28h1m5 0h1m44 0h2m-275 20h1m1 0h1m7 0h2m14 0h1m30 0h1m50 0h1m9 0h1m21 0h2m-369 4h1m134 0h1m138 0h1m13 0h1m27 0h1m23 0h1m60 0h1m-163 23h1m60 0h1m17 0h1m57 0h1m-19 5h1m19 0h1m-221 14h1m181 0h1m52 0h1m4 0h1m-153 5h1m15 0h1m-388 12h1m1 0h1m14 0h1m17 0h1m1 0h1m20 0h1m46 0h1m49 0h1m14 0h1m1 0h1m1 0h1m18 0h1m22 0h1m25 0h1m10 0h2m4 0h2m11 0h1m1 0h1m13 0h1m25 0h2m-85 3h1m-41 3h1m12 0h1m26 0h1m-40 3h1m11 0h1m-157 1h1m16 0h1m19 0h1m14 0h1m4 0h1m68 0h1m53 0h1m25 0h1m22 0h1m13 0h1m44 0h1m5 0h1m7 0h1m-162 2h1m-18 76h2m107 0h1m40 0h1m32 0h1m25 0h1m52 0h1m-348 1h1m107 0h1m73 0h1m10 0h1m66 0h1m76 0h1m1 0h1m-434 1h1m1 0h2m5 0h3m2 0h2m1 0h10m4 0h6m2 0h2m1 0h1m2 0h2m1 0h1m2 0h1m1 0h1m2 0h1m1 0h1m1 0h2m1 0h3m2 0h2m1 0h3m2 0h1m2 0h3m1 0h1m2 0h2m1 0h1m1 0h2m1 0h4m1 0h5m6 0h3m1 0h4m2 0h4m2 0h6m1 0h1m1 0h4m2 0h1m1 0h3m1 0h3m2 0h1m2 0h5m1 0h4m3 0h4m1 0h1m1 0h2m1 0h1m2 0h4m2 0h1m2 0h2m1 0h2m3 0h2m3 0h1m2 0h2m4 0h2m1 0h2m1 0h3m1 0h1m2 0h1m1 0h2m1 0h1m4 0h2m1 0h2m3 0h2m3 0h1m7 0h1m1 0h1m2 0h1m3 0h5m3 0h1m1 0h1m1 0h2m1 0h5m1 0h2m2 0h3m1 0h2m2 0h1m2 0h4m1 0h6m2 0h5m1 0h1m1 0h2m4 0h1m2 0h1m1 0h5m1 0h2m2 0h4m1 0h2m1 0h5m1 0h2m1 0h1m1 0h3m1 0h5m2 0h1m2 0h1m1 0h2m1 0h1m4 0h6m3 0h3m1 0h1m2 0h5m12 0h1m1 0h4m1 0h2m3 0h3m3 0h3m3 0h2m1 0h4m2 0h2m1 0h1m3 0h3m1 0h5m1 0h4m1 0h3m1 0h1m2 0h1m2 0h2m1 0h5m2 0h1m2 0h2m4 0h1m1 0h1m1 0h2m1 0h2m3 0h4m1 0h5m1 0h7m1 0h1m-532 1h1m1 0h1m4 0h3m3 0h1m2 0h3m2 0h1m1 0h1m4 0h1m3 0h1m1 0h2m1 0h1m1 0h3m1 0h1m3 0h1m5 0h2m1 0h2m2 0h2m2 0h1m1 0h3m1 0h1m3 0h4m2 0h4m1 0h1m1 0h4m6 0h2m4 0h2m7 0h2m4 0h1m16 0h1m1 0h1m8 0h1m1 0h4m1 0h4m1 0h2m2 0h1m5 0h3m1 0h3m1 0h1m1 0h1m1 0h1m1 0h1m1 0h1m1 0h3m1 0h3m1 0h1m2 0h3m4 0h1m2 0h2m4 0h1m4 0h1m7 0h1m1 0h1m1 0h2m6 0h1m3 0h1m5 0h1m4 0h1m1 0h3m1 0h1m1 0h1m2 0h1m1 0h3m1 0h3m3 0h1m4 0h3m3 0h2m9 0h1m1 0h1m4 0h1m1 0h1m1 0h2m4 0h1m4 0h1m1 0h2m1 0h1m1 0h3m3 0h4m3 0h2m5 0h5m1 0h2m5 0h1m2 0h1m2 0h1m3 0h1m2 0h1m1 0h2m1 0h1m2 0h5m2 0h4m1 0h2m1 0h1m3 0h2m1 0h1m1 0h3m3 0h1m1 0h2m1 0h1m2 0h1m1 0h1m3 0h1m1 0h1m1 0h1m4 0h1m1 0h1m2 0h1m9 0h1m2 0h1m2 0h4m1 0h1m1 0h1m1 0h2m4 0h1m1 0h1m1 0h2m2 0h2m5 0h1m1 0h1m1 0h1m1 0h1m5 0h2m1 0h2m2 0h5m1 0h1m5 0h1m2 0h3m1 0h6m-531 1h1m69 0h2m4 0h2m5 0h1m6 0h1m3 0h1m26 0h1m1 0h1m13 0h2m10 0h1m16 0h1m11 0h1m3 0h1m49 0h2m78 0h1m67 0h2m5 0h1m56 0h1m28 0h1m3 0h1m6 0h1m35 0h1m12 0h1m-524 1h1m4 0h1m2 0h1m3 0h4m2 0h1m1 0h1m6 0h1m3 0h1m2 0h2m1 0h2m1 0h1m1 0h2m1 0h4m1 0h2m5 0h3m3 0h1m2 0h1m6 0h1m1 0h1m2 0h1m1 0h2m1 0h1m3 0h3m3 0h2m4 0h1m1 0h2m4 0h2m1 0h1m2 0h2m3 0h7m1 0h1m1 0h2m1 0h2m1 0h1m2 0h1m2 0h2m3 0h1m9 0h1m1 0h2m2 0h1m1 0h1m1 0h1m7 0h1m1 0h3m1 0h1m1 0h2m1 0h1m6 0h2m1 0h1m2 0h2m4 0h2m3 0h1m6 0h2m3 0h1m1 0h2m4 0h2m3 0h4m1 0h1m1 0h1m1 0h1m2 0h1m1 0h1m1 0h1m11 0h2m3 0h1m1 0h1m4 0h1m1 0h7m1 0h3m8 0h10m1 0h3m3 0h1m2 0h2m1 0h1m6 0h1m4 0h1m6 0h1m2 0h1m2 0h1m7 0h1m1 0h1m2 0h2m4 0h1m1 0h5m1 0h2m4 0h3m6 0h3m2 0h2m2 0h2m1 0h4m7 0h1m2 0h3m3 0h2m1 0h1m5 0h1m2 0h1m1 0h1m5 0h1m1 0h1m1 0h1m4 0h1m1 0h3m2 0h1m7 0h1m2 0h1m7 0h1m2 0h1m1 0h2m3 0h4m1 0h2m1 0h1m1 0h1m4 0h1m1 0h1m1 0h1m1 0h2m2 0h1m1 0h1m3 0h4m2 0h1m2 0h3m-532 1h3m3 0h1m5 0h4m2 0h1m3 0h6m2 0h1m1 0h1m1 0h1m1 0h3m2 0h1m3 0h2m4 0h2m3 0h3m6 0h3m1 0h1m5 0h1m2 0h2m6 0h4m1 0h1m5 0h1m1 0h1m1 0h2m1 0h1m1 0h2m1 0h2m3 0h1m1 0h1m2 0h2m4 0h1m8 0h1m1 0h1m3 0h1m3 0h2m6 0h2m1 0h1m2 0h1m4 0h2m1 0h1m2 0h2m5 0h1m4 0h1m1 0h1m2 0h1m1 0h3m3 0h1m1 0h1m3 0h3m1 0h2m4 0h1m2 0h1m5 0h2m1 0h2m2 0h2m2 0h2m3 0h1m2 0h2m6 0h2m1 0h1m1 0h2m1 0h1m1 0h1m3 0h3m2 0h1m1 0h2m8 0h4m1 0h1m7 0h2m2 0h1m1 0h3m1 0h2m1 0h1m1 0h1m1 0h1m3 0h2m2 0h1m5 0h2m2 0h1m1 0h2m3 0h5m1 0h1m1 0h1m2 0h1m1 0h1m3 0h1m1 0h2m2 0h2m3 0h3m1 0h1m2 0h1m3 0h3m1 0h1m1 0h2m1 0h1m3 0h1m2 0h1m4 0h1m1 0h2m3 0h5m1 0h1m6 0h3m4 0h1m8 0h1m5 0h2m1 0h1m2 0h1m1 0h2m3 0h5m1 0h2m1 0h2m2 0h1m1 0h4m6 0h1m4 0h3m1 0h4m1 0h5m1 0h1m2 0h1m2 0h1m2 0h1m1 0h1m1 0h5m1 0h1m3 0h1m2 0h2m2 0h1m1 0h1m1 0h1m4 0h1"/>
<path stroke="url(#p12)" d="M.5 0m546 586v3m0 7v10m1-75v28m0 18v19m1-62v26m0 8v3m0 5v17m1-43v7m0 20v20m1-20v27m1-23v33m1-35v35m1-37v11m1-6v8m1-5v5m1-5v5m1-5v4m1-4v6m1-6v6m0 16v7m1-37v13m0 18v6m1-37v10m2-131v14m0 14v51m1-73v16m0 5v12m0 7v27m0 77v4m1-136v17m0 9v22m0 81v3m1-127v6m0 14v20m0 52v1m0 29v3m1-130v31m0 6v8m0 52v1m0 27v3m1-146v18m0 14v10m0 73v1m0 27v3m1-147v3m0 33v4m0 76v1m0 27v3m1-146v21m0 10v40m0 32v13m0 27v4m1-130v33m0 20v24m0 1v21m0 28v7m1-133v35m0 15v21m0 12v15m0 39v3m1-154v1m0 1v20m0 4v40m1-68v23m0 5v17m0 2v15m1-62v21m0 10v8m1-33v15m1-1v36m1-1v7m1 0v4m0 52v1m1-54v3m0 86v2m1-91v3m0 82v3m1-88v3m0 81v3m1-87v3m0 50v1m0 31v3m1-89v4m0 20v15m0 10v1m0 35v4m1-89v4m0 18v20m0 5v3m0 21v15m1-90v7m0 20v16m0 10v1m0 21v13m1-135v45m0 80v11m1-145v8m0 138v4m1-145v3m1-8v8m0 11v9m1-29v33m0 82v1m1-108v2m0 1v9m0 9v7m0 9v3m0 12v9m1-38v23m0 2v14m1-36v19m0 5v11m0 68v9m1-114v17m0 11v9m0 67v8m1-117v7m0 25v14m0 42v1m0 24v8m0 3v2m1-135v13m0 24v10m0 2v18m0 26v1m0 35v4m1-145v7m0 32v19m0 4v15m1-81v5m0 37v37m0 30v1m1-110v6m0 35v38m1-74v11m0 25v39m0 28v1m0 5v1m1-91v48m0 2v9m1-4v7m1-4v9m1-10v5m1-7v3m1-3v3m0 26v1m1-27v4m0 22v1m1-26v6m0 55v6m1-68v5m1-8v3m0 18v1m1-23v4m0 11v14m0 3v1m0 5v1m1-38v20m0 3v8m0 7v1m0 27v5m1-71v18m0 8v5m0 8v1m0 13v6m1-60v7m0 3v14m0 2v5m0 10v1m0 8v6m1-58v5m0 11v17m0 11v1m0 8v5m1-131v5m0 11v28m0 7v24m0 16v16m0 10v1m0 13v5m1-134v5m0 4v23m0 5v31m0 26v12m0 29v4m1-146v2m0 6v12m0 30v18m0 77v4m1-149v2m0 57v9m0 75v4m1-149v1m0 54v26m0 33v1m0 25v5m1-147v2m0 49v7m0 21v9m0 21v8m0 11v1m0 10v6m1-139v2m0 24v20m0 31v8m0 17v9m0 11v1m0 13v6m1-147v3m0 12v8m0 5v29m0 21v13m0 25v1m0 10v1m0 20v5m1-153v1m0 30v11m0 22v25m0 27v1m1-111v2m0 25v7m0 76v1m0 11v1m1-133v1m0 37v5m0 77v1m0 12v1m0 17v9m1-164v1m0 23v5m0 11v8m0 76v1m0 22v7m1-150v2m0 10v7m0 7v10m0 6v5m0 65v8m0 14v2m0 2v7m1-146v13m0 37v7m0 6v32m0 12v11m0 18v12m1-51v11m0 27v2m0 10v5m0 5v4m1-26v1m2-2v1m1-73v1m0 34v12m0 4v8m1-28v28m0 12v1m1-41v9m0 2v11m0 3v2m0 13v1m1-40v20m0 4v2m0 13v1m1-44v29m0 14v1m1-61v45m0 15v1m1-131v6m0 1v11m0 44v7m0 41v6m0 13v1m1-130v2m0 14v7m0 34v6m0 52v2m1-117v3m0 13v7m0 35v7m0 28v10m0 12v3m1-117v3m0 10v7m0 41v55m1-115v20m0 39v31m0 11v12m1-109v85m0 36v1m1-124v90m0 11v6m1-108v4m0 9v19m0 7v13m0 37v24m1-113v3m0 12v15m0 12v9m0 61v1m0 10v1m1-126v3m0 12v11m0 24v6m0 57v1m0 11v1m1-124v12m0 40v26m0 33v1m1-60v9m0 1v33m0 17v1m0 9v1m1-71v6m0 6v6m0 23v10m0 9v1m1-58v12m0 42v2m1 11v31m1-31v33m1-60v5m0 22v22m0 7v1m1-64v7m0 5v11m0 11v1m0 4v12m1-52v6m0 18v1m1-24v6m0 17v1m1-20v10m0 8v1m1 12v1m1 1v20m1-7v17m1-17v13m1-19v14m1-81v26m1-86v22m0 37v11m0 10v11m0 12v3m1-102v22m0 38v21m0 31v1m1-109v24m0 38v10m0 37v1m1-114v38m0 15v28m1-84v43m0 10v19m0 7v9m0 14v2m1-102v34m0 27v23m1-91v14m0 10v8m0 44v16m1-91v33m0 44v20m0 9v2m0 12v1m1-121v25m0 3v14m0 34v32m0 12v1m1-122v23m0 15v21m0 12v38m0 12v1m1-122v25m0 17v2m0 9v21m0 23v10m0 1v1m1-93v53m0 40v1m1-81v10m0 6v25m0 29v10m1-46v9m0 22v15m0 12v1m1-55v9m0 9v24m0 12v1m0 7v6m0 11v8m1-81v36m0 36v9m1-79v34m0 38v7m1-138v23m0 11v7m0 11v41m0 12v1m1-118v73m0 11v22m0 11v1m1-109v62m1-56v31m0 13v10m0 37v1m0 9v1m1-102v8m0 8v13m0 43v16m0 3v1m1-92v5m0 18v31m0 15v23m0 32v11m1-103v29m0 3v10m0 16v1m0 27v7m1-70v13m0 33v1m0 13v7m1-21v3m0 11v9m1-134v2m0 110v8m0 4v21m1-30v30m1-26v6m11 6v2m1-19v4m0 7v16m1-14v18m1-15v13m6-26v3m0 11v3m1-17v21m1-22v25m1-26v30m1-31v31m1-31v31m1-31v5m0 4v22m1-30v1m0 17v12m5-31v4m1-5v2m11-1v1m3-1v13m1-12v14m33-18v6m1-6v9m0 10v11m1-30v7m0 15v6m1-28v5m7 16v5m7-6v14m1-34v34m1-34v34m1-10v6m4-4v7m1-32v10m1-52v9m0 33v9m1-87v24m0 8v18m0 28v9m1-90v28m0 6v23m0 24v11m1-94v25m0 13v19m0 26v13m1-96v15m0 25v14m0 29v13"/>
<path stroke="#0075ff" d="M0 .5m37 385h1m59 0h1m471 4h1m166 0h1m-730 2h1m6 0h1m73 0h1m24 0h1m4 0h1m34 0h1m18 0h1m30 0h1m8 0h1m9 0h1m26 0h1m77 0h1m13 0h1m1 0h1m1 0h1m17 0h1m2 0h1m20 0h1m127 0h1m55 0h1m90 0h1m4 0h1m25 0h1m2 0h1m4 0h1m21 0h1m15 0h1m20 0h2m38 0h1m-253 4h1m131 0h1m7 0h1m27 0h1m14 0h1m2 0h1m39 0h1m26 0h1m1 0h1m-446 8h1m73 0h1m121 0h1m49 0h1m39 0h1m23 0h1m48 0h2m6 0h1m51 0h1m-224 28h1m28 0h1m37 0h1m9 0h1m33 0h1m36 0h1m-439 10h1m44 0h1m-53 10h1m31 0h2m46 0h1m46 0h1m4 0h1m34 0h1m18 0h1m5 0h1m1 0h1m63 0h1m-135 4h2m1 0h1m104 0h1m-241 23h1m32 0h1m113 5h1m71 0h1m-163 14h1m38 0h1m65 0h1m71 0h1m32 0h1m-260 5h1m223 0h1m13 0h1m36 0h1m-454 3h1m49 0h1m-128 9h1m7 0h1m14 0h1m12 0h1m2 0h1m69 0h1m49 0h1m4 0h1m16 0h1m34 0h1m15 0h1m28 0h1m16 0h1m23 0h1m1 0h1m5 0h1m3 0h1m12 0h1m6 0h1m-141 9h1m-123 1h1m9 0h1m13 0h1m4 0h1m17 0h1m7 0h1m15 0h1m14 0h1m13 0h1m155 0h1m4 0h1m16 0h1m9 0h1m-163 2h1m4 0h1m-148 3h1m15 0h1m-44 73h1m44 0h1m13 0h1m91 0h1m20 0h1m4 0h1m181 0h1m46 0h1m11 0h1m-387 1h1m16 0h1m8 0h1m11 0h1m51 0h1m1 0h1m56 0h1m51 0h1m9 0h2m7 0h1m111 0h1m3 0h1m12 0h1m34 0h1m20 0h1m9 0h1m14 0h1m-490 1h1m2 0h1m4 0h2m2 0h1m10 0h1m9 0h1m14 0h1m2 0h1m10 0h1m26 0h1m52 0h1m7 0h1m17 0h1m1 0h1m10 0h2m5 0h1m11 0h1m3 0h2m1 0h1m12 0h1m1 0h1m2 0h1m1 0h4m7 0h1m4 0h1m1 0h1m20 0h2m2 0h1m18 0h1m6 0h1m11 0h1m6 0h1m10 0h1m7 0h1m8 0h1m2 0h1m5 0h1m8 0h1m5 0h1m5 0h1m5 0h1m1 0h1m14 0h2m7 0h1m3 0h1m2 0h1m1 0h1m6 0h1m2 0h2m21 0h1m25 0h1m1 0h1m3 0h1m8 0h2m2 0h1m4 0h1m11 0h2m-509 2h1m3 0h1m10 0h1m59 0h1m4 0h1m3 0h1m8 0h1m20 0h1m25 0h1m31 0h1m7 0h1m36 0h1m43 0h1m8 0h1m3 0h1m56 0h1m4 0h1m10 0h1m5 0h1m1 0h1m4 0h1m11 0h1m13 0h1m38 0h1m40 0h2m1 0h1m3 0h1m7 0h2m42 0h1m-532 2h3m3 0h1m1 0h1m2 0h2m7 0h1m2 0h1m8 0h1m1 0h1m3 0h1m3 0h1m2 0h2m3 0h4m3 0h2m4 0h1m1 0h1m1 0h1m5 0h3m3 0h2m3 0h1m2 0h2m4 0h1m1 0h3m8 0h1m7 0h1m3 0h1m1 0h2m2 0h1m1 0h1m2 0h2m1 0h1m1 0h1m1 0h1m1 0h1m2 0h1m4 0h1m2 0h3m7 0h2m13 0h1m1 0h1m5 0h2m1 0h1m15 0h1m7 0h1m2 0h1m1 0h1m2 0h2m2 0h1m5 0h2m3 0h1m2 0h2m2 0h1m3 0h4m1 0h1m2 0h1m8 0h1m1 0h1m3 0h1m5 0h1m1 0h5m5 0h1m3 0h1m1 0h1m5 0h1m8 0h1m1 0h1m4 0h1m4 0h1m1 0h5m2 0h2m4 0h3m5 0h1m6 0h1m1 0h3m5 0h1m2 0h1m1 0h1m5 0h1m3 0h1m4 0h1m1 0h1m2 0h1m1 0h3m24 0h2m1 0h1m3 0h1m4 0h1m3 0h1m1 0h2m8 0h1m4 0h1m2 0h3m5 0h1m2 0h1m2 0h1m2 0h1m4 0h3m4 0h1m1 0h1m9 0h1m8 0h1m1 0h1m2 0h2m1 0h1m1 0h1m5 0h1m2 0h1m2 0h1m3 0h2m1 0h1m1 0h1m1 0h3m-421 1h1m55 0h1m269 0h1m86 0h1"/>
<path stroke="url(#p13)" d="M.5 0m547 596v18m1-21v13m1-9v11m1-4v10m3-26v26m1-24v24m1-24v9m1-9v5m1-6v6m1-4v23m1-23v16m1-17v18m1-21v6m0 8v13m2-144v14m0 51v7m0 11v19m0 40v2m1-136v5m0 46v13m0 13v13m0 3v1m0 30v4m1-84v19m0 15v11m0 4v1m0 28v3m1-84v23m0 11v16m0 7v1m0 21v3m1-96v6m0 8v23m0 8v21m0 5v1m0 19v3m1-125v14m0 10v30m0 24v19m0 5v1m0 18v4m1-141v33m0 4v33m0 26v17m0 24v4m1-122v10m0 40v32m0 33v7m1-49v1m0 25v6m0 8v10m1-55v12m0 44v10m1-129v4m0 40v24m0 4v18m0 38v4m1-133v5m0 17v2m0 15v10m0 28v11m0 2v1m1-93v10m0 8v25m0 36v6m0 7v1m1-93v41m1-6v7m1-1v4m0 47v1m1-48v3m0 30v5m1-36v3m0 24v9m0 8v1m0 37v4m1-86v3m0 70v9m1-82v3m0 25v2m0 41v10m1-81v3m0 10v24m0 7v1m0 23v14m1-82v4m0 7v9m0 15v10m0 5v1m0 13v17m1-81v6m0 4v8m0 20v5m0 7v5m0 7v5m1-68v6m0 7v7m0 16v10m0 5v1m0 11v5m1-77v11m0 18v15m0 11v1m0 19v5m1-126v25m0 7v16m0 78v12m1-138v24m0 117v3m1-144v11m0 9v10m0 1v10m0 65v1m1-83v39m0 8v16m1-60v9m0 3v12m0 9v27m0 14v1m1-57v2m0 14v21m0 19v1m0 31v11m1-100v5m0 11v7m0 3v10m0 21v1m0 15v11m1-88v11m0 9v23m0 16v3m0 11v14m1-102v25m0 14v22m0 12v4m0 17v12m1-109v24m0 30v8m0 22v1m0 24v7m0 4v2m1-140v32m0 38v7m0 21v1m0 3v1m1-109v6m0 24v7m0 37v8m1-81v8m0 13v14m0 38v8m1-71v25m0 39v10m1-7v12m0 9v4m1-22v22m0 7v1m1-25v17m0 7v1m1-30v12m0 17v1m1-34v7m0 26v1m1-34v8m0 25v1m1-30v16m0 34v14m1-61v20m0 23v12m1-57v23m0 35v6m1-69v18m0 1v9m1-28v11m0 14v3m1 25v10m0 5v1m1-25v6m1-47v3m0 32v8m1-47v11m0 29v1m0 1v6m1-51v16m0 34v6m1-97v5m0 31v9m0 8v9m0 21v1m0 15v4m1-140v6m0 12v30m0 18v12m0 20v13m0 9v1m0 18v4m1-143v19m0 26v12m0 9v13m0 22v10m0 25v5m1-144v4m0 5v9m0 30v6m0 26v8m0 14v11m0 20v6m1-140v3m0 8v10m0 10v18m0 37v6m0 9v6m0 20v10m1-131v24m0 59v17m0 27v7m1-138v12m0 8v5m0 63v25m0 25v7m1-147v3m0 7v20m0 11v22m0 25v22m0 4v1m0 12v1m0 19v8m1-148v25m0 7v5m0 22v30m0 18v1m0 32v8m1-159v2m0 15v20m0 5v5m0 33v15m0 23v1m0 23v8m1-153v3m0 12v7m0 5v11m0 8v5m0 29v15m0 14v13m0 14v9m1-141v10m0 35v6m0 13v31m0 5v10m0 24v2m1-82v6m0 32v12m1 30v10m0 5v5m1-21v25m1-26v5m0 3v18m1-26v1m0 8v17m1-27v1m0 8v14m1-23v1m0 7v9m1-49v2m0 11v3m0 16v1m1-21v4m0 16v1m1-1v1m1-1v1m1-126v1m0 62v41m0 20v1m1-129v14m0 47v52m0 13v1m1-126v13m0 49v28m0 10v12m0 12v1m1-124v10m0 113v1m1-1v8m1-7v7m1-8v6m1-126v9m0 39v37m0 35v2m1-123v7m0 1v4m0 36v6m0 28v27m0 12v1m1-124v12m0 41v57m0 13v1m1-47v33m0 12v1m1-63v1m0 33v17m1-54v6m0 39v9m0 10v1m0 31v1m1-33v16m0 10v7m3-11v7m0 1v3m1-60v5m0 23v4m0 12v8m1-54v18m0 11v1m0 5v10m1-44v17m1-9v8m0 12v1m1 1v19m1 2v10m2-4v4m1-9v9m1-34v18m0 5v9m0 1v1m1-80v10m0 36v1m1 0v10m1-9v11m1-12v1m1-45v7m0 37v1m1-1v1m1-1v1m1 0v9m1-105v3m0 93v1m0 3v5m0 18v5m1-131v15m0 84v1m1-98v17m0 2v9m0 21v23m0 10v1m0 13v1m1-53v12m0 6v22m0 12v1m1-52v29m0 22v1m0 4v6m1-60v22m0 28v19m0 4v9m1-78v9m0 37v7m0 6v11m1-24v23m1-23v25m1-25v32m1-77v11m0 63v3m1-79v35m0 11v1m1-72v13m0 10v37m1-62v43m0 16v3m0 10v1m0 23v10m1-81v15m0 32v1m0 13v9m1-63v3m0 37v17m1-16v13m1-11v11m1-5v4"/>
<path stroke="#008aff" d="M0 .5m578 389h1m101 0h1m-657 2h1m34 0h1m6 0h1m71 0h1m45 0h1m1 0h1m49 0h1m74 0h1m166 0h1m17 0h1m2 0h1m29 0h1m5 0h1m42 0h1m9 0h1m10 0h1m18 0h1m5 0h1m7 0h1m12 0h1m19 0h1m26 0h1m9 0h1m32 0h1m49 0h1m-199 4h1m26 0h1m124 0h1m-350 8h1m152 0h1m2 0h1m5 0h1m76 0h2m38 0h1m77 0h1m11 0h1m16 0h1m-218 28h2m2 0h1m25 0h1m96 0h1m-376 10h1m-62 10h1m67 0h1m5 0h1m84 0h1m5 0h1m-347 4h1m27 0h1m206 0h1m169 0h1m-458 16h1m4 0h1m19 0h1m17 0h1m65 0h1m1 0h1m18 0h1m19 0h1m19 0h4m23 0h1m48 0h1m124 12h1m80 0h1m-190 14h1m133 0h1m29 0h1m49 0h1m-249 5h2m195 0h1m46 0h1m31 0h1m14 0h1m-345 3h1m-191 9h1m2 0h1m57 0h1m29 0h1m32 0h1m29 0h1m1 0h1m41 0h1m27 0h2m72 0h1m3 0h1m29 0h1m13 0h1m-170 6h1m29 0h1m-18 3h1m2 0h1m-179 1h1m65 0h1m7 0h1m43 0h1m27 0h2m3 0h1m11 0h1m11 0h1m17 0h1m8 0h1m19 0h1m15 0h1m1 0h1m40 0h1m12 0h1m31 0h1m1 0h1m-166 2h1m-155 3h1m-2 73h1m21 0h1m31 0h1m140 0h1m8 0h1m33 0h1m70 0h1m37 0h1m1 0h1m127 0h1m-484 1h1m15 0h1m1 0h1m20 0h1m40 0h1m7 0h1m65 0h1m10 0h1m4 0h1m35 0h1m16 0h1m74 0h1m23 0h1m4 0h2m39 0h1m12 0h1m12 0h1m26 0h1m8 0h1m29 0h1m-479 3h2m1 0h2m10 0h2m1 0h1m10 0h1m42 0h1m12 0h1m26 0h2m5 0h1m3 0h1m9 0h1m10 0h2m3 0h1m15 0h1m1 0h1m13 0h1m43 0h1m87 0h1m1 0h1m5 0h1m19 0h1m29 0h2m3 0h1m8 0h1m10 0h1m14 0h1m73 0h1m35 0h1m7 0h1m-515 3h1m182 0h1m152 0h1m115 0h1"/>
<path stroke="url(#p14)" d="M.5 0m548 606v8m1-6v6m6-15v15m1-19v11m1-11v19m4-21v8m2-59v11m0 23v1m0 27v8m1-70v13m0 13v3m0 5v1m0 21v4m1-61v15m0 11v4m0 5v1m0 19v4m1-58v11m0 16v2m0 22v5m1-56v8m0 41v5m1-68v24m0 38v5m1-67v26m0 22v1m0 12v6m1-19v16m1-10v8m1-14v25m1-51v4m0 22v1m0 25v8m1-80v28m0 11v2m0 5v1m0 30v7m1-92v36m0 6v7m1-51v9m0 2v41m1-51v5m0 12v34m1-48v4m0 24v19m0 5v1m1-50v30m0 5v9m1-42v24m0 9v8m0 24v14m1-79v38m0 1v3m0 22v6m1-70v25m0 2v9m0 4v2m0 21v5m1-68v10m0 24v7m0 7v1m0 12v4m1-64v7m0 40v13m1-58v4m0 45v7m1-57v7m0 39v11m1-61v18m0 15v11m0 5v1m0 9v5m1-96v7m0 16v12m0 16v11m0 33v6m1-102v37m0 14v11m0 20v1m0 17v17m1-111v1m0 10v25m0 2v23m0 10v1m1-39v8m0 16v15m0 8v14m1-37v14m0 6v21m1-46v19m0 6v26m1-66v3m0 10v21m0 6v10m1-34v16m0 8v6m1-27v12m0 9v12m1-35v18m0 7v22m1-50v6m0 48v9m1-140v24m0 52v6m1-79v13m0 60v8m0 11v3m1-19v18m1-13v9m0 11v5m1-4v3m2-21v10m1-19v15m0 3v1m1-18v18m1-6v6m0 8v1m0 10v9m1-20v1m0 5v10m1-16v1m0 12v16m1-29v1m1 24v9m1-26v11m1-16v7m2-4v1m1-2v7m1-46v8m0 39v7m1-58v20m0 36v5m1-120v26m0 34v22m0 20v1m0 9v5m1-135v5m0 9v30m0 40v14m0 23v8m1-131v8m0 10v10m0 61v9m1 26v6m1-6v1m0 5v7m1-137v7m0 100v4m0 25v8m1-103v22m0 30v18m0 14v1m0 9v9m1-149v5m0 3v7m0 30v9m0 5v19m0 15v23m0 15v9m1-142v12m0 36v8m0 4v17m0 15v14m1-54v13m0 31v5m4 37v3m1-7v8m1-9v8m0 14v4m1-26v7m0 9v10m1-26v20m1-20v3m1-3v3m1-3v6m1-7v4m1-6v4m1-5v5m1-5v13m0 7v10m1-23v23m1-23v7m0 8v8m1-25v6m0 13v6m1-29v8m0 16v5m1-98v28m0 40v7m0 21v2m1-30v8m0 19v3m1-31v9m0 17v5m1-32v7m0 21v4m1-32v9m0 16v6m1-16v10m4-1v8m1-32v5m0 10v7m1-23v2m0 1v13m1-15v18m1 2v11m5-15v5m0 9v1m1-32v18m1-8v6m1-4v5m1-16v12m1-12v6m1-6v6m1-6v12m1-3v23m1-31v3m0 5v18m1-26v31m1-32v15m0 12v5m1-73v6m0 35v14m1-14v4m0 6v10m0 4v8m1-13v4m5-23v29m1-29v12m0 7v13m1-33v1m0 19v13m1-33v23m1-23v13"/>
<path stroke="#009eff" d="M0 .5m29 242h1m29 0h1m396 0h1m58 0h1m1 0h2m1 0h1m10 0h1m10 0h1m11 0h1m4 0h1m8 0h1m10 0h1m41 0h1m25 0h1m15 0h1m6 0h2m5 0h1m28 0h1m17 0h1m23 0h1m18 0h1m1 0h1m10 0h1m-214 147h1m20 0h1m5 0h1m169 0h1m19 0h1m-783 2h1m24 0h1m7 0h1m12 0h1m6 0h1m34 0h1m2 0h1m16 0h1m30 0h1m12 0h1m6 0h1m19 0h1m32 0h1m11 0h1m6 0h1m65 0h1m7 0h1m27 0h1m139 0h1m25 0h1m26 0h1m30 0h1m1 0h1m15 0h1m15 0h1m23 0h1m15 0h1m60 0h1m8 0h2m22 0h1m25 0h1m13 0h1m29 0h1m1 0h1m-89 4h1m29 0h1m-497 8h1m115 0h1m34 0h1m51 0h1m49 0h1m46 0h1m39 0h1m1 0h1m77 0h1m1 0h1m22 0h1m45 0h1m7 0h1m1 0h1m13 0h1m3 0h1m5 0h1m24 0h1m-199 28h1m32 0h1m32 0h1m-399 10h1m33 0h1m-51 10h1m108 0h1m12 0h1m72 0h1m-55 4h2m1 0h1m-364 16h3m2 0h1m31 0h1m8 0h1m54 0h1m2 0h1m14 0h1m2 0h1m5 0h1m6 0h1m38 0h1m10 0h1m3 0h1m3 0h1m2 0h1m48 0h1m198 26h1m-102 5h1m145 0h1m3 0h1m-378 3h1m-87 9h1m29 0h1m24 0h3m7 0h1m30 0h1m21 0h1m13 0h1m10 0h1m7 0h2m15 0h1m10 0h1m22 0h1m20 0h1m10 0h1m3 0h1m32 0h1m1 0h1m4 0h1m-102 3h1m-49 3h1m5 0h1m-17 3h1m4 0h1m9 0h1m-179 1h1m59 0h1m29 0h1m1 0h1m42 0h1m28 0h1m8 0h2m33 0h1m7 0h1m44 0h1m41 0h1m-90 2h1m-190 3h1m20 0h1m80 73h1m33 0h1m48 0h1m122 0h1m48 0h1m-330 1h1m1 0h1m16 0h1m17 0h1m24 0h1m8 0h1m10 0h1m21 0h1m14 0h1m135 0h1m28 0h1m120 0h1m34 0h1m8 0h1m-519 3h1m51 0h1m27 0h1m16 0h1m14 0h1m12 0h1m5 0h1m13 0h1m18 0h1m9 0h1m6 0h2m12 0h1m28 0h1m19 0h1m23 0h2m5 0h1m3 0h1m1 0h1m1 0h1m6 0h2m32 0h1m6 0h2m10 0h1m10 0h1m3 0h1m5 0h1m20 0h1m1 0h1m31 0h1m56 0h1m3 0h1m3 0h1m45 0h1m-465 3h1m111 0h1m168 0h1m23 0h1"/>
<path stroke="url(#p15)" d="M.5 0m0 534v1m1-1v1m2-3v1m1-1v1m2-3v1m6 8v1m1-1v1m1-1v1m1-1v1m198-298v1m1-1v1m23 289v1m1-1v1m1-1v1m1-1v1m32-291v1m13-1v1m31-1v1m26-1v1m16-1v1m21 288v1m2-11v1m1-1v1m1-2v2m0 11v1m1-14v2m0 11v1m1-22v1m0 8v1m0 10v2m1-22v1m0 8v1m0 4v1m1-1v1m1-12v1m0 10v1m1 5v1m1-1v1m1-9v1m0 7v1m1-9v1m0 7v1m1-291v1m0 277v1m0 3v1m1-5v1m0 3v1m1-9v1m1-1v1m0 6v1m2-282v1m15-1v1m8-1v1m44 286v1m1-1v1m1-1v1m3-3v1m1-1v1m1-1v1m1-1v1m4-5v1m1-1v1m1-1v1m1-1v1m3 5v1m1-1v1m72 76v8m7-37v15m0 5v7m1-16v10m1-10v8m1-19v1m0 9v6m1-16v14m1-14v13m1-13v12m4-12v8m0 9v8m1-25v2m0 21v7m1-31v1m0 30v7m1-85v2m0 45v1m1-51v12m0 38v1m1-49v24m0 25v1m1-1v4m0 11v11m0 3v8m1-37v4m0 8v5m1-27v1m0 9v1m0 11v4m1-28v4m0 8v1m0 11v3m1-14v12m4-13v9m1-56v16m0 11v15m0 4v1m0 4v9m1-59v14m0 11v9m0 3v4m0 11v11m1-58v2m0 23v10m0 6v37m1-37v3m0 14v11m0 5v4m1-16v16m5-37v2m1-22v15m0 26v7m1-156v1m0 106v16m1-14v11m0 8v1m1 0v10m0 17v6m1-28v31m1-32v32m1-35v10m0 6v19m1-4v4m1-47v3m1 28v16m1-34v10m1-10v5m1-5v12m1-12v34m1-34v24m0 9v1m1-166v1m0 132v6m5-3v8m1-143v1m0 134v1m0 3v9m1-12v9m4-7v5m1-5v11m1-10v9m1-135v3m0 46v5m1-5v4m9 93v6m1-23v17m1-17v14m1-11v12m1-15v9m1-11v9m1-9v25m1-17v7m2-6v8m1-11v13m1-15v16m1-18v6m0 9v6m1-20v7m0 6v6m1-19v17m1-20v21m1-19v16m6-3v10m1-31v1m0 13v7m1-4v7m1 6v1m6-15v15m1-17v11m1-10v9m1-13v6m1-151v1m0 138v6m1-6v6m1 0v19m4-16v12m1-13v18m1-12v4m7-12v7m1-19v19m7-153v1m52 0v1m21-3v1m32-2v1"/>
<path stroke="#00b3ff" d="M0 .5m49 242h1m10 0h1m16 0h1m369 0h1m9 0h1m2 0h1m5 0h1m1 0h1m4 0h1m22 0h1m6 0h1m7 0h1m25 0h1m1 0h1m1 0h1m8 0h1m6 0h1m29 0h1m17 0h1m9 0h1m11 0h2m10 0h2m19 0h1m18 0h1m5 0h1m6 0h1m2 0h1m4 0h1m2 0h2m12 0h1m1 0h1m8 0h1m1 0h1m1 0h1m1 0h1m10 0h1m4 0h3m19 0h1m4 0h1m13 0h1m10 0h2m-1 147h1m-757 2h1m80 0h1m3 0h1m19 0h1m9 0h1m32 0h1m15 0h1m32 0h1m9 0h1m31 0h1m41 0h1m13 0h1m9 0h1m2 0h1m142 0h1m3 0h1m11 0h1m7 0h1m2 0h1m26 0h1m1 0h1m31 0h1m7 0h1m18 0h1m162 0h1m19 0h1m6 0h1m-173 4h1m-205 8h1m119 0h1m2 0h1m58 0h1m43 0h1m117 0h1m19 0h1m-791 7h1m8 0h1m7 0h2m7 0h1m9 0h1m1 0h1m2 0h2m5 0h1m3 0h1m3 0h1m10 0h1m5 0h1m3 0h1m1 0h1m3 0h2m8 0h1m2 0h1m13 0h1m3 0h1m1 0h1m2 0h1m1 0h1m6 0h1m6 0h3m3 0h1m3 0h1m1 0h1m10 0h2m7 0h1m8 0h1m6 0h1m6 0h1m3 0h1m11 0h2m2 0h1m10 0h1m5 0h1m1 0h1m3 0h1m8 0h1m7 0h1m5 0h1m8 0h2m23 0h1m4 0h1m4 0h1m2 0h1m7 0h1m6 0h1m10 0h3m5 0h1m7 0h3m3 0h1m2 0h1m2 0h1m3 0h2m2 0h1m5 0h1m5 0h1m2 0h1m2 0h1m3 0h1m18 0h2m3 0h1m7 0h2m6 0h1m16 0h2m2 0h1m21 0h1m4 0h1m8 0h1m5 0h2m20 0h1m1 0h1m16 0h1m8 0h1m5 0h2m9 0h2m1 0h1m15 0h1m1 0h1m13 0h1m3 0h1m3 0h2m6 0h1m4 0h1m14 0h1m5 0h1m12 0h4m2 0h3m2 0h1m3 0h1m1 0h1m1 0h2m12 0h3m3 0h2m3 0h1m3 0h1m10 0h1m11 0h1m1 0h1m7 0h1m2 0h1m1 0h1m20 0h1m4 0h1m1 0h1m2 0h1m1 0h1m3 0h3m1 0h1m4 0h1m6 0h1m15 0h1m-799 1h1m1 0h1m12 0h1m21 0h1m23 0h1m15 0h1m4 0h1m5 0h1m68 0h1m19 0h1m25 0h1m12 0h1m68 0h1m30 0h1m17 0h1m6 0h1m41 0h1m38 0h1m23 0h1m67 0h1m26 0h1m17 0h1m23 0h1m4 0h1m23 0h1m9 0h1m7 0h1m9 0h2m35 0h1m37 0h1m7 0h1m27 0h1m1 0h1m34 0h1m-238 20h1m5 0h1m19 0h1m39 0h1m11 0h1m37 0h1m19 0h1m-625 9h1m4 0h1m10 0h1m2 0h2m6 0h3m212 1h1m1 0h1m-27 10h1m47 0h1m76 0h1m35 0h1m5 0h1m12 0h1m1 0h1m45 0h1m-508 14h1m1 0h1m10 0h1m5 0h1m3 0h3m3 0h1m17 0h1m489 0h1m-508 6h2m2 0h1m1 0h1m11 0h1m8 0h1m10 0h1m38 0h1m21 0h1m1 0h1m18 0h1m1 0h1m3 0h1m28 0h2m5 0h2m72 0h1m100 26h1m124 0h1m39 0h1m-41 5h1m17 0h1m-321 9h1m-197 3h1m60 0h1m44 0h1m15 0h1m16 0h1m17 0h1m36 0h2m16 0h1m2 0h1m16 0h1m52 0h1m40 0h1m2 0h1m4 0h1m-108 9h1m-218 1h2m43 0h1m5 0h1m25 0h1m6 0h1m41 0h1m27 0h1m20 0h1m68 0h1m80 0h1m10 0h1m177 76h1m-523 6h1m5 0h1m7 0h2m60 0h1m7 0h1m30 0h1m7 0h1m41 0h1m18 0h1m90 0h1m29 0h1m2 0h1m4 0h1m35 0h1m2 0h1m4 0h1m8 0h1m3 0h1m5 0h1m11 0h1m1 0h1m22 0h1m1 0h1m28 0h1m8 0h1m20 0h1m3 0h3m6 0h1m-455 3h1m31 0h2m10 0h1m9 0h1m6 0h1m13 0h1m24 0h2m3 0h1m2 0h1m12 0h1m11 0h1m53 0h2m10 0h1m10 0h1m16 0h1m15 0h1m3 0h1m29 0h1m58 0h1m28 0h1m1 0h1m51 0h1m55 0h1m12 0h1m9 0h1m-508 1h1m44 0h1m8 0h1m119 0h1m17 0h1m78 0h1m12 0h1m7 0h1m14 0h1m36 0h1m4 0h1m5 0h2m1 0h1m2 0h1m19 0h1m1 0h1m60 0h1m7 0h1m40 0h1"/>
<path stroke="url(#p16)" d="M.5 0m563 592v5m1-20v11m1-11v11m1-10v9m7-2v9m1-15v21m1-23v6m0 14v10m1-30v5m0 31v1m1-37v6m1-5v22m1-19v11m0 11v3m1-25v8m1-11v11m1-11v11m6-12v4m1-16v3m0 9v6m2 22v5m7-33v21m1-21v8m0 15v14m1-36v12m0 8v16m1-26v17m0 6v3m3-25v6m1-16v9m0 6v16m1-31v1m0 20v14m1-35v19m12-13v3m19 20v6m1-9v8m1-7v8m1-14v12m1-14v16m7-17v9m1-7v6m10-1v10m1-7v7m8-6v6m1-7v7m1-14v14m1-20v9m1-9v11"/>
<path stroke="#00c7ff" d="M0 .5m18 242h1m24 0h1m7 0h1m14 0h1m4 0h1m369 0h1m4 0h1m4 0h1m1 0h3m20 0h1m25 0h1m21 0h1m8 0h1m6 0h1m8 0h1m12 0h1m1 0h2m4 0h1m6 0h1m2 0h2m7 0h1m30 0h1m1 0h2m1 0h1m6 0h1m3 0h1m9 0h1m4 0h1m17 0h1m12 0h1m25 0h1m6 0h1m19 0h1m11 0h1m5 0h1m2 0h1m4 0h1m19 0h2m1 0h1m3 0h1m5 0h1m-751 149h1m74 0h1m44 0h1m45 0h1m82 0h1m42 0h1m142 0h1m20 0h1m9 0h1m13 0h1m50 0h1m73 0h1m41 0h1m64 0h1m7 0h1m-217 12h1m4 0h1m141 0h1m32 0h1m34 0h1m9 0h1m33 0h1m-796 7h1m10 0h2m6 0h1m6 0h1m5 0h3m1 0h1m3 0h1m2 0h1m5 0h3m1 0h1m3 0h1m6 0h1m12 0h1m26 0h1m2 0h1m3 0h1m2 0h1m3 0h2m2 0h2m11 0h1m5 0h1m1 0h1m14 0h1m18 0h2m11 0h1m3 0h1m5 0h1m3 0h1m2 0h1m1 0h1m2 0h1m12 0h1m3 0h2m4 0h1m15 0h2m9 0h2m1 0h2m18 0h1m2 0h1m1 0h1m11 0h2m1 0h2m8 0h1m11 0h1m1 0h1m9 0h1m7 0h1m1 0h1m9 0h1m5 0h1m11 0h1m1 0h1m4 0h1m1 0h1m6 0h1m3 0h1m4 0h1m1 0h1m9 0h2m1 0h1m5 0h1m15 0h1m3 0h1m1 0h2m4 0h1m4 0h1m9 0h1m1 0h1m2 0h2m5 0h1m3 0h1m16 0h2m15 0h1m2 0h1m4 0h1m5 0h2m2 0h1m3 0h1m3 0h1m5 0h1m2 0h1m4 0h1m1 0h1m2 0h2m1 0h1m14 0h2m1 0h1m8 0h1m2 0h2m3 0h2m9 0h1m2 0h1m1 0h1m5 0h1m3 0h1m4 0h3m1 0h1m5 0h1m4 0h2m5 0h1m6 0h1m3 0h2m3 0h1m5 0h1m3 0h1m3 0h1m2 0h1m4 0h1m9 0h1m9 0h1m1 0h1m10 0h2m1 0h1m3 0h3m4 0h1m3 0h1m22 0h1m2 0h1m4 0h2m7 0h2m-789 1h1m36 0h2m3 0h1m27 0h1m4 0h1m13 0h2m71 0h1m15 0h3m2 0h1m10 0h1m4 0h1m33 0h1m3 0h1m20 0h1m21 0h1m66 0h1m15 0h1m2 0h1m40 0h1m3 0h1m16 0h1m72 0h1m82 0h1m15 0h1m126 0h1m27 0h2m31 0h1m-216 20h1m16 0h1m-527 9h1m1 0h1m5 0h1m15 0h1m4 0h1m2 0h1m144 11h1m28 0h2m7 0h1m5 0h1m40 0h1m27 0h1m13 0h1m112 0h1m-487 14h1m4 0h1m1 0h1m1 0h1m1 0h1m2 0h1m1 0h1m1 0h1m1 0h1m1 0h1m5 0h1m4 0h1m2 0h1m2 0h2m1 0h1m1 0h1m1 0h2m1 0h1m1 0h1m2 0h1m2 0h3m1 0h3m472 0h2m1 0h2m-539 6h1m35 0h1m8 0h1m4 0h1m8 0h1m3 0h1m2 0h1m7 0h1m19 0h1m1 0h1m1 0h1m20 0h2m13 0h1m1 0h1m11 0h1m4 0h1m7 0h1m48 0h1m6 0h1m6 0h2m45 0h1m-271 43h1m3 0h1m3 0h1m14 0h1m21 0h2m67 0h1m9 0h1m20 0h1m55 0h1m4 0h1m14 0h2m55 0h1m40 0h1m-137 3h1m-147 7h2m20 0h1m23 0h1m21 0h1m22 0h1m6 0h1m3 0h1m2 0h1m15 0h1m9 0h1m9 0h1m1 0h1m38 0h1m19 0h1m37 0h1m4 0h1m13 0h1m30 0h2m20 0h1m4 0h1m8 0h2m-134 2h1m-234 18h1m1 0h1m25 0h1m9 0h1m2 0h1m10 0h2m1 0h3m1 0h1m3 0h2m28 0h1m19 0h2m3 0h1m54 0h2m7 0h1m4 0h1m2 0h2m1 0h3m1 0h1m1 0h3m1 0h1m1 0h1m158 0h2m1 0h1m1 0h2m-369 59h1m3 0h1m2 0h1m3 0h3m5 0h1m4 0h1m3 0h1m3 0h2m3 0h1m3 0h2m2 0h2m2 0h1m2 0h2m4 0h1m2 0h1m1 0h2m1 0h1m5 0h1m2 0h1m3 0h1m1 0h1m7 0h1m2 0h2m6 0h2m3 0h1m2 0h1m1 0h1m3 0h2m5 0h1m3 0h1m6 0h2m1 0h1m5 0h1m1 0h2m3 0h1m5 0h1m11 0h1m4 0h1m3 0h2m1 0h1m6 0h1m1 0h1m7 0h1m3 0h1m4 0h1m4 0h1m1 0h1m7 0h1m1 0h1m1 0h1m8 0h1m3 0h2m1 0h1m4 0h1m2 0h2m3 0h2m2 0h1m10 0h2m5 0h1m11 0h1m8 0h1m4 0h3m5 0h4m2 0h2m2 0h1m2 0h1m17 0h1m2 0h2m11 0h5m5 0h1m1 0h2m4 0h1m1 0h2m3 0h1m2 0h1m14 0h1m2 0h1m9 0h1m1 0h1m1 0h1m2 0h1m3 0h1m2 0h1m11 0h1m4 0h1m4 0h1m7 0h1m10 0h3m7 0h1m3 0h1m1 0h1m9 0h2m2 0h1m7 0h1m1 0h1m5 0h2m5 0h1m1 0h3m3 0h1m-530 3h1m29 0h1m12 0h1m55 0h1m27 0h2m34 0h1m6 0h2m22 0h1m34 0h2m37 0h1m38 0h1m2 0h1m1 0h1m15 0h1m13 0h1m18 0h1m4 0h1m21 0h1m8 0h1m14 0h1m2 0h1m31 0h1m41 0h1m30 0h1m-493 3h1m65 0h1m1 0h2m16 0h1m2 0h1m23 0h1m3 0h1m22 0h1m5 0h1m2 0h1m21 0h1m2 0h1m29 0h1m9 0h1m16 0h1m2 0h1m4 0h1m14 0h2m13 0h1m6 0h1m2 0h1m4 0h2m13 0h3m6 0h1m15 0h1m7 0h2m6 0h1m2 0h1m8 0h1m19 0h1m6 0h1m34 0h1m2 0h3m6 0h1m25 0h1m5 0h1m4 0h1m8 0h1m13 0h1m2 0h1m-519 1h1m12 0h1m1 0h1m5 0h1m2 0h1m11 0h1m2 0h1m8 0h1m9 0h1m5 0h2m23 0h1m1 0h1m12 0h1m6 0h1m12 0h1m5 0h1m13 0h1m7 0h1m2 0h1m12 0h1m10 0h1m26 0h1m6 0h1m14 0h1m47 0h1m12 0h1m4 0h1m3 0h3m7 0h2m18 0h1m2 0h1m4 0h1m8 0h1m48 0h1m23 0h1m10 0h1m20 0h1m4 0h1m10 0h1m6 0h1m3 0h1m34 0h1m20 0h1"/>
<path stroke="url(#p17)" d="M.5 0m13 533v1m1-1v1m1-1v1m1-1v1m0 2v1m1-1v1m1-1v1m225-2v1m1-10v1m139-3v1m1 0v1m1-15v1m1-1v1m0 5v1m1-7v2m1-2v2m0 14v1m1-16v1m1-1v1m1 3v1m1-1v1m1-1v1m1-1v1m1 17v1m1-1v1m73-12v1m1-1v1m1-1v1m1-1v1m11 6v1m92 52v14m1-15v31m1-30v31m1-14v14m21-29v15m1-10v8m5-10v6m1-14v20m33 13v1m2-2v2m31-11v11m1-9v8"/>
<path stroke="#00dbff" d="M0 .5m40 242h1m417 0h2m4 0h2m6 0h1m37 0h1m1 0h1m3 0h1m6 0h1m14 0h1m16 0h1m4 0h2m4 0h1m5 0h1m15 0h1m6 0h2m19 0h1m1 0h1m7 0h1m3 0h1m3 0h2m2 0h1m6 0h1m18 0h1m15 0h1m3 0h1m12 0h1m13 0h1m17 0h1m6 0h1m9 0h1m8 0h1m1 0h1m7 0h2m3 0h2m4 0h1m1 0h1m4 0h1m8 0h2m5 0h2m-797 168h1m6 0h1m3 0h1m5 0h2m2 0h2m5 0h1m7 0h1m6 0h1m10 0h1m16 0h1m11 0h1m3 0h1m6 0h1m5 0h1m16 0h1m2 0h2m13 0h1m16 0h1m6 0h1m1 0h2m2 0h1m1 0h1m2 0h1m4 0h1m1 0h2m3 0h3m4 0h1m9 0h1m5 0h1m3 0h2m3 0h1m8 0h1m3 0h1m7 0h1m4 0h1m5 0h1m1 0h1m1 0h1m1 0h1m3 0h1m11 0h1m7 0h1m3 0h1m8 0h1m1 0h1m17 0h1m7 0h1m1 0h2m10 0h1m6 0h1m17 0h1m3 0h2m1 0h1m5 0h1m2 0h1m2 0h1m2 0h2m1 0h1m6 0h1m22 0h1m1 0h1m6 0h1m6 0h1m2 0h1m15 0h1m2 0h2m6 0h1m4 0h1m5 0h1m4 0h1m1 0h1m6 0h2m1 0h1m17 0h2m1 0h1m9 0h1m1 0h1m6 0h1m14 0h1m4 0h1m1 0h3m2 0h2m7 0h1m5 0h1m6 0h1m11 0h1m7 0h1m5 0h1m10 0h1m2 0h1m7 0h1m4 0h1m6 0h1m8 0h1m14 0h1m22 0h1m7 0h1m1 0h1m17 0h1m3 0h1m5 0h1m1 0h3m5 0h1m11 0h1m1 0h1m2 0h1m1 0h1m1 0h1m3 0h1m11 0h1m7 0h1m2 0h1m6 0h2m1 0h1m10 0h1m-794 1h1m13 0h1m23 0h1m21 0h1m24 0h1m18 0h1m66 0h1m2 0h1m7 0h1m4 0h1m10 0h1m17 0h1m26 0h1m12 0h1m13 0h1m11 0h2m21 0h1m3 0h1m19 0h1m9 0h1m24 0h1m13 0h1m16 0h1m5 0h1m66 0h1m28 0h1m7 0h1m2 0h1m2 0h1m14 0h1m45 0h1m14 0h1m32 0h1m53 0h1m19 0h1m2 0h1m5 0h1m3 0h1m40 0h1m-691 29h1m1 0h1m1 0h1m2 0h1m1 0h2m1 0h1m6 0h1m5 0h2m6 0h2m164 1h1m41 0h1m-31 10h1m5 0h1m83 0h1m18 0h1m-386 14h2m10 0h1m1 0h1m5 0h1m1 0h1m2 0h2m4 0h1m4 0h1m3 0h1m3 0h1m2 0h1m7 0h1m7 0h1m476 0h2m-508 6h1m12 0h2m5 0h1m6 0h1m6 0h1m17 0h3m3 0h1m1 0h1m7 0h1m15 0h1m11 0h2m11 0h1m14 0h2m4 0h1m38 0h1m29 0h1m-231 43h1m5 0h1m40 0h1m5 0h2m31 0h1m11 0h1m1 0h1m35 0h1m4 0h1m13 0h1m9 0h1m2 0h1m34 0h1m6 0h1m8 0h1m15 0h1m18 0h1m18 0h1m6 0h1m1 0h1m32 0h1m3 0h1m7 0h1m-136 9h1m14 0h1m-186 1h2m1 0h1m9 0h1m32 0h1m15 0h2m8 0h1m11 0h1m10 0h1m2 0h2m17 0h1m18 0h1m34 0h1m5 0h1m14 0h1m96 0h1m27 0h1m11 0h1m-158 2h1m-197 18h1m6 0h1m1 0h2m1 0h2m24 0h1m11 0h1m2 0h1m19 0h1m19 0h2m50 0h2m36 0h3m1 0h2m178 0h1m3 0h1m57 56h1m-433 2h1m2 0h4m2 0h1m1 0h2m1 0h1m2 0h1m1 0h2m1 0h1m2 0h1m4 0h1m1 0h1m3 0h2m6 0h1m4 0h1m6 0h1m2 0h1m4 0h1m1 0h1m2 0h1m2 0h1m6 0h1m7 0h2m7 0h1m1 0h1m1 0h1m1 0h1m9 0h2m3 0h2m7 0h1m2 0h1m1 0h1m4 0h2m3 0h2m1 0h1m4 0h2m1 0h1m1 0h1m4 0h1m2 0h1m2 0h1m5 0h1m4 0h1m4 0h1m3 0h1m2 0h1m1 0h2m3 0h1m1 0h4m3 0h1m4 0h3m1 0h1m2 0h2m2 0h3m10 0h1m3 0h1m1 0h2m15 0h1m3 0h1m3 0h1m7 0h1m1 0h1m2 0h1m6 0h2m1 0h1m3 0h1m2 0h1m1 0h1m2 0h2m1 0h1m5 0h1m1 0h1m1 0h1m1 0h1m1 0h4m11 0h2m1 0h1m1 0h1m1 0h1m9 0h1m7 0h2m5 0h2m1 0h3m2 0h1m1 0h1m4 0h2m2 0h3m2 0h1m3 0h3m3 0h1m2 0h4m1 0h1m2 0h1m2 0h1m1 0h1m11 0h1m3 0h2m9 0h1m4 0h2m1 0h1m5 0h3m6 0h2m4 0h3m3 0h3m2 0h3m2 0h1m3 0h1m6 0h1m5 0h1m1 0h1m1 0h3m6 0h1m4 0h1m1 0h1m2 0h1m5 0h1m2 0h1m-534 1h2m2 0h1m3 0h1m4 0h1m4 0h2m5 0h2m2 0h2m2 0h1m4 0h1m3 0h2m2 0h2m2 0h2m1 0h1m3 0h1m1 0h1m3 0h1m1 0h1m7 0h2m2 0h1m2 0h1m2 0h1m2 0h1m2 0h3m5 0h3m6 0h2m4 0h1m1 0h3m2 0h2m1 0h2m1 0h3m1 0h1m1 0h1m1 0h2m5 0h4m1 0h1m2 0h1m4 0h1m2 0h1m1 0h1m2 0h5m1 0h1m2 0h2m4 0h2m2 0h1m4 0h1m3 0h1m4 0h4m2 0h1m2 0h1m1 0h2m1 0h3m4 0h7m3 0h1m2 0h2m2 0h3m1 0h2m3 0h1m1 0h1m5 0h1m2 0h3m2 0h2m2 0h1m3 0h1m1 0h3m2 0h1m3 0h1m1 0h4m2 0h2m1 0h2m1 0h2m1 0h5m1 0h1m1 0h2m4 0h1m1 0h1m5 0h1m4 0h1m1 0h1m2 0h3m2 0h2m1 0h4m1 0h2m1 0h1m8 0h2m3 0h3m5 0h1m2 0h2m5 0h1m1 0h1m5 0h2m1 0h2m1 0h2m1 0h1m1 0h2m1 0h1m1 0h1m1 0h1m3 0h1m1 0h6m2 0h1m3 0h1m1 0h2m3 0h1m6 0h1m3 0h5m1 0h1m5 0h3m2 0h1m1 0h2m1 0h1m1 0h1m2 0h2m12 0h1m1 0h1m3 0h1m1 0h1m2 0h4m2 0h2m2 0h2m2 0h6m3 0h2m2 0h1m4 0h2m2 0h1m4 0h1m2 0h2m-446 3h1m3 0h1m7 0h1m1 0h1m63 0h1m61 0h1m1 0h1m46 0h1m4 0h1m37 0h1m35 0h1m29 0h1m49 0h2m31 0h1m24 0h1m28 0h2m-524 3h1m10 0h1m24 0h1m4 0h1m22 0h1m13 0h1m20 0h1m9 0h1m4 0h1m4 0h1m2 0h1m1 0h1m4 0h1m1 0h1m12 0h1m5 0h1m4 0h1m1 0h1m6 0h1m6 0h1m4 0h1m2 0h1m22 0h1m21 0h2m10 0h2m9 0h1m6 0h2m3 0h1m1 0h1m7 0h1m17 0h1m19 0h1m15 0h1m8 0h1m16 0h1m18 0h1m4 0h1m29 0h1m2 0h2m17 0h1m6 0h1m27 0h1m16 0h1m13 0h1m4 0h2m7 0h1m11 0h1m7 0h1m-493 1h1m4 0h1m1 0h1m3 0h1m6 0h1m42 0h1m24 0h1m11 0h1m8 0h1m16 0h2m11 0h1m2 0h1m6 0h1m12 0h2m1 0h1m1 0h2m14 0h1m4 0h1m3 0h1m12 0h1m3 0h1m14 0h1m4 0h1m9 0h1m13 0h1m11 0h1m4 0h2m26 0h1m8 0h1m10 0h1m2 0h1m33 0h1m17 0h1m6 0h1m3 0h1m3 0h1m11 0h1m4 0h1m3 0h1m19 0h1m4 0h1m38 0h1m22 0h1"/>
<path stroke="url(#p18)" d="M.5 0m5 532v1m1-1v1m1-1v1m1-1v1m0 7v1m1-1v1m1-1v1m8-1v1m1-258v1m0 250v1m10 42v1m9-139v1m85 139v1m11-25v1m22 39v1m7-84v1m76 22v1m1-1v1m1-1v1m1-1v1m1-8v1m1-1v2m63 2v1m2 3v1m23-107v1m7 156v1m42-60v1m1-14v1m0 12v1m1-14v1m7 5v1m1-8v1m0 6v1m0 5v1m1-7v2m1-9v1m0 7v1m0 11v1m1-1v1m1-10v1m1-1v1m0 3v1m0 3v1m4-18v1m20 49v1m45-36v1m1-5v1m1 0v1m1-1v1m1-5v1m0 3v1m1-5v1m0 3v1m1-5v1m1-1v1m0 6v1m4-4v1m0 2v1m1-7v1m0 5v1m1-7v1m1-1v1m1-1v1m82-69v157m45-161v1m9 0v1m12-15v1m48 4v1m9-2v1m0 169v1m1-1v1m1-1v1m1-1v1m1-1v1m1-1v1m1-170v1m0 168v1m1-1v1m1-1v1m1-1v1m1-1v1m1-1v1m1-1v1m1-1v1m1-1v1m1-1v1m1-1v1m1-1v1m1-1v1m1-1v1m1-1v1m1-1v1m1-1v1m1-170v1m0 168v1m1-1v1m1-1v1m1-1v1m1-1v1m1-1v1m1-1v1m1-1v1m1-1v1m1-1v1m1-1v1m1-1v1m1-1v1m1-169v1m0 167v1m1-1v1m1-170v1m0 168v1m1-1v1m1-1v1m1-1v1m1-1v1m3-1v1m1-1v1m1-1v1m1-1v1m1-1v1m1-1v1m1-1v1m1-1v1m1-1v1m1-1v1m1-1v1m1-1v1m1-1v1m1-1v1m1-1v1m1-1v1m1-1v1m1-1v1m1-1v1m1-1v1m1-1v1m1-1v1m1-1v1m1-1v1m1-1v1m1-1v1m1-1v1m1-1v1m1-171v1m2 169v1m1-1v1m1-1v1m1-1v1m1-1v1m1-1v1m1-170v1m0 168v1m1-1v1m1-1v1m1-1v1m3-1v1m3-1v1m1-1v1m1-1v1m1-1v1m1-1v1m1-1v1m1-1v1m1-1v1m1-1v1m1-1v1m1-1v1m1-1v1m1-1v1m1-1v1m1-1v1m1-1v1m3-1v1m1-1v1m1-1v1m1-1v1"/>
<path stroke="#00f0ff" d="M0 .5m8 242h1m17 0h1m5 0h1m3 0h1m4 0h1m3 0h1m7 0h2m397 0h1m10 0h1m3 0h1m2 0h1m26 0h1m21 0h1m10 0h1m1 0h1m3 0h1m15 0h2m2 0h1m12 0h1m1 0h1m3 0h1m2 0h1m11 0h1m2 0h1m9 0h1m27 0h1m1 0h1m18 0h1m6 0h1m5 0h2m1 0h1m3 0h1m13 0h2m5 0h2m4 0h1m10 0h1m1 0h1m1 0h1m1 0h1m1 0h1m6 0h1m5 0h1m10 0h1m1 0h1m14 0h1m35 0h1m5 0h1m-793 168h1m4 0h1m1 0h1m16 0h4m4 0h1m12 0h1m4 0h1m6 0h2m2 0h4m9 0h1m2 0h1m6 0h1m1 0h2m13 0h1m1 0h2m13 0h2m11 0h1m13 0h1m2 0h2m2 0h2m1 0h1m8 0h1m11 0h1m18 0h2m4 0h1m6 0h1m2 0h1m4 0h1m3 0h1m2 0h1m2 0h2m3 0h1m4 0h1m2 0h1m9 0h1m3 0h1m5 0h2m1 0h1m1 0h1m2 0h1m5 0h2m14 0h1m6 0h1m1 0h1m1 0h3m4 0h1m9 0h1m10 0h1m2 0h1m3 0h1m4 0h1m4 0h1m1 0h2m10 0h1m1 0h1m9 0h1m5 0h1m3 0h1m3 0h2m1 0h1m5 0h1m2 0h1m15 0h1m2 0h1m4 0h1m1 0h2m2 0h1m7 0h1m3 0h1m13 0h1m4 0h1m5 0h3m12 0h1m27 0h2m3 0h1m4 0h2m5 0h1m1 0h1m1 0h4m14 0h1m11 0h1m1 0h1m2 0h1m13 0h3m7 0h1m3 0h1m4 0h1m7 0h1m2 0h1m2 0h2m9 0h1m1 0h1m3 0h1m2 0h1m1 0h1m11 0h1m15 0h2m1 0h1m4 0h1m1 0h1m4 0h1m13 0h1m2 0h1m1 0h1m1 0h1m5 0h1m2 0h1m3 0h1m11 0h2m7 0h3m4 0h1m1 0h1m2 0h1m5 0h1m1 0h1m1 0h1m1 0h2m1 0h1m1 0h1m8 0h1m5 0h1m2 0h1m5 0h1m2 0h1m11 0h1m-795 1h1m7 0h1m45 0h2m6 0h1m8 0h1m48 0h1m16 0h1m24 0h1m5 0h1m6 0h1m15 0h1m82 0h1m52 0h1m19 0h1m1 0h1m8 0h1m31 0h1m29 0h1m1 0h1m33 0h1m13 0h1m105 0h1m8 0h1m29 0h1m55 0h1m22 0h1m38 0h1m4 0h1m11 0h1m6 0h1m12 0h1m-709 29h1m7 0h1m1 0h1m3 0h3m6 0h1m-99 25h1m3 0h2m5 0h1m1 0h1m4 0h1m6 0h1m9 0h1m3 0h1m4 0h1m6 0h1m1 0h1m2 0h1m4 0h1m473 0h2m-485 6h1m1 0h1m10 0h1m12 0h1m16 0h1m2 0h1m20 0h1m1 0h1m3 0h1m9 0h1m4 0h1m50 0h1m10 0h1m-177 43h1m1 0h1m28 0h1m48 0h1m17 0h1m38 0h1m4 0h1m3 0h1m64 0h1m26 0h1m-72 6h1m7 3h1m-176 1h1m33 0h1m175 0h2m6 0h1m40 0h1m73 0h1m-173 2h1m-187 18h1m9 0h1m2 0h1m14 0h1m12 0h1m1 0h1m19 0h1m9 0h2m22 0h1m18 0h3m27 0h1m2 0h2m22 0h1m10 0h1m12 0h1m1 0h1m3 0h1m1 0h1m1 0h1m159 0h1m4 0h1m81 56h1m-455 2h2m4 0h2m1 0h1m2 0h1m1 0h2m1 0h1m2 0h1m1 0h2m1 0h2m1 0h1m3 0h3m2 0h6m1 0h4m2 0h5m1 0h2m1 0h4m1 0h1m1 0h2m1 0h2m1 0h3m1 0h2m1 0h2m1 0h4m2 0h1m1 0h5m1 0h1m1 0h1m1 0h1m1 0h9m2 0h3m2 0h7m1 0h2m1 0h1m1 0h4m2 0h3m4 0h4m2 0h1m1 0h1m1 0h4m1 0h2m1 0h2m1 0h5m1 0h4m2 0h1m4 0h2m1 0h2m1 0h1m2 0h3m1 0h1m4 0h2m2 0h3m4 0h1m1 0h2m2 0h2m4 0h2m1 0h5m2 0h3m1 0h1m2 0h15m1 0h3m1 0h3m1 0h1m1 0h5m1 0h1m1 0h2m1 0h6m2 0h1m2 0h2m1 0h2m1 0h1m1 0h2m2 0h1m1 0h5m1 0h1m1 0h1m1 0h1m1 0h1m4 0h9m1 0h1m2 0h1m1 0h1m3 0h9m2 0h6m2 0h4m3 0h1m3 0h2m1 0h1m1 0h1m1 0h1m3 0h2m3 0h2m2 0h1m4 0h3m2 0h1m4 0h1m1 0h2m1 0h2m1 0h1m1 0h11m1 0h3m2 0h3m2 0h1m1 0h2m2 0h3m2 0h1m2 0h4m3 0h6m2 0h4m3 0h3m3 0h2m3 0h2m1 0h3m1 0h6m1 0h5m1 0h1m5 0h6m1 0h4m1 0h1m1 0h2m1 0h5m1 0h2m-534 1h1m2 0h1m2 0h2m2 0h1m1 0h2m4 0h1m2 0h1m2 0h2m3 0h1m3 0h1m1 0h1m6 0h1m12 0h1m3 0h1m12 0h2m3 0h1m4 0h1m3 0h1m8 0h1m7 0h1m7 0h1m10 0h1m10 0h1m4 0h1m11 0h1m5 0h1m3 0h2m5 0h1m1 0h1m4 0h1m8 0h3m7 0h2m5 0h1m4 0h1m8 0h1m9 0h1m6 0h2m6 0h1m6 0h2m1 0h1m11 0h1m1 0h1m1 0h1m1 0h1m16 0h1m8 0h1m7 0h1m5 0h1m1 0h1m1 0h1m5 0h1m11 0h2m2 0h1m4 0h1m2 0h1m3 0h1m2 0h1m6 0h1m9 0h2m3 0h1m2 0h1m1 0h1m2 0h1m2 0h1m10 0h1m4 0h1m3 0h1m11 0h1m9 0h2m2 0h2m1 0h1m13 0h2m8 0h1m2 0h1m3 0h2m2 0h3m1 0h1m3 0h1m1 0h2m4 0h1m5 0h1m4 0h1m8 0h1m11 0h2m4 0h1m2 0h1m5 0h1m1 0h1m3 0h1m-488 6h4m2 0h1m8 0h1m4 0h1m13 0h1m35 0h1m6 0h1m4 0h1m10 0h1m1 0h1m32 0h1m5 0h1m18 0h1m21 0h1m4 0h1m8 0h1m6 0h1m1 0h1m11 0h1m7 0h1m14 0h1m6 0h1m12 0h1m4 0h1m10 0h1m15 0h1m4 0h1m8 0h1m6 0h1m7 0h1m13 0h2m13 0h3m17 0h2m25 0h1m8 0h1m29 0h1m28 0h1m-488 1h1m48 0h1m10 0h2m13 0h1m4 0h1m35 0h1m5 0h1m1 0h1m5 0h1m5 0h1m36 0h1m12 0h1m13 0h1m23 0h1m5 0h2m12 0h1m3 0h1m24 0h1m1 0h1m47 0h1m6 0h1m12 0h1m4 0h1m24 0h1m23 0h1m1 0h2m12 0h1m1 0h1m8 0h1m7 0h1m6 0h1m10 0h1m8 0h1m11 0h1m29 0h1m1 0h1"/>
<path stroke="#05fffa" d="M0 .5m3 410h1m52 0h1m20 0h1m4 0h1m7 0h1m8 0h3m1 0h1m1 0h1m37 0h1m8 0h1m22 0h1m7 0h1m8 0h1m22 0h1m7 0h1m2 0h1m6 0h1m4 0h1m31 0h1m10 0h1m10 0h1m1 0h1m11 0h1m15 0h1m6 0h1m3 0h2m8 0h1m1 0h1m23 0h1m34 0h1m5 0h1m12 0h1m28 0h1m6 0h1m4 0h1m16 0h2m36 0h1m3 0h1m10 0h1m10 0h1m18 0h1m1 0h1m8 0h1m19 0h1m21 0h1m6 0h1m15 0h1m19 0h1m5 0h1m6 0h1m30 0h1m3 0h1m6 0h1m4 0h1m35 0h1m25 0h1m7 0h1m13 0h1m-793 1h1m6 0h1m2 0h1m1 0h1m102 0h1m35 0h1m151 0h1m96 0h1m1 0h1m121 0h1m43 0h1m100 0h1m73 0h1m8 0h1"/>
<path stroke="url(#p20)" d="M0 .5m641 441h1m42 3h1m88 0h1m3 0h1m-110 1h1m5 0h2m102 0h1m-100 1h1m6 0h1m53 0h1m-107 1h1m84 0h1m21 0h1m-80 1h1m-87 1h1m32 0h1m-2 1h1m47 0h1m75 1h1"/>
<path stroke="#1affe5" d="M.5 0m212 611v1m3-1v1m2-1v1m68-1v1m142-1v1m79-1v1"/>
<path stroke="#2effd1" d="M0 .5m155 611h1m4 0h3m1 0h1m44 0h1m1 0h1m1 0h2m110 0h1m1 0h2m4 0h1m83 0h1m2 0h1m1 0h1m2 0h1m10 0h1m3 0h1m2 0h1m3 0h1"/>
<path stroke="#42ffbd" d="M.5 0m27 585v1m92-519v1m6 316v1m14 167v1m15 58v1m2-1v1m3-1v1m6-1v1m14-96v1m31 94v1m6-1v1m26-151v1m8 68v1m11-57v1m3 15v1m66 120v1m2-1v1m27-135v1m9-6v1m47-163v1m6 300v1m7-1v1m7-338v1m0 336v1m2-1v1m2-1v1m5-1v1m10-17v1m13-25v1m44 28v1m24-27v1m2 25v1"/>
<path stroke="#57ffa8" d="M0 .5m163 611h1m44 0h1m35 0h1m173 0h1m19 0h1m3 0h1m61 0h2m-235 1h1m3 0h1m49 0h1m8 0h1m69 0h1"/>
<path stroke="#6bff94" d="M.5 0m107 612v1m39-1v1m218-1v1m16-1v1m59-1v1m38-1v1"/>
<path stroke="#80ff80" d="M0 .5m17 612h1m56 0h1m47 0h2m7 0h1m215 0h1m80 0h1"/>
<path stroke="#94ff6b" d="M.5 0m48 612v1m177-1v1m191-1v1"/>
<path stroke="#a8ff57" d="M.5 0m20 612v1m101-1v1m24-1v1m165-1v1m122-1v1m4-1v1m60-1v1m12-1v1"/>
<path stroke="#bdff42" d="M.5 0m24 612v1m134-1v1m45-1v1m290-1v1m17-1v1m5-1v1m19-1v1"/>
<path stroke="#d1ff2e" d="M0 .5m0 611h1m5 0h1m1 0h3m5 0h2m11 0h1m3 0h2m13 0h2m13 0h1m13 0h2m3 0h1m1 0h1m1 0h3m16 0h1m1 0h1m2 0h2m9 0h1m11 0h2m1 0h2m10 0h1m4 0h1m17 0h1m1 0h1m3 0h1m2 0h1m13 0h1m5 0h1m1 0h2m54 0h1m13 0h1m11 0h1m3 0h1m8 0h2m2 0h1m3 0h1m5 0h4m27 0h1m7 0h1m7 0h1m2 0h1m1 0h1m3 0h1m3 0h1m9 0h1m4 0h1m5 0h1m7 0h2m9 0h2m1 0h2m14 0h1m20 0h1m2 0h1m2 0h1m3 0h1m1 0h1m2 0h1m1 0h1m21 0h1m25 0h1m10 0h1m5 0h2m-523 1h1m24 0h1m32 0h1m215 0h1m27 0h1m7 0h1m46 0h1m49 0h1m77 0h1m13 0h1"/>
<path stroke="#e5ff1a" d="M0 .5m1 611h4m2 0h1m10 0h1m2 0h1m1 0h1m1 0h1m1 0h2m2 0h1m5 0h1m3 0h1m3 0h1m4 0h1m2 0h1m1 0h4m5 0h3m1 0h1m1 0h1m4 0h1m5 0h1m8 0h1m1 0h1m1 0h2m1 0h1m1 0h1m9 0h1m2 0h1m1 0h1m3 0h1m1 0h1m1 0h1m2 0h1m2 0h2m14 0h1m2 0h1m1 0h2m1 0h1m16 0h2m1 0h1m5 0h1m2 0h1m1 0h2m1 0h1m4 0h1m3 0h3m26 0h1m2 0h1m2 0h2m1 0h1m2 0h2m4 0h1m5 0h2m5 0h1m1 0h1m2 0h1m1 0h1m2 0h1m3 0h1m1 0h1m1 0h1m2 0h2m1 0h1m7 0h1m3 0h1m2 0h1m1 0h1m5 0h2m6 0h1m5 0h1m1 0h1m16 0h1m2 0h1m2 0h1m4 0h2m11 0h1m6 0h1m1 0h3m1 0h2m3 0h1m5 0h2m6 0h1m1 0h1m1 0h2m9 0h1m2 0h1m6 0h1m12 0h1m20 0h1m1 0h1m2 0h2m3 0h1m1 0h1m8 0h1m3 0h1m1 0h2m4 0h2m1 0h1m6 0h1m19 0h1m7 0h2m1 0h1m4 0h1m-503 1h1m75 0h2m25 0h1m97 0h1m126 0h1m5 0h1m22 0h1m7 0h1"/>
<path stroke="#faff05" d="M0 .5m406 199h1m167 243h1m64 0h1m8 1h1m147 0h1m-92 1h1m-128 1h1m146 0h1m38 0h1m-100 1h1m96 0h2m-142 1h1m99 1h1m-659 10h1m295 18h1m-216 31h1m250 5h1m67 10h1m-221 3h1m216 0h4m-76 2h2m87 0h3m-10 1h3m10 0h1m-13 2h1m-90 1h5m1 0h2m91 0h3m-92 2h1m118 1h1m-408 9h1m432 3h1m-440 36h1m46 13h1m-135 16h2m1 0h1m3 0h2m5 0h1m3 0h1m1 0h1m3 0h1m1 0h2m2 0h1m1 0h1m1 0h2m3 0h1m8 0h1m10 0h1m1 0h2m1 0h1m3 0h1m2 0h1m1 0h1m5 0h1m6 0h1m1 0h4m4 0h1m4 0h1m2 0h1m6 0h1m3 0h1m2 0h2m6 0h1m1 0h2m1 0h1m1 0h2m4 0h1m14 0h3m5 0h2m3 0h1m5 0h1m4 0h1m7 0h2m4 0h1m20 0h2m2 0h1m4 0h2m3 0h1m10 0h2m1 0h2m1 0h1m2 0h1m3 0h2m5 0h1m3 0h2m4 0h2m1 0h1m5 0h2m1 0h2m1 0h1m3 0h2m3 0h1m1 0h3m6 0h1m1 0h1m19 0h1m1 0h2m2 0h2m4 0h1m2 0h1m1 0h2m1 0h1m7 0h1m12 0h1m3 0h1m2 0h1m1 0h3m4 0h1m4 0h1m2 0h2m3 0h1m23 0h1m21 0h1m4 0h2m4 0h2m1 0h1m1 0h2m1 0h3m10 0h1m6 0h1m1 0h2m11 0h1m1 0h1m1 0h1m3 0h1m1 0h1m1 0h2m2 0h1m4 0h1m2 0h2m-468 1h1m512 3h3m1 0h1m8 0h2m63 0h3m1 0h1m9 0h3m28 0h2m30 0h1m4 0h2m4 0h2m26 0h1m16 0h1"/>
<path stroke="#fff000" d="M0 .5m5 611h1m5 0h1m2 0h1m7 0h1m1 0h1m10 0h1m4 0h1m2 0h1m8 0h1m1 0h1m4 0h1m1 0h2m4 0h1m1 0h1m2 0h1m6 0h1m9 0h1m3 0h1m10 0h1m1 0h1m8 0h1m1 0h1m1 0h1m4 0h1m1 0h1m5 0h1m2 0h1m3 0h1m2 0h1m33 0h1m5 0h1m4 0h3m2 0h2m7 0h1m21 0h1m4 0h1m3 0h1m5 0h1m1 0h2m10 0h1m8 0h1m16 0h1m3 0h1m26 0h1m26 0h1m8 0h1m2 0h1m2 0h1m1 0h1m2 0h1m3 0h1m1 0h1m1 0h1m9 0h3m2 0h2m9 0h1m6 0h2m5 0h2m2 0h1m1 0h1m2 0h1m62 0h1m10 0h3m1 0h1m4 0h2m10 0h1m1 0h1m1 0h1m1 0h1m3 0h1m6 0h2m3 0h1"/>
<path stroke="#ffb200" d="M.5 0m38 474v1m12 109v1m9 3v1m1-45v1m185-22v1m40 23v1m116-9v1m44-31v1m72-52v1m27 111v1m22-126v1m6-2v1m13 7v1m13-5v1m20 5v1m2-6v1m5-2v1m78-5v1m3 3v1m38-3v1m6-2v1"/>
<path stroke="#fa0000" d="M.5 0m121 601v1"/>
<path stroke="#e50000" d="M0 .5m434 433h1m-215 1h1m68 5h1m18 7h1m-228 12h1m-23 18h1m277 10h1m-159 3h1m358 23h1m-529 8h1m-4 1h4m369 1h4m6 0h2m-12 1h3m-368 4h2m368 1h2m8 3h2m76 0h3m-457 1h1m223 1h2m297 5h1m-462 11h1m73 0h3m58 5h1m90 2h1m89 8h1m-239 1h5m-76 1h1m23 0h1m46 0h5m-76 1h1m23 0h1m326 8h1m-371 6h1m214 0h1m-178 15h1m355 2h1m-331 3h1m5 0h4m2 0h1m4 0h1m14 0h1m11 0h1m18 0h1"/>
<path stroke="#d10000" d="M0 .5m146 601h4m23 0h1m6 0h1m1 0h1"/>
<path stroke="#bd0000" d="M.5 0m122 601v1m29-1v1m15-1v1m15-1v1m2-1v1"/>
<path stroke="#a80000" d="M.5 0m136 601v1m36-1v1m12-1v1m17-1v1"/>
<path stroke="#940000" d="M0 .5m134 601h2m7 0h1m27 0h1m2 0h1m1 0h1m1 0h1"/>
</g>
<g stroke="#000" stroke-width="1.1" fill="none" shape-rendering="auto">
<path d="M104.5 53.3H913.5V680.1H104.5Z"/>
<path stroke-width="1" d="M122.50 53.3v3.0M122.50 680.1v-3.0M144.50 53.3v3.0M144.50 680.1v-3.0M167.50 53.3v3.0M167.50 680.1v-3.0M189.50 53.3v3.0M189.50 680.1v-3.0M212.50 53.3v3.0M212.50 680.1v-3.0M234.50 53.3v5.2M234.50 680.1v-5.2M257.50 53.3v3.0M257.50 680.1v-3.0M279.50 53.3v3.0M279.50 680.1v-3.0M302.50 53.3v3.0M302.50 680.1v-3.0M324.50 53.3v3.0M324.50 680.1v-3.0M347.50 53.3v3.0M347.50 680.1v-3.0M369.50 53.3v5.2M369.50 680.1v-5.2M392.50 53.3v3.0M392.50 680.1v-3.0M414.50 53.3v3.0M414.50 680.1v-3.0M437.50 53.3v3.0M437.50 680.1v-3.0M459.50 53.3v3.0M459.50 680.1v-3.0M482.50 53.3v3.0M482.50 680.1v-3.0M504.50 53.3v5.2M504.50 680.1v-5.2M526.50 53.3v3.0M526.50 680.1v-3.0M549.50 53.3v3.0M549.50 680.1v-3.0M571.50 53.3v3.0M571.50 680.1v-3.0M594.50 53.3v3.0M594.50 680.1v-3.0M616.50 53.3v3.0M616.50 680.1v-3.0M639.50 53.3v5.2M639.50 680.1v-5.2M661.50 53.3v3.0M661.50 680.1v-3.0M684.50 53.3v3.0M684.50 680.1v-3.0M706.50 53.3v3.0M706.50 680.1v-3.0M729.50 53.3v3.0M729.50 680.1v-3.0M751.50 53.3v3.0M751.50 680.1v-3.0M774.50 53.3v5.2M774.50 680.1v-5.2M796.50 53.3v3.0M796.50 680.1v-3.0M819.50 53.3v3.0M819.50 680.1v-3.0M841.50 53.3v3.0M841.50 680.1v-3.0M864.50 53.3v3.0M864.50 680.1v-3.0M886.50 53.3v3.0M886.50 680.1v-3.0M909.50 53.3v5.2M909.50 680.1v-5.2M104.5 679.50h6.8M913.5 679.50h-6.8M104.5 653.50h3.6M913.5 653.50h-3.6M104.5 627.50h3.6M913.5 627.50h-3.6M104.5 601.50h3.6M913.5 601.50h-3.6M104.5 575.50h6.8M913.5 575.50h-6.8M104.5 549.50h3.6M913.5 549.50h-3.6M104.5 522.50h3.6M913.5 522.50h-3.6M104.5 496.50h3.6M913.5 496.50h-3.6M104.5 470.50h6.8M913.5 470.50h-6.8M104.5 444.50h3.6M913.5 444.50h-3.6M104.5 418.50h3.6M913.5 418.50h-3.6M104.5 392.50h3.6M913.5 392.50h-3.6M104.5 366.50h6.8M913.5 366.50h-6.8M104.5 340.50h3.6M913.5 340.50h-3.6M104.5 314.50h3.6M913.5 314.50h-3.6M104.5 287.50h3.6M913.5 287.50h-3.6M104.5 261.50h6.8M913.5 261.50h-6.8M104.5 235.50h3.6M913.5 235.50h-3.6M104.5 209.50h3.6M913.5 209.50h-3.6M104.5 183.50h3.6M913.5 183.50h-3.6M104.5 157.50h6.8M913.5 157.50h-6.8M104.5 131.50h3.6M913.5 131.50h-3.6M104.5 105.50h3.6M913.5 105.50h-3.6M104.5 79.50h3.6M913.5 79.50h-3.6M104.5 52.50h6.8M913.5 52.50h-6.8"/>
</g>
<rect x="923" y="128" width="26" height="477.5" fill="url(#jet)" stroke="#000" stroke-width="0.8"/>
<path d="M949 581.34h-2M949 557.48h-2M949 533.62h-2M949 509.76h-2M949 485.90h-2M949 462.04h-2M949 438.18h-2M949 414.32h-2M949 390.46h-2M949 366.60h-2M949 342.74h-2M949 318.88h-2M949 295.02h-2M949 271.16h-2M949 247.30h-2M949 223.44h-2M949 199.58h-2M949 175.72h-2M949 151.86h-2" stroke="#000" stroke-width="1" fill="none"/>
<g opacity="0.996">
<text x="114.5" y="40" xml:space="preserve" style="white-space:pre">Cross Channel Correlation Peak weighted   17:01 17.01.2020 - 20:01 17.01.2020 Muenchen</text>
<text x="99.5" y="680.3" text-anchor="end">0</text>
<text x="99.5" y="582.4" text-anchor="end">2</text>
<text x="99.5" y="477.9" text-anchor="end">4</text>
<text x="99.5" y="373.4" text-anchor="end">6</text>
<text x="99.5" y="269.0" text-anchor="end">8</text>
<text x="99.5" y="164.6" text-anchor="end">10</text>
<text x="99.5" y="65.1" text-anchor="end">12</text>
<text x="234.8" y="705" text-anchor="middle">17:30</text>
<text x="369.7" y="705" text-anchor="middle">18:00</text>
<text x="504.5" y="705" text-anchor="middle">18:30</text>
<text x="639.3" y="705" text-anchor="middle">19:00</text>
<text x="774.2" y="705" text-anchor="middle">19:30</text>
<text x="909.0" y="705" text-anchor="middle">20:00</text>
<text x="509" y="726.7" text-anchor="middle">Time UTC</text>
<text transform="translate(61.5,364.5) rotate(-90)" text-anchor="middle">Height km</text>
<text transform="translate(998,372) rotate(-90)" text-anchor="middle">RHOwav</text>
<text x="953.5" y="604.6">0.0</text>
<text x="953.5" y="516.1">0.2</text>
<text x="953.5" y="420.6">0.4</text>
<text x="953.5" y="325.2">0.6</text>
<text x="953.5" y="229.7">0.8</text>
<text x="953.5" y="140.3">1.0</text>
</g>
</svg></body></html>
